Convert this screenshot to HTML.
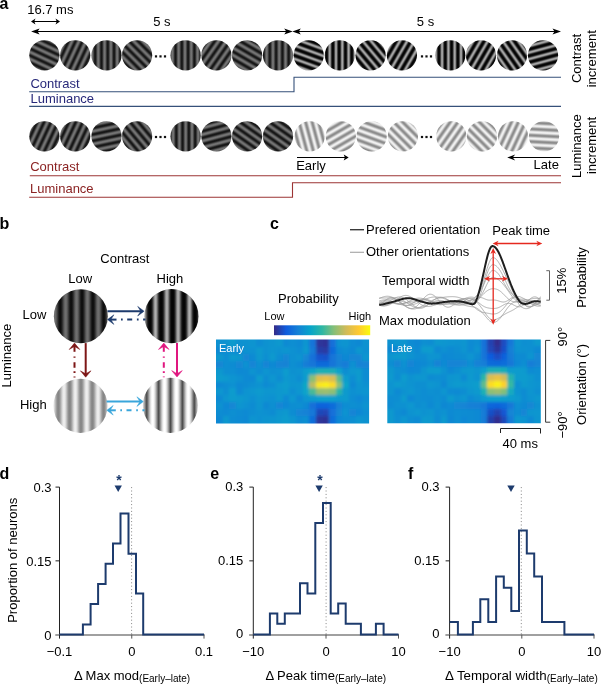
<!DOCTYPE html>
<html><head><meta charset="utf-8"><style>
html,body{margin:0;padding:0;background:#fff;}
svg{display:block;will-change:transform;}
text{font-family:"Liberation Sans", sans-serif;}
</style></head><body>
<svg width="601" height="685" viewBox="0 0 601 685">
<defs>
<linearGradient id="g1" gradientUnits="userSpaceOnUse" spreadMethod="repeat" x1="44.40" y1="55.30" x2="41.74" y2="61.01"><stop offset="0.0" stop-color="#151515"/><stop offset="0.08333333333333333" stop-color="#1b1b1b"/><stop offset="0.16666666666666666" stop-color="#2d2d2d"/><stop offset="0.25" stop-color="#454545"/><stop offset="0.3333333333333333" stop-color="#5d5d5d"/><stop offset="0.4166666666666667" stop-color="#6f6f6f"/><stop offset="0.5" stop-color="#757575"/><stop offset="0.5833333333333334" stop-color="#6f6f6f"/><stop offset="0.6666666666666666" stop-color="#5d5d5d"/><stop offset="0.75" stop-color="#454545"/><stop offset="0.8333333333333334" stop-color="#2d2d2d"/><stop offset="0.9166666666666666" stop-color="#1b1b1b"/><stop offset="1.0" stop-color="#151515"/></linearGradient>
<linearGradient id="g2" gradientUnits="userSpaceOnUse" spreadMethod="repeat" x1="75.77" y1="55.57" x2="81.48" y2="58.23"><stop offset="0.0" stop-color="#151515"/><stop offset="0.08333333333333333" stop-color="#1b1b1b"/><stop offset="0.16666666666666666" stop-color="#2d2d2d"/><stop offset="0.25" stop-color="#454545"/><stop offset="0.3333333333333333" stop-color="#5d5d5d"/><stop offset="0.4166666666666667" stop-color="#6f6f6f"/><stop offset="0.5" stop-color="#757575"/><stop offset="0.5833333333333334" stop-color="#6f6f6f"/><stop offset="0.6666666666666666" stop-color="#5d5d5d"/><stop offset="0.75" stop-color="#454545"/><stop offset="0.8333333333333334" stop-color="#2d2d2d"/><stop offset="0.9166666666666666" stop-color="#1b1b1b"/><stop offset="1.0" stop-color="#151515"/></linearGradient>
<linearGradient id="g3" gradientUnits="userSpaceOnUse" spreadMethod="repeat" x1="107.76" y1="55.30" x2="114.06" y2="55.30"><stop offset="0.0" stop-color="#151515"/><stop offset="0.08333333333333333" stop-color="#1b1b1b"/><stop offset="0.16666666666666666" stop-color="#2d2d2d"/><stop offset="0.25" stop-color="#454545"/><stop offset="0.3333333333333333" stop-color="#5d5d5d"/><stop offset="0.4166666666666667" stop-color="#6f6f6f"/><stop offset="0.5" stop-color="#757575"/><stop offset="0.5833333333333334" stop-color="#6f6f6f"/><stop offset="0.6666666666666666" stop-color="#5d5d5d"/><stop offset="0.75" stop-color="#454545"/><stop offset="0.8333333333333334" stop-color="#2d2d2d"/><stop offset="0.9166666666666666" stop-color="#1b1b1b"/><stop offset="1.0" stop-color="#151515"/></linearGradient>
<linearGradient id="g4" gradientUnits="userSpaceOnUse" spreadMethod="repeat" x1="135.76" y1="56.64" x2="131.31" y2="61.09"><stop offset="0.0" stop-color="#151515"/><stop offset="0.08333333333333333" stop-color="#1b1b1b"/><stop offset="0.16666666666666666" stop-color="#2d2d2d"/><stop offset="0.25" stop-color="#454545"/><stop offset="0.3333333333333333" stop-color="#5d5d5d"/><stop offset="0.4166666666666667" stop-color="#6f6f6f"/><stop offset="0.5" stop-color="#757575"/><stop offset="0.5833333333333334" stop-color="#6f6f6f"/><stop offset="0.6666666666666666" stop-color="#5d5d5d"/><stop offset="0.75" stop-color="#454545"/><stop offset="0.8333333333333334" stop-color="#2d2d2d"/><stop offset="0.9166666666666666" stop-color="#1b1b1b"/><stop offset="1.0" stop-color="#151515"/></linearGradient>
<linearGradient id="g5" gradientUnits="userSpaceOnUse" spreadMethod="repeat" x1="188.12" y1="55.30" x2="194.42" y2="55.30"><stop offset="0.0" stop-color="#151515"/><stop offset="0.08333333333333333" stop-color="#1b1b1b"/><stop offset="0.16666666666666666" stop-color="#2d2d2d"/><stop offset="0.25" stop-color="#454545"/><stop offset="0.3333333333333333" stop-color="#5d5d5d"/><stop offset="0.4166666666666667" stop-color="#6f6f6f"/><stop offset="0.5" stop-color="#757575"/><stop offset="0.5833333333333334" stop-color="#6f6f6f"/><stop offset="0.6666666666666666" stop-color="#5d5d5d"/><stop offset="0.75" stop-color="#454545"/><stop offset="0.8333333333333334" stop-color="#2d2d2d"/><stop offset="0.9166666666666666" stop-color="#1b1b1b"/><stop offset="1.0" stop-color="#151515"/></linearGradient>
<linearGradient id="g6" gradientUnits="userSpaceOnUse" spreadMethod="repeat" x1="218.98" y1="57.11" x2="224.14" y2="60.72"><stop offset="0.0" stop-color="#151515"/><stop offset="0.08333333333333333" stop-color="#1b1b1b"/><stop offset="0.16666666666666666" stop-color="#2d2d2d"/><stop offset="0.25" stop-color="#454545"/><stop offset="0.3333333333333333" stop-color="#5d5d5d"/><stop offset="0.4166666666666667" stop-color="#6f6f6f"/><stop offset="0.5" stop-color="#757575"/><stop offset="0.5833333333333334" stop-color="#6f6f6f"/><stop offset="0.6666666666666666" stop-color="#5d5d5d"/><stop offset="0.75" stop-color="#454545"/><stop offset="0.8333333333333334" stop-color="#2d2d2d"/><stop offset="0.9166666666666666" stop-color="#1b1b1b"/><stop offset="1.0" stop-color="#151515"/></linearGradient>
<linearGradient id="g7" gradientUnits="userSpaceOnUse" spreadMethod="repeat" x1="245.21" y1="58.57" x2="242.06" y2="64.03"><stop offset="0.0" stop-color="#151515"/><stop offset="0.08333333333333333" stop-color="#1b1b1b"/><stop offset="0.16666666666666666" stop-color="#2d2d2d"/><stop offset="0.25" stop-color="#454545"/><stop offset="0.3333333333333333" stop-color="#5d5d5d"/><stop offset="0.4166666666666667" stop-color="#6f6f6f"/><stop offset="0.5" stop-color="#757575"/><stop offset="0.5833333333333334" stop-color="#6f6f6f"/><stop offset="0.6666666666666666" stop-color="#5d5d5d"/><stop offset="0.75" stop-color="#454545"/><stop offset="0.8333333333333334" stop-color="#2d2d2d"/><stop offset="0.9166666666666666" stop-color="#1b1b1b"/><stop offset="1.0" stop-color="#151515"/></linearGradient>
<linearGradient id="g8" gradientUnits="userSpaceOnUse" spreadMethod="repeat" x1="282.41" y1="55.30" x2="288.71" y2="55.30"><stop offset="0.0" stop-color="#151515"/><stop offset="0.08333333333333333" stop-color="#1b1b1b"/><stop offset="0.16666666666666666" stop-color="#2d2d2d"/><stop offset="0.25" stop-color="#454545"/><stop offset="0.3333333333333333" stop-color="#5d5d5d"/><stop offset="0.4166666666666667" stop-color="#6f6f6f"/><stop offset="0.5" stop-color="#757575"/><stop offset="0.5833333333333334" stop-color="#6f6f6f"/><stop offset="0.6666666666666666" stop-color="#5d5d5d"/><stop offset="0.75" stop-color="#454545"/><stop offset="0.8333333333333334" stop-color="#2d2d2d"/><stop offset="0.9166666666666666" stop-color="#1b1b1b"/><stop offset="1.0" stop-color="#151515"/></linearGradient>
<linearGradient id="g9" gradientUnits="userSpaceOnUse" spreadMethod="repeat" x1="306.98" y1="60.04" x2="304.82" y2="65.96"><stop offset="0.0" stop-color="#040404"/><stop offset="0.041666666666666664" stop-color="#050505"/><stop offset="0.08333333333333333" stop-color="#080808"/><stop offset="0.125" stop-color="#0f0f0f"/><stop offset="0.16666666666666666" stop-color="#1c1c1c"/><stop offset="0.20833333333333334" stop-color="#2d2d2d"/><stop offset="0.25" stop-color="#424242"/><stop offset="0.2916666666666667" stop-color="#5a5a5a"/><stop offset="0.3333333333333333" stop-color="#727272"/><stop offset="0.375" stop-color="#878787"/><stop offset="0.4166666666666667" stop-color="#999999"/><stop offset="0.4583333333333333" stop-color="#a4a4a4"/><stop offset="0.5" stop-color="#a8a8a8"/><stop offset="0.5416666666666666" stop-color="#a4a4a4"/><stop offset="0.5833333333333334" stop-color="#999999"/><stop offset="0.625" stop-color="#878787"/><stop offset="0.6666666666666666" stop-color="#727272"/><stop offset="0.7083333333333334" stop-color="#5a5a5a"/><stop offset="0.75" stop-color="#424242"/><stop offset="0.7916666666666666" stop-color="#2d2d2d"/><stop offset="0.8333333333333334" stop-color="#1c1c1c"/><stop offset="0.875" stop-color="#0f0f0f"/><stop offset="0.9166666666666666" stop-color="#080808"/><stop offset="0.9583333333333334" stop-color="#050505"/><stop offset="1.0" stop-color="#040404"/></linearGradient>
<linearGradient id="g10" gradientUnits="userSpaceOnUse" spreadMethod="repeat" x1="345.47" y1="55.30" x2="351.77" y2="55.30"><stop offset="0.0" stop-color="#040404"/><stop offset="0.041666666666666664" stop-color="#050505"/><stop offset="0.08333333333333333" stop-color="#080808"/><stop offset="0.125" stop-color="#0f0f0f"/><stop offset="0.16666666666666666" stop-color="#1c1c1c"/><stop offset="0.20833333333333334" stop-color="#2d2d2d"/><stop offset="0.25" stop-color="#424242"/><stop offset="0.2916666666666667" stop-color="#5a5a5a"/><stop offset="0.3333333333333333" stop-color="#727272"/><stop offset="0.375" stop-color="#878787"/><stop offset="0.4166666666666667" stop-color="#999999"/><stop offset="0.4583333333333333" stop-color="#a4a4a4"/><stop offset="0.5" stop-color="#a8a8a8"/><stop offset="0.5416666666666666" stop-color="#a4a4a4"/><stop offset="0.5833333333333334" stop-color="#999999"/><stop offset="0.625" stop-color="#878787"/><stop offset="0.6666666666666666" stop-color="#727272"/><stop offset="0.7083333333333334" stop-color="#5a5a5a"/><stop offset="0.75" stop-color="#424242"/><stop offset="0.7916666666666666" stop-color="#2d2d2d"/><stop offset="0.8333333333333334" stop-color="#1c1c1c"/><stop offset="0.875" stop-color="#0f0f0f"/><stop offset="0.9166666666666666" stop-color="#080808"/><stop offset="0.9583333333333334" stop-color="#050505"/><stop offset="1.0" stop-color="#040404"/></linearGradient>
<linearGradient id="g11" gradientUnits="userSpaceOnUse" spreadMethod="repeat" x1="365.77" y1="59.35" x2="360.95" y2="63.40"><stop offset="0.0" stop-color="#040404"/><stop offset="0.041666666666666664" stop-color="#050505"/><stop offset="0.08333333333333333" stop-color="#080808"/><stop offset="0.125" stop-color="#0f0f0f"/><stop offset="0.16666666666666666" stop-color="#1c1c1c"/><stop offset="0.20833333333333334" stop-color="#2d2d2d"/><stop offset="0.25" stop-color="#424242"/><stop offset="0.2916666666666667" stop-color="#5a5a5a"/><stop offset="0.3333333333333333" stop-color="#727272"/><stop offset="0.375" stop-color="#878787"/><stop offset="0.4166666666666667" stop-color="#999999"/><stop offset="0.4583333333333333" stop-color="#a4a4a4"/><stop offset="0.5" stop-color="#a8a8a8"/><stop offset="0.5416666666666666" stop-color="#a4a4a4"/><stop offset="0.5833333333333334" stop-color="#999999"/><stop offset="0.625" stop-color="#878787"/><stop offset="0.6666666666666666" stop-color="#727272"/><stop offset="0.7083333333333334" stop-color="#5a5a5a"/><stop offset="0.75" stop-color="#424242"/><stop offset="0.7916666666666666" stop-color="#2d2d2d"/><stop offset="0.8333333333333334" stop-color="#1c1c1c"/><stop offset="0.875" stop-color="#0f0f0f"/><stop offset="0.9166666666666666" stop-color="#080808"/><stop offset="0.9583333333333334" stop-color="#050505"/><stop offset="1.0" stop-color="#040404"/></linearGradient>
<linearGradient id="g12" gradientUnits="userSpaceOnUse" spreadMethod="repeat" x1="407.90" y1="58.77" x2="413.36" y2="61.91"><stop offset="0.0" stop-color="#040404"/><stop offset="0.041666666666666664" stop-color="#050505"/><stop offset="0.08333333333333333" stop-color="#080808"/><stop offset="0.125" stop-color="#0f0f0f"/><stop offset="0.16666666666666666" stop-color="#1c1c1c"/><stop offset="0.20833333333333334" stop-color="#2d2d2d"/><stop offset="0.25" stop-color="#424242"/><stop offset="0.2916666666666667" stop-color="#5a5a5a"/><stop offset="0.3333333333333333" stop-color="#727272"/><stop offset="0.375" stop-color="#878787"/><stop offset="0.4166666666666667" stop-color="#999999"/><stop offset="0.4583333333333333" stop-color="#a4a4a4"/><stop offset="0.5" stop-color="#a8a8a8"/><stop offset="0.5416666666666666" stop-color="#a4a4a4"/><stop offset="0.5833333333333334" stop-color="#999999"/><stop offset="0.625" stop-color="#878787"/><stop offset="0.6666666666666666" stop-color="#727272"/><stop offset="0.7083333333333334" stop-color="#5a5a5a"/><stop offset="0.75" stop-color="#424242"/><stop offset="0.7916666666666666" stop-color="#2d2d2d"/><stop offset="0.8333333333333334" stop-color="#1c1c1c"/><stop offset="0.875" stop-color="#0f0f0f"/><stop offset="0.9166666666666666" stop-color="#080808"/><stop offset="0.9583333333333334" stop-color="#050505"/><stop offset="1.0" stop-color="#040404"/></linearGradient>
<linearGradient id="g13" gradientUnits="userSpaceOnUse" spreadMethod="repeat" x1="457.86" y1="55.30" x2="464.16" y2="55.30"><stop offset="0.0" stop-color="#040404"/><stop offset="0.041666666666666664" stop-color="#050505"/><stop offset="0.08333333333333333" stop-color="#080808"/><stop offset="0.125" stop-color="#0f0f0f"/><stop offset="0.16666666666666666" stop-color="#1c1c1c"/><stop offset="0.20833333333333334" stop-color="#2d2d2d"/><stop offset="0.25" stop-color="#424242"/><stop offset="0.2916666666666667" stop-color="#5a5a5a"/><stop offset="0.3333333333333333" stop-color="#727272"/><stop offset="0.375" stop-color="#878787"/><stop offset="0.4166666666666667" stop-color="#999999"/><stop offset="0.4583333333333333" stop-color="#a4a4a4"/><stop offset="0.5" stop-color="#a8a8a8"/><stop offset="0.5416666666666666" stop-color="#a4a4a4"/><stop offset="0.5833333333333334" stop-color="#999999"/><stop offset="0.625" stop-color="#878787"/><stop offset="0.6666666666666666" stop-color="#727272"/><stop offset="0.7083333333333334" stop-color="#5a5a5a"/><stop offset="0.75" stop-color="#424242"/><stop offset="0.7916666666666666" stop-color="#2d2d2d"/><stop offset="0.8333333333333334" stop-color="#1c1c1c"/><stop offset="0.875" stop-color="#0f0f0f"/><stop offset="0.9166666666666666" stop-color="#080808"/><stop offset="0.9583333333333334" stop-color="#050505"/><stop offset="1.0" stop-color="#040404"/></linearGradient>
<linearGradient id="g14" gradientUnits="userSpaceOnUse" spreadMethod="repeat" x1="488.09" y1="59.39" x2="493.55" y2="62.54"><stop offset="0.0" stop-color="#040404"/><stop offset="0.041666666666666664" stop-color="#050505"/><stop offset="0.08333333333333333" stop-color="#080808"/><stop offset="0.125" stop-color="#0f0f0f"/><stop offset="0.16666666666666666" stop-color="#1c1c1c"/><stop offset="0.20833333333333334" stop-color="#2d2d2d"/><stop offset="0.25" stop-color="#424242"/><stop offset="0.2916666666666667" stop-color="#5a5a5a"/><stop offset="0.3333333333333333" stop-color="#727272"/><stop offset="0.375" stop-color="#878787"/><stop offset="0.4166666666666667" stop-color="#999999"/><stop offset="0.4583333333333333" stop-color="#a4a4a4"/><stop offset="0.5" stop-color="#a8a8a8"/><stop offset="0.5416666666666666" stop-color="#a4a4a4"/><stop offset="0.5833333333333334" stop-color="#999999"/><stop offset="0.625" stop-color="#878787"/><stop offset="0.6666666666666666" stop-color="#727272"/><stop offset="0.7083333333333334" stop-color="#5a5a5a"/><stop offset="0.75" stop-color="#424242"/><stop offset="0.7916666666666666" stop-color="#2d2d2d"/><stop offset="0.8333333333333334" stop-color="#1c1c1c"/><stop offset="0.875" stop-color="#0f0f0f"/><stop offset="0.9166666666666666" stop-color="#080808"/><stop offset="0.9583333333333334" stop-color="#050505"/><stop offset="1.0" stop-color="#040404"/></linearGradient>
<linearGradient id="g15" gradientUnits="userSpaceOnUse" spreadMethod="repeat" x1="504.78" y1="60.36" x2="499.61" y2="63.97"><stop offset="0.0" stop-color="#040404"/><stop offset="0.041666666666666664" stop-color="#050505"/><stop offset="0.08333333333333333" stop-color="#080808"/><stop offset="0.125" stop-color="#0f0f0f"/><stop offset="0.16666666666666666" stop-color="#1c1c1c"/><stop offset="0.20833333333333334" stop-color="#2d2d2d"/><stop offset="0.25" stop-color="#424242"/><stop offset="0.2916666666666667" stop-color="#5a5a5a"/><stop offset="0.3333333333333333" stop-color="#727272"/><stop offset="0.375" stop-color="#878787"/><stop offset="0.4166666666666667" stop-color="#999999"/><stop offset="0.4583333333333333" stop-color="#a4a4a4"/><stop offset="0.5" stop-color="#a8a8a8"/><stop offset="0.5416666666666666" stop-color="#a4a4a4"/><stop offset="0.5833333333333334" stop-color="#999999"/><stop offset="0.625" stop-color="#878787"/><stop offset="0.6666666666666666" stop-color="#727272"/><stop offset="0.7083333333333334" stop-color="#5a5a5a"/><stop offset="0.75" stop-color="#424242"/><stop offset="0.7916666666666666" stop-color="#2d2d2d"/><stop offset="0.8333333333333334" stop-color="#1c1c1c"/><stop offset="0.875" stop-color="#0f0f0f"/><stop offset="0.9166666666666666" stop-color="#080808"/><stop offset="0.9583333333333334" stop-color="#050505"/><stop offset="1.0" stop-color="#040404"/></linearGradient>
<linearGradient id="g16" gradientUnits="userSpaceOnUse" spreadMethod="repeat" x1="545.45" y1="64.43" x2="547.08" y2="70.51"><stop offset="0.0" stop-color="#040404"/><stop offset="0.041666666666666664" stop-color="#050505"/><stop offset="0.08333333333333333" stop-color="#080808"/><stop offset="0.125" stop-color="#0f0f0f"/><stop offset="0.16666666666666666" stop-color="#1c1c1c"/><stop offset="0.20833333333333334" stop-color="#2d2d2d"/><stop offset="0.25" stop-color="#424242"/><stop offset="0.2916666666666667" stop-color="#5a5a5a"/><stop offset="0.3333333333333333" stop-color="#727272"/><stop offset="0.375" stop-color="#878787"/><stop offset="0.4166666666666667" stop-color="#999999"/><stop offset="0.4583333333333333" stop-color="#a4a4a4"/><stop offset="0.5" stop-color="#a8a8a8"/><stop offset="0.5416666666666666" stop-color="#a4a4a4"/><stop offset="0.5833333333333334" stop-color="#999999"/><stop offset="0.625" stop-color="#878787"/><stop offset="0.6666666666666666" stop-color="#727272"/><stop offset="0.7083333333333334" stop-color="#5a5a5a"/><stop offset="0.75" stop-color="#424242"/><stop offset="0.7916666666666666" stop-color="#2d2d2d"/><stop offset="0.8333333333333334" stop-color="#1c1c1c"/><stop offset="0.875" stop-color="#0f0f0f"/><stop offset="0.9166666666666666" stop-color="#080808"/><stop offset="0.9583333333333334" stop-color="#050505"/><stop offset="1.0" stop-color="#040404"/></linearGradient>
<linearGradient id="g17" gradientUnits="userSpaceOnUse" spreadMethod="repeat" x1="44.40" y1="136.30" x2="50.11" y2="138.96"><stop offset="0.0" stop-color="#151515"/><stop offset="0.08333333333333333" stop-color="#1b1b1b"/><stop offset="0.16666666666666666" stop-color="#2d2d2d"/><stop offset="0.25" stop-color="#454545"/><stop offset="0.3333333333333333" stop-color="#5d5d5d"/><stop offset="0.4166666666666667" stop-color="#6f6f6f"/><stop offset="0.5" stop-color="#757575"/><stop offset="0.5833333333333334" stop-color="#6f6f6f"/><stop offset="0.6666666666666666" stop-color="#5d5d5d"/><stop offset="0.75" stop-color="#454545"/><stop offset="0.8333333333333334" stop-color="#2d2d2d"/><stop offset="0.9166666666666666" stop-color="#1b1b1b"/><stop offset="1.0" stop-color="#151515"/></linearGradient>
<linearGradient id="g18" gradientUnits="userSpaceOnUse" spreadMethod="repeat" x1="75.94" y1="136.65" x2="81.65" y2="139.31"><stop offset="0.0" stop-color="#151515"/><stop offset="0.08333333333333333" stop-color="#1b1b1b"/><stop offset="0.16666666666666666" stop-color="#2d2d2d"/><stop offset="0.25" stop-color="#454545"/><stop offset="0.3333333333333333" stop-color="#5d5d5d"/><stop offset="0.4166666666666667" stop-color="#6f6f6f"/><stop offset="0.5" stop-color="#757575"/><stop offset="0.5833333333333334" stop-color="#6f6f6f"/><stop offset="0.6666666666666666" stop-color="#5d5d5d"/><stop offset="0.75" stop-color="#454545"/><stop offset="0.8333333333333334" stop-color="#2d2d2d"/><stop offset="0.9166666666666666" stop-color="#1b1b1b"/><stop offset="1.0" stop-color="#151515"/></linearGradient>
<linearGradient id="g19" gradientUnits="userSpaceOnUse" spreadMethod="repeat" x1="106.84" y1="137.90" x2="108.15" y2="144.06"><stop offset="0.0" stop-color="#151515"/><stop offset="0.08333333333333333" stop-color="#1b1b1b"/><stop offset="0.16666666666666666" stop-color="#2d2d2d"/><stop offset="0.25" stop-color="#454545"/><stop offset="0.3333333333333333" stop-color="#5d5d5d"/><stop offset="0.4166666666666667" stop-color="#6f6f6f"/><stop offset="0.5" stop-color="#757575"/><stop offset="0.5833333333333334" stop-color="#6f6f6f"/><stop offset="0.6666666666666666" stop-color="#5d5d5d"/><stop offset="0.75" stop-color="#454545"/><stop offset="0.8333333333333334" stop-color="#2d2d2d"/><stop offset="0.9166666666666666" stop-color="#1b1b1b"/><stop offset="1.0" stop-color="#151515"/></linearGradient>
<linearGradient id="g20" gradientUnits="userSpaceOnUse" spreadMethod="repeat" x1="135.22" y1="137.88" x2="130.39" y2="141.93"><stop offset="0.0" stop-color="#151515"/><stop offset="0.08333333333333333" stop-color="#1b1b1b"/><stop offset="0.16666666666666666" stop-color="#2d2d2d"/><stop offset="0.25" stop-color="#454545"/><stop offset="0.3333333333333333" stop-color="#5d5d5d"/><stop offset="0.4166666666666667" stop-color="#6f6f6f"/><stop offset="0.5" stop-color="#757575"/><stop offset="0.5833333333333334" stop-color="#6f6f6f"/><stop offset="0.6666666666666666" stop-color="#5d5d5d"/><stop offset="0.75" stop-color="#454545"/><stop offset="0.8333333333333334" stop-color="#2d2d2d"/><stop offset="0.9166666666666666" stop-color="#1b1b1b"/><stop offset="1.0" stop-color="#151515"/></linearGradient>
<linearGradient id="g21" gradientUnits="userSpaceOnUse" spreadMethod="repeat" x1="188.88" y1="136.30" x2="195.18" y2="136.30"><stop offset="0.0" stop-color="#151515"/><stop offset="0.08333333333333333" stop-color="#1b1b1b"/><stop offset="0.16666666666666666" stop-color="#2d2d2d"/><stop offset="0.25" stop-color="#454545"/><stop offset="0.3333333333333333" stop-color="#5d5d5d"/><stop offset="0.4166666666666667" stop-color="#6f6f6f"/><stop offset="0.5" stop-color="#757575"/><stop offset="0.5833333333333334" stop-color="#6f6f6f"/><stop offset="0.6666666666666666" stop-color="#5d5d5d"/><stop offset="0.75" stop-color="#454545"/><stop offset="0.8333333333333334" stop-color="#2d2d2d"/><stop offset="0.9166666666666666" stop-color="#1b1b1b"/><stop offset="1.0" stop-color="#151515"/></linearGradient>
<linearGradient id="g22" gradientUnits="userSpaceOnUse" spreadMethod="repeat" x1="217.46" y1="140.26" x2="219.09" y2="146.34"><stop offset="0.0" stop-color="#151515"/><stop offset="0.08333333333333333" stop-color="#1b1b1b"/><stop offset="0.16666666666666666" stop-color="#2d2d2d"/><stop offset="0.25" stop-color="#454545"/><stop offset="0.3333333333333333" stop-color="#5d5d5d"/><stop offset="0.4166666666666667" stop-color="#6f6f6f"/><stop offset="0.5" stop-color="#757575"/><stop offset="0.5833333333333334" stop-color="#6f6f6f"/><stop offset="0.6666666666666666" stop-color="#5d5d5d"/><stop offset="0.75" stop-color="#454545"/><stop offset="0.8333333333333334" stop-color="#2d2d2d"/><stop offset="0.9166666666666666" stop-color="#1b1b1b"/><stop offset="1.0" stop-color="#151515"/></linearGradient>
<linearGradient id="g23" gradientUnits="userSpaceOnUse" spreadMethod="repeat" x1="244.28" y1="140.33" x2="240.67" y2="145.49"><stop offset="0.0" stop-color="#151515"/><stop offset="0.08333333333333333" stop-color="#1b1b1b"/><stop offset="0.16666666666666666" stop-color="#2d2d2d"/><stop offset="0.25" stop-color="#454545"/><stop offset="0.3333333333333333" stop-color="#5d5d5d"/><stop offset="0.4166666666666667" stop-color="#6f6f6f"/><stop offset="0.5" stop-color="#757575"/><stop offset="0.5833333333333334" stop-color="#6f6f6f"/><stop offset="0.6666666666666666" stop-color="#5d5d5d"/><stop offset="0.75" stop-color="#454545"/><stop offset="0.8333333333333334" stop-color="#2d2d2d"/><stop offset="0.9166666666666666" stop-color="#1b1b1b"/><stop offset="1.0" stop-color="#151515"/></linearGradient>
<linearGradient id="g24" gradientUnits="userSpaceOnUse" spreadMethod="repeat" x1="274.71" y1="141.00" x2="271.10" y2="146.16"><stop offset="0.0" stop-color="#151515"/><stop offset="0.08333333333333333" stop-color="#1b1b1b"/><stop offset="0.16666666666666666" stop-color="#2d2d2d"/><stop offset="0.25" stop-color="#454545"/><stop offset="0.3333333333333333" stop-color="#5d5d5d"/><stop offset="0.4166666666666667" stop-color="#6f6f6f"/><stop offset="0.5" stop-color="#757575"/><stop offset="0.5833333333333334" stop-color="#6f6f6f"/><stop offset="0.6666666666666666" stop-color="#5d5d5d"/><stop offset="0.75" stop-color="#454545"/><stop offset="0.8333333333333334" stop-color="#2d2d2d"/><stop offset="0.9166666666666666" stop-color="#1b1b1b"/><stop offset="1.0" stop-color="#151515"/></linearGradient>
<linearGradient id="g25" gradientUnits="userSpaceOnUse" spreadMethod="repeat" x1="303.37" y1="138.00" x2="297.29" y2="139.63"><stop offset="0.0" stop-color="#8a8a8a"/><stop offset="0.08333333333333333" stop-color="#919191"/><stop offset="0.16666666666666666" stop-color="#a4a4a4"/><stop offset="0.25" stop-color="#bebebe"/><stop offset="0.3333333333333333" stop-color="#d8d8d8"/><stop offset="0.4166666666666667" stop-color="#ebebeb"/><stop offset="0.5" stop-color="#f2f2f2"/><stop offset="0.5833333333333334" stop-color="#ebebeb"/><stop offset="0.6666666666666666" stop-color="#d8d8d8"/><stop offset="0.75" stop-color="#bebebe"/><stop offset="0.8333333333333334" stop-color="#a4a4a4"/><stop offset="0.9166666666666666" stop-color="#919191"/><stop offset="1.0" stop-color="#8a8a8a"/></linearGradient>
<linearGradient id="g26" gradientUnits="userSpaceOnUse" spreadMethod="repeat" x1="344.49" y1="142.68" x2="347.64" y2="148.14"><stop offset="0.0" stop-color="#8a8a8a"/><stop offset="0.08333333333333333" stop-color="#919191"/><stop offset="0.16666666666666666" stop-color="#a4a4a4"/><stop offset="0.25" stop-color="#bebebe"/><stop offset="0.3333333333333333" stop-color="#d8d8d8"/><stop offset="0.4166666666666667" stop-color="#ebebeb"/><stop offset="0.5" stop-color="#f2f2f2"/><stop offset="0.5833333333333334" stop-color="#ebebeb"/><stop offset="0.6666666666666666" stop-color="#d8d8d8"/><stop offset="0.75" stop-color="#bebebe"/><stop offset="0.8333333333333334" stop-color="#a4a4a4"/><stop offset="0.9166666666666666" stop-color="#919191"/><stop offset="1.0" stop-color="#8a8a8a"/></linearGradient>
<linearGradient id="g27" gradientUnits="userSpaceOnUse" spreadMethod="repeat" x1="368.80" y1="144.00" x2="366.64" y2="149.92"><stop offset="0.0" stop-color="#8a8a8a"/><stop offset="0.08333333333333333" stop-color="#919191"/><stop offset="0.16666666666666666" stop-color="#a4a4a4"/><stop offset="0.25" stop-color="#bebebe"/><stop offset="0.3333333333333333" stop-color="#d8d8d8"/><stop offset="0.4166666666666667" stop-color="#ebebeb"/><stop offset="0.5" stop-color="#f2f2f2"/><stop offset="0.5833333333333334" stop-color="#ebebeb"/><stop offset="0.6666666666666666" stop-color="#d8d8d8"/><stop offset="0.75" stop-color="#bebebe"/><stop offset="0.8333333333333334" stop-color="#a4a4a4"/><stop offset="0.9166666666666666" stop-color="#919191"/><stop offset="1.0" stop-color="#8a8a8a"/></linearGradient>
<linearGradient id="g28" gradientUnits="userSpaceOnUse" spreadMethod="repeat" x1="396.53" y1="142.67" x2="392.07" y2="147.13"><stop offset="0.0" stop-color="#8a8a8a"/><stop offset="0.08333333333333333" stop-color="#919191"/><stop offset="0.16666666666666666" stop-color="#a4a4a4"/><stop offset="0.25" stop-color="#bebebe"/><stop offset="0.3333333333333333" stop-color="#d8d8d8"/><stop offset="0.4166666666666667" stop-color="#ebebeb"/><stop offset="0.5" stop-color="#f2f2f2"/><stop offset="0.5833333333333334" stop-color="#ebebeb"/><stop offset="0.6666666666666666" stop-color="#d8d8d8"/><stop offset="0.75" stop-color="#bebebe"/><stop offset="0.8333333333333334" stop-color="#a4a4a4"/><stop offset="0.9166666666666666" stop-color="#919191"/><stop offset="1.0" stop-color="#8a8a8a"/></linearGradient>
<linearGradient id="g29" gradientUnits="userSpaceOnUse" spreadMethod="repeat" x1="459.35" y1="141.94" x2="464.51" y2="145.55"><stop offset="0.0" stop-color="#8a8a8a"/><stop offset="0.08333333333333333" stop-color="#919191"/><stop offset="0.16666666666666666" stop-color="#a4a4a4"/><stop offset="0.25" stop-color="#bebebe"/><stop offset="0.3333333333333333" stop-color="#d8d8d8"/><stop offset="0.4166666666666667" stop-color="#ebebeb"/><stop offset="0.5" stop-color="#f2f2f2"/><stop offset="0.5833333333333334" stop-color="#ebebeb"/><stop offset="0.6666666666666666" stop-color="#d8d8d8"/><stop offset="0.75" stop-color="#bebebe"/><stop offset="0.8333333333333334" stop-color="#a4a4a4"/><stop offset="0.9166666666666666" stop-color="#919191"/><stop offset="1.0" stop-color="#8a8a8a"/></linearGradient>
<linearGradient id="g30" gradientUnits="userSpaceOnUse" spreadMethod="repeat" x1="474.47" y1="143.83" x2="470.02" y2="148.28"><stop offset="0.0" stop-color="#8a8a8a"/><stop offset="0.08333333333333333" stop-color="#919191"/><stop offset="0.16666666666666666" stop-color="#a4a4a4"/><stop offset="0.25" stop-color="#bebebe"/><stop offset="0.3333333333333333" stop-color="#d8d8d8"/><stop offset="0.4166666666666667" stop-color="#ebebeb"/><stop offset="0.5" stop-color="#f2f2f2"/><stop offset="0.5833333333333334" stop-color="#ebebeb"/><stop offset="0.6666666666666666" stop-color="#d8d8d8"/><stop offset="0.75" stop-color="#bebebe"/><stop offset="0.8333333333333334" stop-color="#a4a4a4"/><stop offset="0.9166666666666666" stop-color="#919191"/><stop offset="1.0" stop-color="#8a8a8a"/></linearGradient>
<linearGradient id="g31" gradientUnits="userSpaceOnUse" spreadMethod="repeat" x1="523.39" y1="141.15" x2="529.10" y2="143.81"><stop offset="0.0" stop-color="#8a8a8a"/><stop offset="0.08333333333333333" stop-color="#919191"/><stop offset="0.16666666666666666" stop-color="#a4a4a4"/><stop offset="0.25" stop-color="#bebebe"/><stop offset="0.3333333333333333" stop-color="#d8d8d8"/><stop offset="0.4166666666666667" stop-color="#ebebeb"/><stop offset="0.5" stop-color="#f2f2f2"/><stop offset="0.5833333333333334" stop-color="#ebebeb"/><stop offset="0.6666666666666666" stop-color="#d8d8d8"/><stop offset="0.75" stop-color="#bebebe"/><stop offset="0.8333333333333334" stop-color="#a4a4a4"/><stop offset="0.9166666666666666" stop-color="#919191"/><stop offset="1.0" stop-color="#8a8a8a"/></linearGradient>
<linearGradient id="g32" gradientUnits="userSpaceOnUse" spreadMethod="repeat" x1="543.36" y1="148.57" x2="543.03" y2="154.86"><stop offset="0.0" stop-color="#8a8a8a"/><stop offset="0.08333333333333333" stop-color="#919191"/><stop offset="0.16666666666666666" stop-color="#a4a4a4"/><stop offset="0.25" stop-color="#bebebe"/><stop offset="0.3333333333333333" stop-color="#d8d8d8"/><stop offset="0.4166666666666667" stop-color="#ebebeb"/><stop offset="0.5" stop-color="#f2f2f2"/><stop offset="0.5833333333333334" stop-color="#ebebeb"/><stop offset="0.6666666666666666" stop-color="#d8d8d8"/><stop offset="0.75" stop-color="#bebebe"/><stop offset="0.8333333333333334" stop-color="#a4a4a4"/><stop offset="0.9166666666666666" stop-color="#919191"/><stop offset="1.0" stop-color="#8a8a8a"/></linearGradient>
<linearGradient id="g33" gradientUnits="userSpaceOnUse" spreadMethod="repeat" x1="82.00" y1="316.20" x2="92.90" y2="316.20"><stop offset="0.0" stop-color="#0c0c0c"/><stop offset="0.08333333333333333" stop-color="#131313"/><stop offset="0.16666666666666666" stop-color="#252525"/><stop offset="0.25" stop-color="#3d3d3d"/><stop offset="0.3333333333333333" stop-color="#565656"/><stop offset="0.4166666666666667" stop-color="#686868"/><stop offset="0.5" stop-color="#6f6f6f"/><stop offset="0.5833333333333334" stop-color="#686868"/><stop offset="0.6666666666666666" stop-color="#565656"/><stop offset="0.75" stop-color="#3e3e3e"/><stop offset="0.8333333333333334" stop-color="#252525"/><stop offset="0.9166666666666666" stop-color="#131313"/><stop offset="1.0" stop-color="#0c0c0c"/></linearGradient>
<linearGradient id="g34" gradientUnits="userSpaceOnUse" spreadMethod="repeat" x1="172.50" y1="316.20" x2="183.83" y2="316.20"><stop offset="0.0" stop-color="#050505"/><stop offset="0.08333333333333333" stop-color="#070707"/><stop offset="0.16666666666666666" stop-color="#181818"/><stop offset="0.25" stop-color="#3d3d3d"/><stop offset="0.3333333333333333" stop-color="#717171"/><stop offset="0.4166666666666667" stop-color="#9e9e9e"/><stop offset="0.5" stop-color="#b0b0b0"/><stop offset="0.5833333333333334" stop-color="#9e9e9e"/><stop offset="0.6666666666666666" stop-color="#717171"/><stop offset="0.75" stop-color="#3d3d3d"/><stop offset="0.8333333333333334" stop-color="#181818"/><stop offset="0.9166666666666666" stop-color="#070707"/><stop offset="1.0" stop-color="#050505"/></linearGradient>
<linearGradient id="g35" gradientUnits="userSpaceOnUse" spreadMethod="repeat" x1="81.00" y1="405.80" x2="92.35" y2="405.80"><stop offset="0.0" stop-color="#858585"/><stop offset="0.08333333333333333" stop-color="#8c8c8c"/><stop offset="0.16666666666666666" stop-color="#a0a0a0"/><stop offset="0.25" stop-color="#bababa"/><stop offset="0.3333333333333333" stop-color="#d4d4d4"/><stop offset="0.4166666666666667" stop-color="#e8e8e8"/><stop offset="0.5" stop-color="#efefef"/><stop offset="0.5833333333333334" stop-color="#e8e8e8"/><stop offset="0.6666666666666666" stop-color="#d5d5d5"/><stop offset="0.75" stop-color="#bababa"/><stop offset="0.8333333333333334" stop-color="#a0a0a0"/><stop offset="0.9166666666666666" stop-color="#8c8c8c"/><stop offset="1.0" stop-color="#858585"/></linearGradient>
<linearGradient id="g36" gradientUnits="userSpaceOnUse" spreadMethod="repeat" x1="170.50" y1="405.30" x2="182.40" y2="405.30"><stop offset="0.0" stop-color="#4c4c4c"/><stop offset="0.041666666666666664" stop-color="#5c5c5c"/><stop offset="0.08333333333333333" stop-color="#6f6f6f"/><stop offset="0.125" stop-color="#858585"/><stop offset="0.16666666666666666" stop-color="#9a9a9a"/><stop offset="0.20833333333333334" stop-color="#afafaf"/><stop offset="0.25" stop-color="#c2c2c2"/><stop offset="0.2916666666666667" stop-color="#d4d4d4"/><stop offset="0.3333333333333333" stop-color="#e3e3e3"/><stop offset="0.375" stop-color="#efefef"/><stop offset="0.4166666666666667" stop-color="#f8f8f8"/><stop offset="0.4583333333333333" stop-color="#fdfdfd"/><stop offset="0.5" stop-color="#ffffff"/><stop offset="0.5416666666666666" stop-color="#fdfdfd"/><stop offset="0.5833333333333334" stop-color="#f8f8f8"/><stop offset="0.625" stop-color="#efefef"/><stop offset="0.6666666666666666" stop-color="#e3e3e3"/><stop offset="0.7083333333333334" stop-color="#d4d4d4"/><stop offset="0.75" stop-color="#c2c2c2"/><stop offset="0.7916666666666666" stop-color="#afafaf"/><stop offset="0.8333333333333334" stop-color="#9a9a9a"/><stop offset="0.875" stop-color="#858585"/><stop offset="0.9166666666666666" stop-color="#6f6f6f"/><stop offset="0.9583333333333334" stop-color="#5c5c5c"/><stop offset="1.0" stop-color="#4c4c4c"/></linearGradient>
<linearGradient id="cbar" x1="0" y1="0" x2="1" y2="0"><stop offset="0.000" stop-color="#352A87"/><stop offset="0.125" stop-color="#0F5CDD"/><stop offset="0.250" stop-color="#1481D6"/><stop offset="0.375" stop-color="#06A4CA"/><stop offset="0.500" stop-color="#2EB7A4"/><stop offset="0.625" stop-color="#87BF77"/><stop offset="0.750" stop-color="#D1BB59"/><stop offset="0.875" stop-color="#FEC832"/><stop offset="1.000" stop-color="#F9FB0E"/></linearGradient>
<filter id="hblur" x="-5%" y="-5%" width="110%" height="110%"><feGaussianBlur stdDeviation="1.5"/></filter>
<clipPath id="clip11"><rect x="216.0" y="339.6" width="153.1" height="83.8"/></clipPath>
<clipPath id="clip12"><rect x="387.3" y="339.4" width="153.5" height="83.8"/></clipPath>
</defs>
<rect width="601" height="685" fill="#fff"/>
<text x="-0.60" y="9.20" font-size="16" text-anchor="start" font-weight="bold" fill="#000" >a</text>
<text x="27.20" y="13.80" font-size="13" text-anchor="start" font-weight="normal" fill="#000" >16.7 ms</text>
<line x1="32.00" y1="21.50" x2="59.00" y2="21.50" stroke="#000" stroke-width="1.0" />
<polygon points="31.00,21.50 35.50,18.50 34.30,21.50 35.50,24.50" fill="#000"/>
<polygon points="60.00,21.50 55.50,18.50 56.70,21.50 55.50,24.50" fill="#000"/>
<line x1="33.00" y1="31.50" x2="290.00" y2="31.50" stroke="#000" stroke-width="1.0" />
<polygon points="31.10,31.50 39.60,28.50 37.60,31.50 39.60,34.50" fill="#000"/>
<polygon points="292.70,31.50 284.20,28.50 286.20,31.50 284.20,34.50" fill="#000"/>
<line x1="295.00" y1="31.50" x2="558.00" y2="31.50" stroke="#000" stroke-width="1.0" />
<polygon points="292.30,31.50 300.80,28.50 298.80,31.50 300.80,34.50" fill="#000"/>
<polygon points="561.00,31.50 552.50,28.50 554.50,31.50 552.50,34.50" fill="#000"/>
<text x="153.20" y="25.80" font-size="13" text-anchor="start" font-weight="normal" fill="#000" >5 s</text>
<text x="416.80" y="26.00" font-size="13" text-anchor="start" font-weight="normal" fill="#000" >5 s</text>
<circle cx="44.40" cy="55.30" r="15.10" fill="url(#g1)"/>
<circle cx="75.20" cy="55.30" r="15.10" fill="url(#g2)"/>
<circle cx="106.50" cy="55.30" r="15.10" fill="url(#g3)"/>
<circle cx="137.10" cy="55.30" r="15.10" fill="url(#g4)"/>
<circle cx="185.60" cy="55.30" r="15.10" fill="url(#g5)"/>
<circle cx="216.40" cy="55.30" r="15.10" fill="url(#g6)"/>
<circle cx="247.10" cy="55.30" r="15.10" fill="url(#g7)"/>
<circle cx="278.00" cy="55.30" r="15.10" fill="url(#g8)"/>
<circle cx="308.70" cy="55.30" r="15.10" fill="url(#g9)"/>
<circle cx="339.80" cy="55.30" r="15.10" fill="url(#g10)"/>
<circle cx="370.60" cy="55.30" r="15.10" fill="url(#g11)"/>
<circle cx="401.90" cy="55.30" r="15.10" fill="url(#g12)"/>
<circle cx="450.30" cy="55.30" r="15.10" fill="url(#g13)"/>
<circle cx="481.00" cy="55.30" r="15.10" fill="url(#g14)"/>
<circle cx="512.00" cy="55.30" r="15.10" fill="url(#g15)"/>
<circle cx="543.00" cy="55.30" r="15.10" fill="url(#g16)"/>
<circle cx="44.40" cy="136.30" r="15.10" fill="url(#g17)"/>
<circle cx="75.20" cy="136.30" r="15.10" fill="url(#g18)"/>
<circle cx="106.50" cy="136.30" r="15.10" fill="url(#g19)"/>
<circle cx="137.10" cy="136.30" r="15.10" fill="url(#g20)"/>
<circle cx="185.60" cy="136.30" r="15.10" fill="url(#g21)"/>
<circle cx="216.40" cy="136.30" r="15.10" fill="url(#g22)"/>
<circle cx="247.10" cy="136.30" r="15.10" fill="url(#g23)"/>
<circle cx="278.00" cy="136.30" r="15.10" fill="url(#g24)"/>
<circle cx="309.70" cy="136.30" r="15.10" fill="url(#g25)"/>
<circle cx="340.80" cy="136.30" r="15.10" fill="url(#g26)"/>
<circle cx="371.60" cy="136.30" r="15.10" fill="url(#g27)"/>
<circle cx="402.90" cy="136.30" r="15.10" fill="url(#g28)"/>
<circle cx="451.30" cy="136.30" r="15.10" fill="url(#g29)"/>
<circle cx="482.00" cy="136.30" r="15.10" fill="url(#g30)"/>
<circle cx="513.00" cy="136.30" r="15.10" fill="url(#g31)"/>
<circle cx="544.00" cy="136.30" r="15.10" fill="url(#g32)"/>
<rect x="154.90" y="55.30" width="2.2" height="2.2" fill="#111"/>
<rect x="159.40" y="55.30" width="2.2" height="2.2" fill="#111"/>
<rect x="163.90" y="55.30" width="2.2" height="2.2" fill="#111"/>
<rect x="420.90" y="55.30" width="2.2" height="2.2" fill="#111"/>
<rect x="425.40" y="55.30" width="2.2" height="2.2" fill="#111"/>
<rect x="429.90" y="55.30" width="2.2" height="2.2" fill="#111"/>
<rect x="154.90" y="135.90" width="2.2" height="2.2" fill="#111"/>
<rect x="159.40" y="135.90" width="2.2" height="2.2" fill="#111"/>
<rect x="163.90" y="135.90" width="2.2" height="2.2" fill="#111"/>
<rect x="420.90" y="135.90" width="2.2" height="2.2" fill="#111"/>
<rect x="425.40" y="135.90" width="2.2" height="2.2" fill="#111"/>
<rect x="429.90" y="135.90" width="2.2" height="2.2" fill="#111"/>
<text x="30.40" y="88.00" font-size="13" text-anchor="start" font-weight="normal" fill="#28297a" >Contrast</text>
<polyline points="29.2,91.8 294,91.8 294,77.2 561,77.2" fill="none" stroke="#36507a" stroke-width="1.1"/>
<text x="30.50" y="102.50" font-size="13" text-anchor="start" font-weight="normal" fill="#28297a" >Luminance</text>
<line x1="29.20" y1="106.40" x2="561.00" y2="106.40" stroke="#36507a" stroke-width="1.1" />
<text transform="translate(580.70,58.50) rotate(-90)" x="0" y="0" font-size="13" text-anchor="middle" fill="#000">Contrast</text>
<text transform="translate(596.00,58.80) rotate(-90)" x="0" y="0" font-size="13" text-anchor="middle" fill="#000">increment</text>
<text x="30.20" y="171.20" font-size="13" text-anchor="start" font-weight="normal" fill="#8b2323" >Contrast</text>
<line x1="29.80" y1="175.80" x2="561.00" y2="175.80" stroke="#9c3434" stroke-width="1.1" />
<text x="30.00" y="193.00" font-size="13" text-anchor="start" font-weight="normal" fill="#8b2323" >Luminance</text>
<polyline points="29.2,197.3 292.5,197.3 292.5,182.8 561,182.8" fill="none" stroke="#9c3434" stroke-width="1.1"/>
<text transform="translate(580.70,146.10) rotate(-90)" x="0" y="0" font-size="13" text-anchor="middle" fill="#000">Luminance</text>
<text transform="translate(596.00,145.50) rotate(-90)" x="0" y="0" font-size="13" text-anchor="middle" fill="#000">increment</text>
<line x1="297.00" y1="157.50" x2="346.00" y2="157.50" stroke="#000" stroke-width="1.0" />
<polygon points="348.70,157.50 343.70,154.60 344.90,157.50 343.70,160.40" fill="#000"/>
<text x="296.20" y="169.60" font-size="13" text-anchor="start" font-weight="normal" fill="#000" >Early</text>
<line x1="510.00" y1="157.50" x2="560.80" y2="157.50" stroke="#000" stroke-width="1.0" />
<polygon points="507.20,157.50 515.20,154.50 512.70,157.50 515.20,160.50" fill="#000"/>
<text x="533.60" y="169.40" font-size="13" text-anchor="start" font-weight="normal" fill="#000" >Late</text>
<text x="-0.60" y="228.90" font-size="16" text-anchor="start" font-weight="bold" fill="#000" >b</text>
<text x="100.30" y="263.00" font-size="13" text-anchor="start" font-weight="normal" fill="#000" >Contrast</text>
<text x="68.30" y="283.00" font-size="13" text-anchor="start" font-weight="normal" fill="#000" >Low</text>
<text x="156.60" y="283.00" font-size="13" text-anchor="start" font-weight="normal" fill="#000" >High</text>
<text x="22.60" y="319.00" font-size="13" text-anchor="start" font-weight="normal" fill="#000" >Low</text>
<text x="19.90" y="409.30" font-size="13" text-anchor="start" font-weight="normal" fill="#000" >High</text>
<text transform="translate(10.90,355.60) rotate(-90)" x="0" y="0" font-size="13" text-anchor="middle" fill="#000">Luminance</text>
<circle cx="80.85" cy="316.20" r="27.00" fill="url(#g33)"/>
<circle cx="171.45" cy="316.20" r="27.10" fill="url(#g34)"/>
<circle cx="80.50" cy="405.80" r="27.10" fill="url(#g35)"/>
<circle cx="170.40" cy="405.30" r="27.60" fill="url(#g36)"/>
<line x1="142.60" y1="311.20" x2="107.50" y2="311.20" stroke="#1d3b6d" stroke-width="2.0"/>
<polygon points="144.10,311.20 137.70,316.00 140.77,311.20 137.70,306.40" fill="#1d3b6d" stroke="#1d3b6d" stroke-width="0.5" stroke-linejoin="round"/>
<line x1="109.00" y1="319.60" x2="116.50" y2="319.60" stroke="#1d3b6d" stroke-width="2.0"/>
<line x1="121.00" y1="319.60" x2="145.50" y2="319.60" stroke="#1d3b6d" stroke-width="2.0" stroke-dasharray="1.7,4.5,5,4.7"/>
<polygon points="107.50,319.60 113.90,314.80 110.83,319.60 113.90,324.40" fill="#1d3b6d" stroke="#1d3b6d" stroke-width="0.5" stroke-linejoin="round"/>
<line x1="141.80" y1="401.60" x2="106.60" y2="401.60" stroke="#3aa6db" stroke-width="2.0"/>
<polygon points="143.30,401.60 136.90,406.40 139.97,401.60 136.90,396.80" fill="#3aa6db" stroke="#3aa6db" stroke-width="0.5" stroke-linejoin="round"/>
<line x1="108.30" y1="410.30" x2="115.80" y2="410.30" stroke="#3aa6db" stroke-width="2.0"/>
<line x1="120.30" y1="410.30" x2="144.50" y2="410.30" stroke="#3aa6db" stroke-width="2.0" stroke-dasharray="1.7,4.5,5,4.7"/>
<polygon points="106.80,410.30 113.20,405.50 110.13,410.30 113.20,415.10" fill="#3aa6db" stroke="#3aa6db" stroke-width="0.5" stroke-linejoin="round"/>
<line x1="85.70" y1="375.70" x2="85.70" y2="343.10" stroke="#7d1616" stroke-width="2.0"/>
<polygon points="85.70,377.20 80.40,370.80 85.70,373.87 91.00,370.80" fill="#7d1616" stroke="#7d1616" stroke-width="0.5" stroke-linejoin="round"/>
<line x1="74.50" y1="344.60" x2="74.50" y2="351.80" stroke="#7d1616" stroke-width="2.0"/>
<line x1="74.50" y1="356.60" x2="74.50" y2="377.60" stroke="#7d1616" stroke-width="2.0" stroke-dasharray="1.2,4.4,5.5,3.6,1.7,3.5,1.2,9"/>
<polygon points="74.50,343.10 79.80,349.50 74.50,346.43 69.20,349.50" fill="#7d1616" stroke="#7d1616" stroke-width="0.5" stroke-linejoin="round"/>
<line x1="177.00" y1="375.50" x2="177.00" y2="343.10" stroke="#e0177f" stroke-width="2.0"/>
<polygon points="177.00,377.00 171.70,370.60 177.00,373.67 182.30,370.60" fill="#e0177f" stroke="#e0177f" stroke-width="0.5" stroke-linejoin="round"/>
<line x1="163.80" y1="344.60" x2="163.80" y2="351.80" stroke="#e0177f" stroke-width="2.0"/>
<line x1="163.80" y1="356.60" x2="163.80" y2="377.20" stroke="#e0177f" stroke-width="2.0" stroke-dasharray="1.2,4.4,5.5,3.6,1.7,3.5,1.2,9"/>
<polygon points="163.80,343.10 169.10,349.50 163.80,346.43 158.50,349.50" fill="#e0177f" stroke="#e0177f" stroke-width="0.5" stroke-linejoin="round"/>
<text x="270.00" y="229.20" font-size="16" text-anchor="start" font-weight="bold" fill="#000" >c</text>
<line x1="350.00" y1="229.70" x2="364.00" y2="229.70" stroke="#3a3a3a" stroke-width="1.4" />
<text x="366.00" y="234.00" font-size="13" text-anchor="start" font-weight="normal" fill="#000" >Prefered orientation</text>
<line x1="350.00" y1="252.30" x2="364.00" y2="252.30" stroke="#aaa" stroke-width="1.2" />
<text x="366.00" y="256.00" font-size="13" text-anchor="start" font-weight="normal" fill="#000" >Other orientations</text>
<text x="382.00" y="284.50" font-size="13" text-anchor="start" font-weight="normal" fill="#000" >Temporal width</text>
<text x="379.00" y="325.30" font-size="13" text-anchor="start" font-weight="normal" fill="#000" >Max modulation</text>
<text x="492.30" y="235.00" font-size="13" text-anchor="start" font-weight="normal" fill="#000" >Peak time</text>
<text x="278.00" y="302.60" font-size="13" text-anchor="start" font-weight="normal" fill="#000" >Probability</text>
<text x="264.30" y="319.60" font-size="11" text-anchor="start" font-weight="normal" fill="#000" >Low</text>
<text x="348.60" y="319.60" font-size="11" text-anchor="start" font-weight="normal" fill="#000" >High</text>
<rect x="274" y="325.3" width="96.2" height="9.9" fill="url(#cbar)"/>
<polyline points="379.2,304.20 379.7,304.43 380.2,304.65 380.7,304.85 381.2,305.04 381.7,305.21 382.2,305.36 382.7,305.49 383.2,305.60 383.7,305.68 384.2,305.74 384.7,305.78 385.2,305.79 385.7,305.77 386.2,305.73 386.7,305.66 387.2,305.56 387.7,305.43 388.2,305.28 388.7,305.10 389.2,304.90 389.7,304.67 390.2,304.41 390.7,304.14 391.2,303.84 391.7,303.53 392.2,303.19 392.7,302.84 393.2,302.48 393.7,302.11 394.2,301.72 394.7,301.33 395.2,300.93 395.7,300.53 396.2,300.13 396.7,299.74 397.2,299.34 397.7,298.96 398.2,298.58 398.7,298.22 399.2,297.87 399.7,297.53 400.2,297.22 400.7,296.92 401.2,296.65 401.7,296.40 402.2,296.18 402.7,295.98 403.2,295.81 403.7,295.67 404.2,295.56 404.7,295.48 405.2,295.44 405.7,295.42 406.2,295.44 406.7,295.49 407.2,295.57 407.7,295.68 408.2,295.82 408.7,295.99 409.2,296.18 409.7,296.41 410.2,296.66 410.7,296.93 411.2,297.23 411.7,297.54 412.2,297.88 412.7,298.23 413.2,298.60 413.7,298.98 414.2,299.36 414.7,299.76 415.2,300.16 415.7,300.57 416.2,300.97 416.7,301.37 417.2,301.77 417.7,302.17 418.2,302.55 418.7,302.93 419.2,303.29 419.7,303.64 420.2,303.97 420.7,304.29 421.2,304.59 421.7,304.87 422.2,305.13 422.7,305.36 423.2,305.58 423.7,305.77 424.2,305.94 424.7,306.09 425.2,306.21 425.7,306.31 426.2,306.38 426.7,306.44 427.2,306.47 427.7,306.48 428.2,306.47 428.7,306.44 429.2,306.39 429.7,306.33 430.2,306.25 430.7,306.15 431.2,306.05 431.7,305.93 432.2,305.80 432.7,305.67 433.2,305.53 433.7,305.38 434.2,305.23 434.7,305.08 435.2,304.93 435.7,304.78 436.2,304.63 436.7,304.49 437.2,304.35 437.7,304.21 438.2,304.09 438.7,303.97 439.2,303.85 439.7,303.75 440.2,303.66 440.7,303.57 441.2,303.50 441.7,303.43 442.2,303.37 442.7,303.33 443.2,303.29 443.7,303.26 444.2,303.23 444.7,303.22 445.2,303.21 445.7,303.20 446.2,303.20 446.7,303.20 447.2,303.20 447.7,303.21 448.2,303.21 448.7,303.21 449.2,303.21 449.7,303.20 450.2,303.19 450.7,303.17 451.2,303.15 451.7,303.11 452.2,303.07 452.7,303.02 453.2,302.95 453.7,302.88 454.2,302.79 454.7,302.69 455.2,302.58 455.7,302.45 456.2,302.31 456.7,302.16 457.2,302.00 457.7,301.82 458.2,301.63 458.7,301.44 459.2,301.23 459.7,301.01 460.2,300.79 460.7,300.56 461.2,300.33 461.7,300.09 462.2,299.85 462.7,299.61 463.2,299.37 463.7,299.14 464.2,298.91 464.7,298.69 465.2,298.47 465.7,298.27 466.2,298.07 466.7,297.89 467.2,297.73 467.7,297.58 468.2,297.45 468.7,297.34 469.2,297.25 469.7,297.18 470.2,297.13 470.7,297.11 471.2,297.11 471.7,297.13 472.2,297.17 472.7,297.24 473.2,297.32 473.7,297.40 474.2,297.45 474.7,297.39 475.2,297.13 475.7,296.74 476.2,296.27 476.7,295.73 477.2,295.13 477.7,294.45 478.2,293.70 478.7,292.87 479.2,291.96 479.7,290.97 480.2,289.89 480.7,288.73 481.2,287.49 481.7,286.16 482.2,284.75 482.7,283.27 483.2,281.73 483.7,280.13 484.2,278.48 484.7,276.79 485.2,275.08 485.7,273.37 486.2,271.67 486.7,269.99 487.2,268.35 487.7,266.77 488.2,265.27 488.7,263.86 489.2,262.56 489.7,261.39 490.2,260.36 490.7,259.47 491.2,258.75 491.7,258.20 492.2,257.83 492.7,257.63 493.2,257.60 493.7,257.68 494.2,257.84 494.7,258.08 495.2,258.39 495.7,258.79 496.2,259.25 496.7,259.78 497.2,260.38 497.7,261.03 498.2,261.74 498.7,262.50 499.2,263.30 499.7,264.14 500.2,265.02 500.7,265.93 501.2,266.86 501.7,267.82 502.2,268.80 502.7,269.79 503.2,270.80 503.7,271.82 504.2,272.86 504.7,273.90 505.2,274.95 505.7,276.00 506.2,277.06 506.7,278.13 507.2,279.20 507.7,280.28 508.2,281.36 508.7,282.45 509.2,283.54 509.7,284.64 510.2,285.74 510.7,286.84 511.2,287.95 511.7,289.06 512.2,290.18 512.7,291.29 513.2,292.40 513.7,293.51 514.2,294.61 514.7,295.71 515.2,296.79 515.7,297.87 516.2,298.92 516.7,299.96 517.2,300.97 517.7,301.95 518.2,302.89 518.7,303.78 519.2,304.60 519.7,305.31 520.2,305.89 520.7,306.36 521.2,306.76 521.7,307.11 522.2,307.42 522.7,307.70 523.2,307.94 523.7,308.15 524.2,308.33 524.7,308.46 525.2,308.56 525.7,308.63 526.2,308.65 526.7,308.63 527.2,308.58 527.7,308.49 528.2,308.36 528.7,308.19 529.2,307.99 529.7,307.75 530.2,307.48 530.7,307.17 531.2,306.83 531.7,306.47 532.2,306.07 532.7,305.66 533.2,305.22 533.7,304.76 534.2,304.29 534.7,303.80 535.2,303.30 535.7,302.79 536.2,302.28 536.7,301.76 537.2,301.25 537.7,300.74 538.2,300.24 538.7,299.75 539.2,299.27 539.7,298.80 540.2,298.36 540.7,297.93" fill="none" stroke="#999" stroke-width="0.8"/>
<polyline points="379.2,302.16 379.7,302.03 380.2,301.89 380.7,301.75 381.2,301.61 381.7,301.46 382.2,301.31 382.7,301.16 383.2,301.01 383.7,300.85 384.2,300.69 384.7,300.54 385.2,300.38 385.7,300.23 386.2,300.08 386.7,299.94 387.2,299.80 387.7,299.66 388.2,299.54 388.7,299.42 389.2,299.32 389.7,299.23 390.2,299.15 390.7,299.08 391.2,299.04 391.7,299.01 392.2,298.99 392.7,299.00 393.2,299.03 393.7,299.08 394.2,299.16 394.7,299.26 395.2,299.38 395.7,299.52 396.2,299.69 396.7,299.89 397.2,300.10 397.7,300.34 398.2,300.61 398.7,300.89 399.2,301.20 399.7,301.52 400.2,301.86 400.7,302.22 401.2,302.59 401.7,302.97 402.2,303.36 402.7,303.75 403.2,304.15 403.7,304.55 404.2,304.94 404.7,305.33 405.2,305.72 405.7,306.09 406.2,306.44 406.7,306.78 407.2,307.09 407.7,307.38 408.2,307.64 408.7,307.88 409.2,308.08 409.7,308.24 410.2,308.37 410.7,308.46 411.2,308.51 411.7,308.52 412.2,308.48 412.7,308.40 413.2,308.28 413.7,308.11 414.2,307.90 414.7,307.64 415.2,307.35 415.7,307.01 416.2,306.63 416.7,306.22 417.2,305.77 417.7,305.29 418.2,304.78 418.7,304.25 419.2,303.69 419.7,303.12 420.2,302.53 420.7,301.93 421.2,301.33 421.7,300.73 422.2,300.13 422.7,299.53 423.2,298.95 423.7,298.39 424.2,297.84 424.7,297.32 425.2,296.83 425.7,296.38 426.2,295.95 426.7,295.57 427.2,295.23 427.7,294.94 428.2,294.69 428.7,294.49 429.2,294.35 429.7,294.25 430.2,294.21 430.7,294.22 431.2,294.29 431.7,294.40 432.2,294.57 432.7,294.79 433.2,295.05 433.7,295.36 434.2,295.72 434.7,296.11 435.2,296.54 435.7,297.01 436.2,297.50 436.7,298.02 437.2,298.56 437.7,299.12 438.2,299.69 438.7,300.27 439.2,300.85 439.7,301.42 440.2,301.99 440.7,302.55 441.2,303.10 441.7,303.62 442.2,304.12 442.7,304.60 443.2,305.04 443.7,305.45 444.2,305.82 444.7,306.15 445.2,306.43 445.7,306.68 446.2,306.88 446.7,307.03 447.2,307.13 447.7,307.19 448.2,307.20 448.7,307.17 449.2,307.09 449.7,306.96 450.2,306.80 450.7,306.60 451.2,306.36 451.7,306.08 452.2,305.78 452.7,305.45 453.2,305.09 453.7,304.72 454.2,304.33 454.7,303.93 455.2,303.52 455.7,303.11 456.2,302.70 456.7,302.29 457.2,301.89 457.7,301.51 458.2,301.14 458.7,300.79 459.2,300.47 459.7,300.17 460.2,299.90 460.7,299.66 461.2,299.46 461.7,299.29 462.2,299.15 462.7,299.05 463.2,298.99 463.7,298.97 464.2,298.99 464.7,299.04 465.2,299.13 465.7,299.25 466.2,299.40 466.7,299.59 467.2,299.80 467.7,300.04 468.2,300.31 468.7,300.59 469.2,300.89 469.7,301.21 470.2,301.53 470.7,301.86 471.2,302.20 471.7,302.53 472.2,302.85 472.7,303.17 473.2,303.46 473.7,303.72 474.2,303.91 474.7,303.94 475.2,303.73 475.7,303.36 476.2,302.85 476.7,302.24 477.2,301.51 477.7,300.69 478.2,299.76 478.7,298.73 479.2,297.61 479.7,296.39 480.2,295.08 480.7,293.69 481.2,292.23 481.7,290.71 482.2,289.13 482.7,287.51 483.2,285.86 483.7,284.20 484.2,282.53 484.7,280.87 485.2,279.24 485.7,277.64 486.2,276.09 486.7,274.60 487.2,273.19 487.7,271.86 488.2,270.62 488.7,269.48 489.2,268.45 489.7,267.54 490.2,266.75 490.7,266.08 491.2,265.55 491.7,265.14 492.2,264.86 492.7,264.72 493.2,264.70 493.7,264.76 494.2,264.87 494.7,265.05 495.2,265.28 495.7,265.58 496.2,265.93 496.7,266.33 497.2,266.80 497.7,267.31 498.2,267.89 498.7,268.51 499.2,269.18 499.7,269.91 500.2,270.67 500.7,271.49 501.2,272.34 501.7,273.23 502.2,274.16 502.7,275.12 503.2,276.11 503.7,277.12 504.2,278.15 504.7,279.19 505.2,280.24 505.7,281.30 506.2,282.35 506.7,283.40 507.2,284.44 507.7,285.47 508.2,286.48 508.7,287.46 509.2,288.42 509.7,289.34 510.2,290.23 510.7,291.09 511.2,291.91 511.7,292.69 512.2,293.42 512.7,294.12 513.2,294.77 513.7,295.39 514.2,295.96 514.7,296.50 515.2,297.00 515.7,297.46 516.2,297.89 516.7,298.29 517.2,298.66 517.7,299.00 518.2,299.31 518.7,299.60 519.2,299.83 519.7,300.01 520.2,300.11 520.7,300.16 521.2,300.19 521.7,300.23 522.2,300.27 522.7,300.33 523.2,300.41 523.7,300.51 524.2,300.62 524.7,300.76 525.2,300.92 525.7,301.09 526.2,301.28 526.7,301.49 527.2,301.72 527.7,301.95 528.2,302.20 528.7,302.46 529.2,302.72 529.7,302.99 530.2,303.27 530.7,303.54 531.2,303.81 531.7,304.08 532.2,304.33 532.7,304.58 533.2,304.82 533.7,305.05 534.2,305.25 534.7,305.45 535.2,305.62 535.7,305.77 536.2,305.89 536.7,306.00 537.2,306.07 537.7,306.13 538.2,306.15 538.7,306.15 539.2,306.12 539.7,306.07 540.2,305.99 540.7,305.88" fill="none" stroke="#999" stroke-width="0.8"/>
<polyline points="379.2,304.45 379.7,304.50 380.2,304.52 380.7,304.52 381.2,304.50 381.7,304.46 382.2,304.39 382.7,304.30 383.2,304.19 383.7,304.05 384.2,303.90 384.7,303.72 385.2,303.52 385.7,303.31 386.2,303.08 386.7,302.83 387.2,302.56 387.7,302.29 388.2,302.00 388.7,301.70 389.2,301.40 389.7,301.09 390.2,300.78 390.7,300.46 391.2,300.15 391.7,299.84 392.2,299.54 392.7,299.24 393.2,298.95 393.7,298.68 394.2,298.42 394.7,298.17 395.2,297.94 395.7,297.73 396.2,297.55 396.7,297.38 397.2,297.24 397.7,297.12 398.2,297.04 398.7,296.97 399.2,296.94 399.7,296.94 400.2,296.96 400.7,297.02 401.2,297.10 401.7,297.22 402.2,297.36 402.7,297.54 403.2,297.74 403.7,297.97 404.2,298.22 404.7,298.50 405.2,298.81 405.7,299.13 406.2,299.48 406.7,299.84 407.2,300.22 407.7,300.62 408.2,301.02 408.7,301.44 409.2,301.86 409.7,302.29 410.2,302.72 410.7,303.16 411.2,303.58 411.7,304.01 412.2,304.42 412.7,304.83 413.2,305.22 413.7,305.60 414.2,305.96 414.7,306.30 415.2,306.62 415.7,306.92 416.2,307.19 416.7,307.44 417.2,307.65 417.7,307.84 418.2,307.99 418.7,308.12 419.2,308.21 419.7,308.27 420.2,308.29 420.7,308.28 421.2,308.24 421.7,308.17 422.2,308.06 422.7,307.92 423.2,307.74 423.7,307.54 424.2,307.31 424.7,307.05 425.2,306.77 425.7,306.46 426.2,306.13 426.7,305.77 427.2,305.40 427.7,305.02 428.2,304.62 428.7,304.21 429.2,303.79 429.7,303.37 430.2,302.94 430.7,302.51 431.2,302.08 431.7,301.66 432.2,301.24 432.7,300.84 433.2,300.44 433.7,300.06 434.2,299.70 434.7,299.35 435.2,299.02 435.7,298.72 436.2,298.44 436.7,298.18 437.2,297.96 437.7,297.76 438.2,297.59 438.7,297.44 439.2,297.33 439.7,297.25 440.2,297.20 440.7,297.18 441.2,297.20 441.7,297.24 442.2,297.31 442.7,297.41 443.2,297.54 443.7,297.70 444.2,297.88 444.7,298.08 445.2,298.31 445.7,298.56 446.2,298.83 446.7,299.11 447.2,299.41 447.7,299.72 448.2,300.04 448.7,300.37 449.2,300.70 449.7,301.04 450.2,301.37 450.7,301.71 451.2,302.04 451.7,302.37 452.2,302.68 452.7,302.99 453.2,303.28 453.7,303.56 454.2,303.82 454.7,304.07 455.2,304.29 455.7,304.49 456.2,304.67 456.7,304.83 457.2,304.96 457.7,305.06 458.2,305.14 458.7,305.19 459.2,305.22 459.7,305.22 460.2,305.19 460.7,305.13 461.2,305.05 461.7,304.95 462.2,304.81 462.7,304.66 463.2,304.48 463.7,304.28 464.2,304.06 464.7,303.83 465.2,303.58 465.7,303.31 466.2,303.03 466.7,302.74 467.2,302.44 467.7,302.13 468.2,301.82 468.7,301.51 469.2,301.20 469.7,300.89 470.2,300.58 470.7,300.28 471.2,299.98 471.7,299.70 472.2,299.42 472.7,299.16 473.2,298.91 473.7,298.66 474.2,298.39 474.7,298.04 475.2,297.57 475.7,297.03 476.2,296.45 476.7,295.85 477.2,295.22 477.7,294.57 478.2,293.89 478.7,293.19 479.2,292.47 479.7,291.72 480.2,290.93 480.7,290.12 481.2,289.28 481.7,288.41 482.2,287.50 482.7,286.57 483.2,285.61 483.7,284.62 484.2,283.61 484.7,282.58 485.2,281.55 485.7,280.50 486.2,279.46 486.7,278.43 487.2,277.41 487.7,276.43 488.2,275.48 488.7,274.58 489.2,273.74 489.7,272.98 490.2,272.29 490.7,271.70 491.2,271.21 491.7,270.83 492.2,270.56 492.7,270.42 493.2,270.40 493.7,270.46 494.2,270.58 494.7,270.76 495.2,271.01 495.7,271.32 496.2,271.69 496.7,272.12 497.2,272.61 497.7,273.15 498.2,273.74 498.7,274.39 499.2,275.08 499.7,275.80 500.2,276.57 500.7,277.36 501.2,278.18 501.7,279.02 502.2,279.88 502.7,280.74 503.2,281.62 503.7,282.49 504.2,283.36 504.7,284.22 505.2,285.07 505.7,285.91 506.2,286.72 506.7,287.52 507.2,288.29 507.7,289.04 508.2,289.75 508.7,290.44 509.2,291.10 509.7,291.73 510.2,292.33 510.7,292.90 511.2,293.43 511.7,293.94 512.2,294.42 512.7,294.87 513.2,295.29 513.7,295.69 514.2,296.07 514.7,296.43 515.2,296.76 515.7,297.08 516.2,297.38 516.7,297.66 517.2,297.93 517.7,298.18 518.2,298.41 518.7,298.63 519.2,298.81 519.7,298.95 520.2,299.02 520.7,299.06 521.2,299.08 521.7,299.09 522.2,299.12 522.7,299.14 523.2,299.18 523.7,299.23 524.2,299.29 524.7,299.35 525.2,299.42 525.7,299.50 526.2,299.59 526.7,299.68 527.2,299.78 527.7,299.88 528.2,299.99 528.7,300.09 529.2,300.20 529.7,300.31 530.2,300.42 530.7,300.53 531.2,300.64 531.7,300.75 532.2,300.85 532.7,300.95 533.2,301.05 533.7,301.15 534.2,301.24 534.7,301.33 535.2,301.41 535.7,301.49 536.2,301.56 536.7,301.63 537.2,301.69 537.7,301.75 538.2,301.80 538.7,301.85 539.2,301.90 539.7,301.93 540.2,301.97 540.7,302.00" fill="none" stroke="#999" stroke-width="0.8"/>
<polyline points="379.2,300.96 379.7,300.80 380.2,300.65 380.7,300.51 381.2,300.38 381.7,300.26 382.2,300.16 382.7,300.08 383.2,300.01 383.7,299.96 384.2,299.93 384.7,299.91 385.2,299.92 385.7,299.95 386.2,299.99 386.7,300.05 387.2,300.13 387.7,300.23 388.2,300.35 388.7,300.48 389.2,300.62 389.7,300.78 390.2,300.95 390.7,301.12 391.2,301.30 391.7,301.49 392.2,301.69 392.7,301.88 393.2,302.07 393.7,302.26 394.2,302.45 394.7,302.63 395.2,302.80 395.7,302.96 396.2,303.11 396.7,303.25 397.2,303.37 397.7,303.48 398.2,303.57 398.7,303.64 399.2,303.70 399.7,303.74 400.2,303.75 400.7,303.75 401.2,303.74 401.7,303.70 402.2,303.65 402.7,303.58 403.2,303.49 403.7,303.40 404.2,303.29 404.7,303.16 405.2,303.03 405.7,302.90 406.2,302.75 406.7,302.60 407.2,302.45 407.7,302.30 408.2,302.15 408.7,302.00 409.2,301.86 409.7,301.73 410.2,301.60 410.7,301.48 411.2,301.37 411.7,301.28 412.2,301.20 412.7,301.13 413.2,301.08 413.7,301.04 414.2,301.02 414.7,301.01 415.2,301.01 415.7,301.03 416.2,301.07 416.7,301.12 417.2,301.17 417.7,301.25 418.2,301.33 418.7,301.41 419.2,301.51 419.7,301.61 420.2,301.71 420.7,301.82 421.2,301.92 421.7,302.03 422.2,302.13 422.7,302.22 423.2,302.31 423.7,302.39 424.2,302.47 424.7,302.53 425.2,302.58 425.7,302.61 426.2,302.63 426.7,302.64 427.2,302.64 427.7,302.62 428.2,302.58 428.7,302.53 429.2,302.47 429.7,302.39 430.2,302.30 430.7,302.21 431.2,302.10 431.7,301.98 432.2,301.85 432.7,301.72 433.2,301.59 433.7,301.45 434.2,301.32 434.7,301.19 435.2,301.06 435.7,300.94 436.2,300.82 436.7,300.72 437.2,300.63 437.7,300.55 438.2,300.49 438.7,300.44 439.2,300.41 439.7,300.40 440.2,300.41 440.7,300.44 441.2,300.49 441.7,300.56 442.2,300.65 442.7,300.75 443.2,300.88 443.7,301.03 444.2,301.19 444.7,301.37 445.2,301.56 445.7,301.76 446.2,301.98 446.7,302.20 447.2,302.43 447.7,302.66 448.2,302.89 448.7,303.12 449.2,303.34 449.7,303.56 450.2,303.76 450.7,303.96 451.2,304.14 451.7,304.30 452.2,304.44 452.7,304.56 453.2,304.66 453.7,304.74 454.2,304.79 454.7,304.81 455.2,304.80 455.7,304.77 456.2,304.70 456.7,304.61 457.2,304.49 457.7,304.34 458.2,304.17 458.7,303.97 459.2,303.75 459.7,303.51 460.2,303.25 460.7,302.97 461.2,302.68 461.7,302.37 462.2,302.06 462.7,301.74 463.2,301.42 463.7,301.10 464.2,300.79 464.7,300.48 465.2,300.18 465.7,299.89 466.2,299.62 466.7,299.38 467.2,299.15 467.7,298.94 468.2,298.77 468.7,298.62 469.2,298.50 469.7,298.41 470.2,298.36 470.7,298.33 471.2,298.35 471.7,298.39 472.2,298.47 472.7,298.57 473.2,298.71 473.7,298.86 474.2,299.01 474.7,299.11 475.2,299.12 475.7,299.06 476.2,298.96 476.7,298.82 477.2,298.63 477.7,298.41 478.2,298.13 478.7,297.79 479.2,297.40 479.7,296.94 480.2,296.42 480.7,295.83 481.2,295.17 481.7,294.44 482.2,293.65 482.7,292.80 483.2,291.90 483.7,290.95 484.2,289.95 484.7,288.93 485.2,287.89 485.7,286.84 486.2,285.80 486.7,284.77 487.2,283.77 487.7,282.81 488.2,281.90 488.7,281.05 489.2,280.27 489.7,279.58 490.2,278.97 490.7,278.46 491.2,278.05 491.7,277.74 492.2,277.52 492.7,277.42 493.2,277.40 493.7,277.44 494.2,277.53 494.7,277.65 495.2,277.82 495.7,278.02 496.2,278.26 496.7,278.53 497.2,278.83 497.7,279.16 498.2,279.52 498.7,279.90 499.2,280.31 499.7,280.74 500.2,281.19 500.7,281.66 501.2,282.15 501.7,282.67 502.2,283.20 502.7,283.75 503.2,284.32 503.7,284.91 504.2,285.51 504.7,286.14 505.2,286.78 505.7,287.43 506.2,288.10 506.7,288.78 507.2,289.48 507.7,290.18 508.2,290.89 508.7,291.60 509.2,292.31 509.7,293.02 510.2,293.72 510.7,294.42 511.2,295.10 511.7,295.77 512.2,296.42 512.7,297.05 513.2,297.65 513.7,298.23 514.2,298.79 514.7,299.31 515.2,299.79 515.7,300.25 516.2,300.67 516.7,301.05 517.2,301.40 517.7,301.71 518.2,301.98 518.7,302.21 519.2,302.38 519.7,302.49 520.2,302.53 520.7,302.51 521.2,302.46 521.7,302.39 522.2,302.31 522.7,302.23 523.2,302.15 523.7,302.07 524.2,301.99 524.7,301.93 525.2,301.87 525.7,301.82 526.2,301.78 526.7,301.76 527.2,301.75 527.7,301.75 528.2,301.77 528.7,301.81 529.2,301.85 529.7,301.92 530.2,301.99 530.7,302.08 531.2,302.19 531.7,302.30 532.2,302.42 532.7,302.55 533.2,302.68 533.7,302.82 534.2,302.96 534.7,303.09 535.2,303.23 535.7,303.35 536.2,303.47 536.7,303.58 537.2,303.68 537.7,303.76 538.2,303.82 538.7,303.87 539.2,303.89 539.7,303.89 540.2,303.87 540.7,303.83" fill="none" stroke="#999" stroke-width="0.8"/>
<polyline points="379.2,303.65 379.7,303.44 380.2,303.24 380.7,303.04 381.2,302.85 381.7,302.67 382.2,302.51 382.7,302.36 383.2,302.22 383.7,302.10 384.2,302.00 384.7,301.92 385.2,301.86 385.7,301.82 386.2,301.80 386.7,301.79 387.2,301.81 387.7,301.85 388.2,301.90 388.7,301.97 389.2,302.05 389.7,302.15 390.2,302.26 390.7,302.39 391.2,302.52 391.7,302.65 392.2,302.80 392.7,302.94 393.2,303.09 393.7,303.23 394.2,303.37 394.7,303.51 395.2,303.64 395.7,303.76 396.2,303.87 396.7,303.97 397.2,304.06 397.7,304.13 398.2,304.18 398.7,304.22 399.2,304.23 399.7,304.23 400.2,304.21 400.7,304.18 401.2,304.12 401.7,304.04 402.2,303.95 402.7,303.83 403.2,303.70 403.7,303.55 404.2,303.39 404.7,303.21 405.2,303.01 405.7,302.81 406.2,302.59 406.7,302.37 407.2,302.13 407.7,301.89 408.2,301.65 408.7,301.40 409.2,301.15 409.7,300.91 410.2,300.66 410.7,300.42 411.2,300.18 411.7,299.96 412.2,299.74 412.7,299.53 413.2,299.33 413.7,299.14 414.2,298.97 414.7,298.81 415.2,298.67 415.7,298.55 416.2,298.44 416.7,298.34 417.2,298.27 417.7,298.21 418.2,298.17 418.7,298.15 419.2,298.14 419.7,298.15 420.2,298.18 420.7,298.23 421.2,298.29 421.7,298.37 422.2,298.46 422.7,298.57 423.2,298.68 423.7,298.82 424.2,298.96 424.7,299.11 425.2,299.28 425.7,299.45 426.2,299.63 426.7,299.81 427.2,300.00 427.7,300.20 428.2,300.40 428.7,300.61 429.2,300.81 429.7,301.02 430.2,301.22 430.7,301.43 431.2,301.64 431.7,301.84 432.2,302.04 432.7,302.23 433.2,302.43 433.7,302.61 434.2,302.79 434.7,302.97 435.2,303.14 435.7,303.30 436.2,303.45 436.7,303.60 437.2,303.73 437.7,303.86 438.2,303.98 438.7,304.09 439.2,304.19 439.7,304.28 440.2,304.36 440.7,304.43 441.2,304.48 441.7,304.53 442.2,304.57 442.7,304.59 443.2,304.61 443.7,304.62 444.2,304.61 444.7,304.60 445.2,304.57 445.7,304.54 446.2,304.50 446.7,304.45 447.2,304.39 447.7,304.32 448.2,304.25 448.7,304.17 449.2,304.08 449.7,303.99 450.2,303.89 450.7,303.79 451.2,303.69 451.7,303.59 452.2,303.48 452.7,303.38 453.2,303.27 453.7,303.17 454.2,303.06 454.7,302.96 455.2,302.87 455.7,302.78 456.2,302.69 456.7,302.61 457.2,302.54 457.7,302.47 458.2,302.41 458.7,302.36 459.2,302.31 459.7,302.27 460.2,302.25 460.7,302.23 461.2,302.21 461.7,302.21 462.2,302.21 462.7,302.22 463.2,302.24 463.7,302.26 464.2,302.28 464.7,302.32 465.2,302.35 465.7,302.39 466.2,302.43 466.7,302.47 467.2,302.50 467.7,302.54 468.2,302.57 468.7,302.60 469.2,302.63 469.7,302.64 470.2,302.65 470.7,302.65 471.2,302.65 471.7,302.62 472.2,302.59 472.7,302.55 473.2,302.48 473.7,302.40 474.2,302.29 474.7,302.11 475.2,301.85 475.7,301.54 476.2,301.18 476.7,300.79 477.2,300.37 477.7,299.93 478.2,299.46 478.7,298.97 479.2,298.47 479.7,297.95 480.2,297.42 480.7,296.88 481.2,296.34 481.7,295.80 482.2,295.27 482.7,294.74 483.2,294.22 483.7,293.72 484.2,293.23 484.7,292.77 485.2,292.32 485.7,291.89 486.2,291.49 486.7,291.12 487.2,290.77 487.7,290.44 488.2,290.14 488.7,289.87 489.2,289.63 489.7,289.41 490.2,289.22 490.7,289.06 491.2,288.92 491.7,288.82 492.2,288.74 492.7,288.71 493.2,288.70 493.7,288.72 494.2,288.75 494.7,288.81 495.2,288.89 495.7,288.99 496.2,289.11 496.7,289.27 497.2,289.45 497.7,289.66 498.2,289.90 498.7,290.17 499.2,290.47 499.7,290.80 500.2,291.16 500.7,291.54 501.2,291.96 501.7,292.40 502.2,292.86 502.7,293.34 503.2,293.84 503.7,294.35 504.2,294.87 504.7,295.39 505.2,295.92 505.7,296.44 506.2,296.96 506.7,297.46 507.2,297.95 507.7,298.42 508.2,298.86 508.7,299.28 509.2,299.67 509.7,300.03 510.2,300.36 510.7,300.65 511.2,300.91 511.7,301.13 512.2,301.32 512.7,301.47 513.2,301.60 513.7,301.69 514.2,301.75 514.7,301.78 515.2,301.80 515.7,301.79 516.2,301.77 516.7,301.73 517.2,301.68 517.7,301.63 518.2,301.57 518.7,301.51 519.2,301.44 519.7,301.36 520.2,301.27 520.7,301.17 521.2,301.09 521.7,301.03 522.2,300.99 522.7,300.97 523.2,300.98 523.7,301.01 524.2,301.07 524.7,301.15 525.2,301.25 525.7,301.37 526.2,301.51 526.7,301.67 527.2,301.84 527.7,302.03 528.2,302.22 528.7,302.42 529.2,302.62 529.7,302.82 530.2,303.02 530.7,303.21 531.2,303.40 531.7,303.57 532.2,303.73 532.7,303.88 533.2,304.00 533.7,304.11 534.2,304.18 534.7,304.24 535.2,304.27 535.7,304.26 536.2,304.23 536.7,304.17 537.2,304.08 537.7,303.96 538.2,303.81 538.7,303.63 539.2,303.42 539.7,303.18 540.2,302.92 540.7,302.64" fill="none" stroke="#999" stroke-width="0.8"/>
<polyline points="379.2,305.03 379.7,305.27 380.2,305.48 380.7,305.65 381.2,305.79 381.7,305.90 382.2,305.97 382.7,306.00 383.2,306.00 383.7,305.97 384.2,305.90 384.7,305.81 385.2,305.68 385.7,305.53 386.2,305.35 386.7,305.15 387.2,304.93 387.7,304.70 388.2,304.45 388.7,304.19 389.2,303.92 389.7,303.65 390.2,303.38 390.7,303.10 391.2,302.84 391.7,302.58 392.2,302.33 392.7,302.09 393.2,301.87 393.7,301.66 394.2,301.47 394.7,301.31 395.2,301.16 395.7,301.04 396.2,300.94 396.7,300.87 397.2,300.82 397.7,300.79 398.2,300.79 398.7,300.81 399.2,300.85 399.7,300.91 400.2,300.99 400.7,301.09 401.2,301.20 401.7,301.32 402.2,301.46 402.7,301.60 403.2,301.75 403.7,301.90 404.2,302.06 404.7,302.21 405.2,302.35 405.7,302.49 406.2,302.62 406.7,302.74 407.2,302.84 407.7,302.93 408.2,303.01 408.7,303.06 409.2,303.09 409.7,303.11 410.2,303.10 410.7,303.07 411.2,303.02 411.7,302.95 412.2,302.85 412.7,302.74 413.2,302.61 413.7,302.45 414.2,302.29 414.7,302.10 415.2,301.91 415.7,301.70 416.2,301.49 416.7,301.27 417.2,301.05 417.7,300.82 418.2,300.60 418.7,300.38 419.2,300.17 419.7,299.97 420.2,299.78 420.7,299.61 421.2,299.45 421.7,299.31 422.2,299.19 422.7,299.10 423.2,299.03 423.7,298.98 424.2,298.96 424.7,298.97 425.2,299.00 425.7,299.06 426.2,299.14 426.7,299.26 427.2,299.39 427.7,299.55 428.2,299.74 428.7,299.94 429.2,300.16 429.7,300.40 430.2,300.65 430.7,300.92 431.2,301.19 431.7,301.47 432.2,301.76 432.7,302.04 433.2,302.33 433.7,302.61 434.2,302.88 434.7,303.14 435.2,303.39 435.7,303.62 436.2,303.84 436.7,304.03 437.2,304.21 437.7,304.36 438.2,304.48 438.7,304.59 439.2,304.66 439.7,304.71 440.2,304.73 440.7,304.73 441.2,304.70 441.7,304.65 442.2,304.57 442.7,304.47 443.2,304.34 443.7,304.20 444.2,304.04 444.7,303.87 445.2,303.68 445.7,303.48 446.2,303.28 446.7,303.07 447.2,302.86 447.7,302.65 448.2,302.45 448.7,302.25 449.2,302.06 449.7,301.88 450.2,301.72 450.7,301.57 451.2,301.44 451.7,301.33 452.2,301.25 452.7,301.18 453.2,301.14 453.7,301.12 454.2,301.13 454.7,301.16 455.2,301.21 455.7,301.28 456.2,301.38 456.7,301.50 457.2,301.63 457.7,301.79 458.2,301.95 458.7,302.13 459.2,302.32 459.7,302.51 460.2,302.71 460.7,302.91 461.2,303.10 461.7,303.29 462.2,303.47 462.7,303.64 463.2,303.79 463.7,303.92 464.2,304.04 464.7,304.13 465.2,304.19 465.7,304.23 466.2,304.24 466.7,304.22 467.2,304.16 467.7,304.08 468.2,303.96 468.7,303.81 469.2,303.63 469.7,303.41 470.2,303.17 470.7,302.90 471.2,302.60 471.7,302.28 472.2,301.94 472.7,301.58 473.2,301.20 473.7,300.81 474.2,300.42 474.7,300.03 475.2,299.64 475.7,299.27 476.2,298.92 476.7,298.60 477.2,298.32 477.7,298.07 478.2,297.87 478.7,297.70 479.2,297.59 479.7,297.52 480.2,297.50 480.7,297.52 481.2,297.59 481.7,297.69 482.2,297.84 482.7,298.01 483.2,298.20 483.7,298.41 484.2,298.64 484.7,298.86 485.2,299.09 485.7,299.30 486.2,299.49 486.7,299.67 487.2,299.82 487.7,299.94 488.2,300.04 488.7,300.10 489.2,300.14 489.7,300.15 490.2,300.14 490.7,300.12 491.2,300.09 491.7,300.05 492.2,300.02 492.7,300.00 493.2,300.00 493.7,300.01 494.2,300.03 494.7,300.07 495.2,300.13 495.7,300.21 496.2,300.30 496.7,300.41 497.2,300.53 497.7,300.67 498.2,300.82 498.7,300.98 499.2,301.14 499.7,301.30 500.2,301.45 500.7,301.60 501.2,301.73 501.7,301.84 502.2,301.93 502.7,301.98 503.2,302.01 503.7,302.00 504.2,301.96 504.7,301.87 505.2,301.75 505.7,301.59 506.2,301.39 506.7,301.16 507.2,300.89 507.7,300.59 508.2,300.27 508.7,299.94 509.2,299.58 509.7,299.23 510.2,298.87 510.7,298.52 511.2,298.18 511.7,297.87 512.2,297.58 512.7,297.32 513.2,297.11 513.7,296.94 514.2,296.82 514.7,296.76 515.2,296.75 515.7,296.80 516.2,296.91 516.7,297.08 517.2,297.31 517.7,297.59 518.2,297.94 518.7,298.33 519.2,298.77 519.7,299.26 520.2,299.78 520.7,300.32 521.2,300.88 521.7,301.46 522.2,302.03 522.7,302.60 523.2,303.16 523.7,303.71 524.2,304.23 524.7,304.73 525.2,305.19 525.7,305.61 526.2,305.99 526.7,306.32 527.2,306.60 527.7,306.83 528.2,306.99 528.7,307.10 529.2,307.14 529.7,307.13 530.2,307.05 530.7,306.91 531.2,306.70 531.7,306.44 532.2,306.12 532.7,305.75 533.2,305.32 533.7,304.86 534.2,304.35 534.7,303.80 535.2,303.22 535.7,302.62 536.2,302.00 536.7,301.37 537.2,300.74 537.7,300.10 538.2,299.48 538.7,298.87 539.2,298.28 539.7,297.72 540.2,297.19 540.7,296.71" fill="none" stroke="#999" stroke-width="0.8"/>
<polyline points="379.2,305.40 379.7,305.07 380.2,304.72 380.7,304.34 381.2,303.94 381.7,303.52 382.2,303.09 382.7,302.65 383.2,302.21 383.7,301.77 384.2,301.33 384.7,300.90 385.2,300.49 385.7,300.09 386.2,299.72 386.7,299.37 387.2,299.05 387.7,298.77 388.2,298.51 388.7,298.30 389.2,298.12 389.7,297.98 390.2,297.89 390.7,297.83 391.2,297.82 391.7,297.85 392.2,297.92 392.7,298.03 393.2,298.18 393.7,298.37 394.2,298.59 394.7,298.84 395.2,299.12 395.7,299.43 396.2,299.76 396.7,300.11 397.2,300.47 397.7,300.85 398.2,301.23 398.7,301.61 399.2,301.99 399.7,302.37 400.2,302.74 400.7,303.10 401.2,303.44 401.7,303.77 402.2,304.07 402.7,304.34 403.2,304.59 403.7,304.81 404.2,305.00 404.7,305.15 405.2,305.27 405.7,305.36 406.2,305.41 406.7,305.42 407.2,305.41 407.7,305.35 408.2,305.27 408.7,305.15 409.2,305.00 409.7,304.83 410.2,304.63 410.7,304.40 411.2,304.16 411.7,303.90 412.2,303.63 412.7,303.34 413.2,303.05 413.7,302.75 414.2,302.45 414.7,302.16 415.2,301.87 415.7,301.58 416.2,301.31 416.7,301.05 417.2,300.81 417.7,300.59 418.2,300.38 418.7,300.20 419.2,300.04 419.7,299.91 420.2,299.80 420.7,299.72 421.2,299.66 421.7,299.63 422.2,299.63 422.7,299.65 423.2,299.70 423.7,299.77 424.2,299.86 424.7,299.97 425.2,300.10 425.7,300.24 426.2,300.40 426.7,300.57 427.2,300.75 427.7,300.94 428.2,301.13 428.7,301.33 429.2,301.52 429.7,301.71 430.2,301.90 430.7,302.08 431.2,302.25 431.7,302.41 432.2,302.56 432.7,302.70 433.2,302.82 433.7,302.92 434.2,303.01 434.7,303.09 435.2,303.14 435.7,303.18 436.2,303.20 436.7,303.20 437.2,303.19 437.7,303.16 438.2,303.12 438.7,303.07 439.2,303.00 439.7,302.93 440.2,302.84 440.7,302.75 441.2,302.66 441.7,302.56 442.2,302.45 442.7,302.35 443.2,302.26 443.7,302.16 444.2,302.07 444.7,301.99 445.2,301.91 445.7,301.84 446.2,301.78 446.7,301.74 447.2,301.70 447.7,301.68 448.2,301.67 448.7,301.67 449.2,301.68 449.7,301.70 450.2,301.74 450.7,301.78 451.2,301.83 451.7,301.89 452.2,301.96 452.7,302.03 453.2,302.11 453.7,302.19 454.2,302.27 454.7,302.35 455.2,302.43 455.7,302.50 456.2,302.57 456.7,302.63 457.2,302.68 457.7,302.72 458.2,302.75 458.7,302.77 459.2,302.78 459.7,302.77 460.2,302.75 460.7,302.71 461.2,302.66 461.7,302.59 462.2,302.51 462.7,302.42 463.2,302.31 463.7,302.19 464.2,302.07 464.7,301.93 465.2,301.78 465.7,301.63 466.2,301.48 466.7,301.32 467.2,301.17 467.7,301.01 468.2,300.87 468.7,300.72 469.2,300.59 469.7,300.47 470.2,300.36 470.7,300.26 471.2,300.19 471.7,300.13 472.2,300.09 472.7,300.07 473.2,300.07 473.7,300.11 474.2,300.17 474.7,300.29 475.2,300.48 475.7,300.71 476.2,300.98 476.7,301.28 477.2,301.60 477.7,301.95 478.2,302.31 478.7,302.69 479.2,303.08 479.7,303.47 480.2,303.86 480.7,304.25 481.2,304.64 481.7,305.01 482.2,305.36 482.7,305.70 483.2,306.02 483.7,306.31 484.2,306.59 484.7,306.83 485.2,307.06 485.7,307.26 486.2,307.43 486.7,307.59 487.2,307.73 487.7,307.85 488.2,307.96 488.7,308.06 489.2,308.14 489.7,308.22 490.2,308.29 490.7,308.35 491.2,308.40 491.7,308.45 492.2,308.48 492.7,308.50 493.2,308.50 493.7,308.49 494.2,308.47 494.7,308.44 495.2,308.39 495.7,308.33 496.2,308.25 496.7,308.14 497.2,308.02 497.7,307.88 498.2,307.71 498.7,307.53 499.2,307.32 499.7,307.09 500.2,306.85 500.7,306.58 501.2,306.31 501.7,306.03 502.2,305.74 502.7,305.45 503.2,305.16 503.7,304.88 504.2,304.61 504.7,304.36 505.2,304.12 505.7,303.92 506.2,303.73 506.7,303.58 507.2,303.47 507.7,303.39 508.2,303.34 508.7,303.34 509.2,303.37 509.7,303.44 510.2,303.54 510.7,303.68 511.2,303.85 511.7,304.04 512.2,304.26 512.7,304.50 513.2,304.75 513.7,305.01 514.2,305.27 514.7,305.53 515.2,305.78 515.7,306.01 516.2,306.23 516.7,306.41 517.2,306.57 517.7,306.70 518.2,306.78 518.7,306.83 519.2,306.83 519.7,306.79 520.2,306.71 520.7,306.57 521.2,306.40 521.7,306.18 522.2,305.92 522.7,305.61 523.2,305.27 523.7,304.89 524.2,304.49 524.7,304.05 525.2,303.60 525.7,303.12 526.2,302.63 526.7,302.13 527.2,301.63 527.7,301.13 528.2,300.64 528.7,300.16 529.2,299.70 529.7,299.25 530.2,298.84 530.7,298.45 531.2,298.10 531.7,297.79 532.2,297.52 532.7,297.29 533.2,297.12 533.7,296.99 534.2,296.91 534.7,296.88 535.2,296.90 535.7,296.98 536.2,297.11 536.7,297.28 537.2,297.51 537.7,297.78 538.2,298.09 538.7,298.45 539.2,298.84 539.7,299.26 540.2,299.71 540.7,300.19" fill="none" stroke="#999" stroke-width="0.8"/>
<polyline points="379.2,298.57 379.7,298.33 380.2,298.09 380.7,297.87 381.2,297.66 381.7,297.45 382.2,297.26 382.7,297.08 383.2,296.92 383.7,296.77 384.2,296.64 384.7,296.52 385.2,296.43 385.7,296.35 386.2,296.29 386.7,296.25 387.2,296.24 387.7,296.24 388.2,296.27 388.7,296.32 389.2,296.39 389.7,296.48 390.2,296.59 390.7,296.73 391.2,296.89 391.7,297.07 392.2,297.27 392.7,297.49 393.2,297.73 393.7,297.99 394.2,298.26 394.7,298.56 395.2,298.87 395.7,299.19 396.2,299.53 396.7,299.88 397.2,300.24 397.7,300.61 398.2,300.98 398.7,301.37 399.2,301.76 399.7,302.15 400.2,302.54 400.7,302.94 401.2,303.33 401.7,303.72 402.2,304.11 402.7,304.49 403.2,304.86 403.7,305.22 404.2,305.58 404.7,305.92 405.2,306.25 405.7,306.56 406.2,306.86 406.7,307.14 407.2,307.41 407.7,307.65 408.2,307.88 408.7,308.09 409.2,308.27 409.7,308.44 410.2,308.58 410.7,308.70 411.2,308.80 411.7,308.88 412.2,308.93 412.7,308.96 413.2,308.97 413.7,308.96 414.2,308.92 414.7,308.87 415.2,308.79 415.7,308.70 416.2,308.58 416.7,308.44 417.2,308.29 417.7,308.12 418.2,307.93 418.7,307.73 419.2,307.52 419.7,307.29 420.2,307.05 420.7,306.80 421.2,306.54 421.7,306.27 422.2,305.99 422.7,305.71 423.2,305.42 423.7,305.13 424.2,304.83 424.7,304.54 425.2,304.24 425.7,303.94 426.2,303.65 426.7,303.35 427.2,303.06 427.7,302.77 428.2,302.49 428.7,302.21 429.2,301.94 429.7,301.67 430.2,301.41 430.7,301.16 431.2,300.92 431.7,300.68 432.2,300.45 432.7,300.23 433.2,300.02 433.7,299.82 434.2,299.62 434.7,299.44 435.2,299.26 435.7,299.09 436.2,298.93 436.7,298.78 437.2,298.63 437.7,298.49 438.2,298.36 438.7,298.23 439.2,298.12 439.7,298.00 440.2,297.90 440.7,297.80 441.2,297.70 441.7,297.61 442.2,297.53 442.7,297.45 443.2,297.37 443.7,297.30 444.2,297.23 444.7,297.16 445.2,297.10 445.7,297.04 446.2,296.99 446.7,296.94 447.2,296.89 447.7,296.84 448.2,296.80 448.7,296.77 449.2,296.74 449.7,296.71 450.2,296.69 450.7,296.67 451.2,296.66 451.7,296.65 452.2,296.65 452.7,296.66 453.2,296.68 453.7,296.70 454.2,296.73 454.7,296.77 455.2,296.82 455.7,296.88 456.2,296.96 456.7,297.04 457.2,297.13 457.7,297.24 458.2,297.36 458.7,297.49 459.2,297.63 459.7,297.79 460.2,297.96 460.7,298.15 461.2,298.35 461.7,298.56 462.2,298.79 462.7,299.03 463.2,299.29 463.7,299.56 464.2,299.84 464.7,300.13 465.2,300.44 465.7,300.76 466.2,301.09 466.7,301.44 467.2,301.79 467.7,302.15 468.2,302.52 468.7,302.90 469.2,303.28 469.7,303.67 470.2,304.06 470.7,304.45 471.2,304.85 471.7,305.24 472.2,305.64 472.7,306.03 473.2,306.42 473.7,306.80 474.2,307.19 474.7,307.59 475.2,308.01 475.7,308.43 476.2,308.83 476.7,309.23 477.2,309.61 477.7,309.96 478.2,310.30 478.7,310.61 479.2,310.90 479.7,311.17 480.2,311.41 480.7,311.63 481.2,311.83 481.7,312.01 482.2,312.17 482.7,312.31 483.2,312.43 483.7,312.54 484.2,312.64 484.7,312.74 485.2,312.82 485.7,312.90 486.2,312.98 486.7,313.07 487.2,313.15 487.7,313.23 488.2,313.32 488.7,313.41 489.2,313.50 489.7,313.60 490.2,313.69 490.7,313.77 491.2,313.85 491.7,313.92 492.2,313.97 492.7,314.00 493.2,314.00 493.7,313.99 494.2,313.96 494.7,313.91 495.2,313.83 495.7,313.74 496.2,313.62 496.7,313.47 497.2,313.29 497.7,313.08 498.2,312.83 498.7,312.56 499.2,312.25 499.7,311.91 500.2,311.53 500.7,311.13 501.2,310.69 501.7,310.22 502.2,309.73 502.7,309.21 503.2,308.67 503.7,308.11 504.2,307.53 504.7,306.94 505.2,306.34 505.7,305.73 506.2,305.12 506.7,304.51 507.2,303.91 507.7,303.31 508.2,302.72 508.7,302.15 509.2,301.60 509.7,301.06 510.2,300.55 510.7,300.06 511.2,299.60 511.7,299.17 512.2,298.77 512.7,298.40 513.2,298.07 513.7,297.76 514.2,297.49 514.7,297.26 515.2,297.05 515.7,296.88 516.2,296.75 516.7,296.64 517.2,296.57 517.7,296.52 518.2,296.51 518.7,296.54 519.2,296.60 519.7,296.70 520.2,296.87 520.7,297.07 521.2,297.29 521.7,297.52 522.2,297.77 522.7,298.01 523.2,298.26 523.7,298.51 524.2,298.76 524.7,299.01 525.2,299.26 525.7,299.51 526.2,299.75 526.7,299.99 527.2,300.23 527.7,300.47 528.2,300.71 528.7,300.94 529.2,301.17 529.7,301.39 530.2,301.61 530.7,301.83 531.2,302.05 531.7,302.26 532.2,302.47 532.7,302.67 533.2,302.88 533.7,303.08 534.2,303.28 534.7,303.48 535.2,303.67 535.7,303.87 536.2,304.06 536.7,304.25 537.2,304.44 537.7,304.63 538.2,304.82 538.7,305.00 539.2,305.19 539.7,305.37 540.2,305.56 540.7,305.74" fill="none" stroke="#999" stroke-width="0.8"/>
<polyline points="379.2,297.98 379.7,297.98 380.2,297.97 380.7,297.97 381.2,297.98 381.7,297.98 382.2,297.98 382.7,297.98 383.2,297.98 383.7,297.98 384.2,297.98 384.7,297.97 385.2,297.96 385.7,297.95 386.2,297.94 386.7,297.92 387.2,297.90 387.7,297.88 388.2,297.86 388.7,297.84 389.2,297.81 389.7,297.79 390.2,297.77 390.7,297.75 391.2,297.74 391.7,297.73 392.2,297.72 392.7,297.72 393.2,297.73 393.7,297.74 394.2,297.77 394.7,297.80 395.2,297.85 395.7,297.90 396.2,297.97 396.7,298.06 397.2,298.15 397.7,298.27 398.2,298.40 398.7,298.54 399.2,298.70 399.7,298.87 400.2,299.06 400.7,299.27 401.2,299.49 401.7,299.73 402.2,299.98 402.7,300.25 403.2,300.53 403.7,300.81 404.2,301.12 404.7,301.43 405.2,301.74 405.7,302.07 406.2,302.40 406.7,302.73 407.2,303.07 407.7,303.41 408.2,303.74 408.7,304.07 409.2,304.40 409.7,304.72 410.2,305.03 410.7,305.34 411.2,305.63 411.7,305.91 412.2,306.17 412.7,306.41 413.2,306.64 413.7,306.85 414.2,307.04 414.7,307.21 415.2,307.36 415.7,307.49 416.2,307.59 416.7,307.67 417.2,307.72 417.7,307.76 418.2,307.76 418.7,307.75 419.2,307.71 419.7,307.65 420.2,307.57 420.7,307.47 421.2,307.35 421.7,307.21 422.2,307.05 422.7,306.88 423.2,306.69 423.7,306.49 424.2,306.28 424.7,306.06 425.2,305.83 425.7,305.60 426.2,305.36 426.7,305.12 427.2,304.87 427.7,304.63 428.2,304.40 428.7,304.16 429.2,303.93 429.7,303.71 430.2,303.50 430.7,303.29 431.2,303.10 431.7,302.92 432.2,302.75 432.7,302.60 433.2,302.45 433.7,302.33 434.2,302.22 434.7,302.12 435.2,302.03 435.7,301.97 436.2,301.91 436.7,301.87 437.2,301.84 437.7,301.83 438.2,301.83 438.7,301.83 439.2,301.85 439.7,301.88 440.2,301.91 440.7,301.95 441.2,301.99 441.7,302.04 442.2,302.09 442.7,302.14 443.2,302.19 443.7,302.24 444.2,302.28 444.7,302.32 445.2,302.36 445.7,302.39 446.2,302.41 446.7,302.42 447.2,302.42 447.7,302.41 448.2,302.40 448.7,302.37 449.2,302.33 449.7,302.28 450.2,302.21 450.7,302.14 451.2,302.05 451.7,301.95 452.2,301.84 452.7,301.72 453.2,301.59 453.7,301.46 454.2,301.31 454.7,301.16 455.2,301.00 455.7,300.84 456.2,300.67 456.7,300.50 457.2,300.33 457.7,300.16 458.2,299.99 458.7,299.83 459.2,299.67 459.7,299.51 460.2,299.36 460.7,299.22 461.2,299.09 461.7,298.97 462.2,298.86 462.7,298.76 463.2,298.67 463.7,298.60 464.2,298.54 464.7,298.49 465.2,298.46 465.7,298.44 466.2,298.44 466.7,298.45 467.2,298.48 467.7,298.52 468.2,298.57 468.7,298.63 469.2,298.71 469.7,298.80 470.2,298.90 470.7,299.01 471.2,299.13 471.7,299.26 472.2,299.39 472.7,299.53 473.2,299.68 473.7,299.84 474.2,300.03 474.7,300.29 475.2,300.65 475.7,301.08 476.2,301.54 476.7,302.04 477.2,302.55 477.7,303.09 478.2,303.65 478.7,304.23 479.2,304.83 479.7,305.45 480.2,306.09 480.7,306.74 481.2,307.41 481.7,308.09 482.2,308.79 482.7,309.50 483.2,310.21 483.7,310.93 484.2,311.65 484.7,312.37 485.2,313.08 485.7,313.79 486.2,314.48 486.7,315.16 487.2,315.81 487.7,316.43 488.2,317.02 488.7,317.57 489.2,318.07 489.7,318.53 490.2,318.93 490.7,319.27 491.2,319.55 491.7,319.77 492.2,319.91 492.7,319.99 493.2,320.00 493.7,319.97 494.2,319.91 494.7,319.81 495.2,319.69 495.7,319.53 496.2,319.35 496.7,319.14 497.2,318.91 497.7,318.66 498.2,318.39 498.7,318.10 499.2,317.80 499.7,317.48 500.2,317.16 500.7,316.83 501.2,316.50 501.7,316.17 502.2,315.84 502.7,315.51 503.2,315.19 503.7,314.87 504.2,314.56 504.7,314.26 505.2,313.97 505.7,313.69 506.2,313.42 506.7,313.15 507.2,312.89 507.7,312.64 508.2,312.40 508.7,312.16 509.2,311.92 509.7,311.69 510.2,311.45 510.7,311.21 511.2,310.97 511.7,310.72 512.2,310.46 512.7,310.20 513.2,309.92 513.7,309.64 514.2,309.34 514.7,309.03 515.2,308.71 515.7,308.37 516.2,308.02 516.7,307.66 517.2,307.28 517.7,306.89 518.2,306.50 518.7,306.09 519.2,305.70 519.7,305.31 520.2,304.95 520.7,304.61 521.2,304.28 521.7,303.94 522.2,303.61 522.7,303.28 523.2,302.95 523.7,302.62 524.2,302.29 524.7,301.98 525.2,301.66 525.7,301.36 526.2,301.07 526.7,300.79 527.2,300.52 527.7,300.26 528.2,300.02 528.7,299.80 529.2,299.59 529.7,299.39 530.2,299.22 530.7,299.06 531.2,298.92 531.7,298.80 532.2,298.69 532.7,298.60 533.2,298.53 533.7,298.48 534.2,298.44 534.7,298.41 535.2,298.40 535.7,298.40 536.2,298.42 536.7,298.44 537.2,298.47 537.7,298.52 538.2,298.57 538.7,298.62 539.2,298.69 539.7,298.75 540.2,298.82 540.7,298.89" fill="none" stroke="#999" stroke-width="0.8"/>
<polyline points="379.2,303.14 379.7,303.08 380.2,303.01 380.7,302.94 381.2,302.88 381.7,302.81 382.2,302.75 382.7,302.69 383.2,302.63 383.7,302.58 384.2,302.53 384.7,302.48 385.2,302.44 385.7,302.41 386.2,302.39 386.7,302.37 387.2,302.36 387.7,302.36 388.2,302.36 388.7,302.37 389.2,302.40 389.7,302.43 390.2,302.46 390.7,302.51 391.2,302.56 391.7,302.63 392.2,302.70 392.7,302.77 393.2,302.86 393.7,302.95 394.2,303.04 394.7,303.15 395.2,303.25 395.7,303.36 396.2,303.48 396.7,303.60 397.2,303.72 397.7,303.84 398.2,303.96 398.7,304.09 399.2,304.21 399.7,304.33 400.2,304.45 400.7,304.56 401.2,304.67 401.7,304.78 402.2,304.88 402.7,304.97 403.2,305.06 403.7,305.14 404.2,305.21 404.7,305.28 405.2,305.33 405.7,305.37 406.2,305.40 406.7,305.43 407.2,305.44 407.7,305.43 408.2,305.42 408.7,305.39 409.2,305.36 409.7,305.30 410.2,305.24 410.7,305.16 411.2,305.07 411.7,304.97 412.2,304.86 412.7,304.73 413.2,304.59 413.7,304.45 414.2,304.29 414.7,304.12 415.2,303.93 415.7,303.75 416.2,303.55 416.7,303.34 417.2,303.13 417.7,302.91 418.2,302.68 418.7,302.45 419.2,302.21 419.7,301.97 420.2,301.73 420.7,301.48 421.2,301.24 421.7,300.99 422.2,300.75 422.7,300.51 423.2,300.27 423.7,300.03 424.2,299.80 424.7,299.57 425.2,299.35 425.7,299.13 426.2,298.93 426.7,298.73 427.2,298.54 427.7,298.35 428.2,298.18 428.7,298.02 429.2,297.87 429.7,297.72 430.2,297.60 430.7,297.48 431.2,297.37 431.7,297.28 432.2,297.20 432.7,297.13 433.2,297.08 433.7,297.03 434.2,297.00 434.7,296.99 435.2,296.98 435.7,296.99 436.2,297.01 436.7,297.04 437.2,297.08 437.7,297.14 438.2,297.20 438.7,297.28 439.2,297.36 439.7,297.46 440.2,297.56 440.7,297.68 441.2,297.80 441.7,297.93 442.2,298.06 442.7,298.21 443.2,298.36 443.7,298.51 444.2,298.67 444.7,298.84 445.2,299.01 445.7,299.18 446.2,299.35 446.7,299.53 447.2,299.71 447.7,299.89 448.2,300.08 448.7,300.26 449.2,300.45 449.7,300.63 450.2,300.82 450.7,301.00 451.2,301.18 451.7,301.36 452.2,301.55 452.7,301.73 453.2,301.90 453.7,302.08 454.2,302.25 454.7,302.42 455.2,302.59 455.7,302.76 456.2,302.93 456.7,303.09 457.2,303.25 457.7,303.41 458.2,303.56 458.7,303.72 459.2,303.87 459.7,304.01 460.2,304.16 460.7,304.30 461.2,304.44 461.7,304.58 462.2,304.72 462.7,304.85 463.2,304.98 463.7,305.11 464.2,305.23 464.7,305.35 465.2,305.47 465.7,305.59 466.2,305.70 466.7,305.82 467.2,305.92 467.7,306.03 468.2,306.13 468.7,306.22 469.2,306.32 469.7,306.40 470.2,306.49 470.7,306.57 471.2,306.64 471.7,306.71 472.2,306.77 472.7,306.83 473.2,306.89 473.7,306.94 474.2,307.01 474.7,307.13 475.2,307.32 475.7,307.56 476.2,307.82 476.7,308.11 477.2,308.41 477.7,308.74 478.2,309.08 478.7,309.44 479.2,309.83 479.7,310.23 480.2,310.66 480.7,311.10 481.2,311.57 481.7,312.06 482.2,312.57 482.7,313.10 483.2,313.65 483.7,314.21 484.2,314.78 484.7,315.37 485.2,315.97 485.7,316.57 486.2,317.17 486.7,317.77 487.2,318.35 487.7,318.92 488.2,319.48 488.7,320.00 489.2,320.49 489.7,320.95 490.2,321.35 490.7,321.71 491.2,322.01 491.7,322.24 492.2,322.40 492.7,322.49 493.2,322.50 493.7,322.46 494.2,322.39 494.7,322.27 495.2,322.11 495.7,321.90 496.2,321.65 496.7,321.36 497.2,321.03 497.7,320.65 498.2,320.22 498.7,319.76 499.2,319.26 499.7,318.72 500.2,318.14 500.7,317.54 501.2,316.90 501.7,316.24 502.2,315.56 502.7,314.86 503.2,314.14 503.7,313.42 504.2,312.69 504.7,311.95 505.2,311.22 505.7,310.50 506.2,309.78 506.7,309.08 507.2,308.40 507.7,307.74 508.2,307.11 508.7,306.50 509.2,305.92 509.7,305.38 510.2,304.87 510.7,304.40 511.2,303.97 511.7,303.58 512.2,303.23 512.7,302.92 513.2,302.65 513.7,302.42 514.2,302.23 514.7,302.08 515.2,301.97 515.7,301.89 516.2,301.85 516.7,301.84 517.2,301.87 517.7,301.92 518.2,302.00 518.7,302.12 519.2,302.27 519.7,302.47 520.2,302.71 520.7,302.99 521.2,303.29 521.7,303.58 522.2,303.87 522.7,304.15 523.2,304.42 523.7,304.68 524.2,304.92 524.7,305.15 525.2,305.36 525.7,305.55 526.2,305.73 526.7,305.88 527.2,306.01 527.7,306.13 528.2,306.22 528.7,306.29 529.2,306.34 529.7,306.36 530.2,306.37 530.7,306.35 531.2,306.31 531.7,306.25 532.2,306.17 532.7,306.07 533.2,305.95 533.7,305.81 534.2,305.65 534.7,305.48 535.2,305.28 535.7,305.08 536.2,304.86 536.7,304.62 537.2,304.38 537.7,304.12 538.2,303.86 538.7,303.59 539.2,303.31 539.7,303.03 540.2,302.75 540.7,302.47" fill="none" stroke="#999" stroke-width="0.8"/>
<polyline points="379.2,304.84 379.7,304.80 380.2,304.75 380.7,304.69 381.2,304.62 381.7,304.55 382.2,304.46 382.7,304.38 383.2,304.28 383.7,304.18 384.2,304.07 384.7,303.95 385.2,303.84 385.7,303.71 386.2,303.59 386.7,303.46 387.2,303.33 387.7,303.20 388.2,303.07 388.7,302.94 389.2,302.81 389.7,302.67 390.2,302.54 390.7,302.42 391.2,302.29 391.7,302.16 392.2,302.03 392.7,301.90 393.2,301.76 393.7,301.63 394.2,301.49 394.7,301.34 395.2,301.19 395.7,301.04 396.2,300.89 396.7,300.73 397.2,300.58 397.7,300.42 398.2,300.26 398.7,300.11 399.2,299.95 399.7,299.80 400.2,299.65 400.7,299.50 401.2,299.36 401.7,299.22 402.2,299.08 402.7,298.96 403.2,298.84 403.7,298.72 404.2,298.62 404.7,298.52 405.2,298.44 405.7,298.36 406.2,298.30 406.7,298.25 407.2,298.21 407.7,298.18 408.2,298.17 408.7,298.18 409.2,298.21 409.7,298.25 410.2,298.31 410.7,298.38 411.2,298.47 411.7,298.58 412.2,298.70 412.7,298.82 413.2,298.96 413.7,299.11 414.2,299.26 414.7,299.42 415.2,299.58 415.7,299.75 416.2,299.91 416.7,300.07 417.2,300.24 417.7,300.40 418.2,300.55 418.7,300.70 419.2,300.85 419.7,300.99 420.2,301.14 420.7,301.28 421.2,301.42 421.7,301.56 422.2,301.70 422.7,301.85 423.2,301.99 423.7,302.14 424.2,302.29 424.7,302.43 425.2,302.57 425.7,302.71 426.2,302.84 426.7,302.96 427.2,303.08 427.7,303.19 428.2,303.29 428.7,303.38 429.2,303.45 429.7,303.52 430.2,303.57 430.7,303.60 431.2,303.63 431.7,303.64 432.2,303.64 432.7,303.62 433.2,303.60 433.7,303.57 434.2,303.53 434.7,303.48 435.2,303.43 435.7,303.37 436.2,303.30 436.7,303.23 437.2,303.15 437.7,303.07 438.2,302.99 438.7,302.90 439.2,302.81 439.7,302.73 440.2,302.64 440.7,302.55 441.2,302.47 441.7,302.38 442.2,302.30 442.7,302.22 443.2,302.15 443.7,302.07 444.2,302.01 444.7,301.94 445.2,301.88 445.7,301.82 446.2,301.76 446.7,301.71 447.2,301.65 447.7,301.60 448.2,301.55 448.7,301.50 449.2,301.45 449.7,301.41 450.2,301.36 450.7,301.32 451.2,301.28 451.7,301.25 452.2,301.22 452.7,301.19 453.2,301.16 453.7,301.15 454.2,301.13 454.7,301.12 455.2,301.12 455.7,301.13 456.2,301.14 456.7,301.16 457.2,301.18 457.7,301.21 458.2,301.25 458.7,301.29 459.2,301.34 459.7,301.40 460.2,301.46 460.7,301.53 461.2,301.60 461.7,301.68 462.2,301.76 462.7,301.85 463.2,301.95 463.7,302.06 464.2,302.17 464.7,302.29 465.2,302.42 465.7,302.55 466.2,302.68 466.7,302.82 467.2,302.96 467.7,303.11 468.2,303.25 468.7,303.40 469.2,303.55 469.7,303.69 470.2,303.82 470.7,303.94 471.2,304.04 471.7,304.11 472.2,304.15 472.7,304.14 473.2,304.09 473.7,303.95 474.2,303.67 474.7,303.18 475.2,302.43 475.7,301.47 476.2,300.37 476.7,299.13 477.2,297.78 477.7,296.32 478.2,294.76 478.7,293.11 479.2,291.37 479.7,289.54 480.2,287.62 480.7,285.63 481.2,283.57 481.7,281.44 482.2,279.26 482.7,277.03 483.2,274.76 483.7,272.47 484.2,270.18 484.7,267.89 485.2,265.63 485.7,263.41 486.2,261.25 486.7,259.17 487.2,257.19 487.7,255.32 488.2,253.58 488.7,251.99 489.2,250.56 489.7,249.32 490.2,248.26 490.7,247.40 491.2,246.75 491.7,246.32 492.2,246.11 492.7,246.10 493.2,246.18 493.7,246.35 494.2,246.61 494.7,246.95 495.2,247.38 495.7,247.89 496.2,248.48 496.7,249.15 497.2,249.89 497.7,250.70 498.2,251.58 498.7,252.53 499.2,253.53 499.7,254.60 500.2,255.71 500.7,256.88 501.2,258.09 501.7,259.34 502.2,260.63 502.7,261.95 503.2,263.30 503.7,264.67 504.2,266.05 504.7,267.46 505.2,268.87 505.7,270.28 506.2,271.70 506.7,273.12 507.2,274.53 507.7,275.93 508.2,277.32 508.7,278.70 509.2,280.05 509.7,281.39 510.2,282.70 510.7,283.99 511.2,285.25 511.7,286.48 512.2,287.68 512.7,288.85 513.2,289.98 513.7,291.08 514.2,292.15 514.7,293.18 515.2,294.18 515.7,295.14 516.2,296.07 516.7,296.97 517.2,297.82 517.7,298.64 518.2,299.42 518.7,300.15 519.2,300.83 519.7,301.45 520.2,302.01 520.7,302.49 521.2,302.88 521.7,303.18 522.2,303.40 522.7,303.56 523.2,303.68 523.7,303.77 524.2,303.84 524.7,303.88 525.2,303.90 525.7,303.90 526.2,303.86 526.7,303.79 527.2,303.69 527.7,303.56 528.2,303.40 528.7,303.22 529.2,303.01 529.7,302.79 530.2,302.56 530.7,302.34 531.2,302.13 531.7,301.94 532.2,301.76 532.7,301.62 533.2,301.50 533.7,301.41 534.2,301.34 534.7,301.30 535.2,301.27 535.7,301.26 536.2,301.26 536.7,301.28 537.2,301.30 537.7,301.32 538.2,301.35 538.7,301.38 539.2,301.40 539.7,301.42 540.2,301.44 540.7,301.46" fill="none" stroke="#1e1e1e" stroke-width="2.0" stroke-linejoin="round"/>
<line x1="495.60" y1="243.5" x2="539.30" y2="243.5" stroke="#e5291f" stroke-width="1.3"/>
<polygon points="542.30,243.50 536.30,240.70 538.10,243.50 536.30,246.30" fill="#e5291f"/>
<polygon points="492.60,243.50 498.60,240.70 496.80,243.50 498.60,246.30" fill="#e5291f"/>
<line x1="493.2" y1="251.00" x2="493.2" y2="321.80" stroke="#e5291f" stroke-width="1.3"/>
<polygon points="493.20,324.80 490.40,318.80 493.20,320.60 496.00,318.80" fill="#e5291f"/>
<polygon points="493.20,248.00 490.40,254.00 493.20,252.20 496.00,254.00" fill="#e5291f"/>
<line x1="487.00" y1="278.8" x2="505.00" y2="278.8" stroke="#e5291f" stroke-width="1.3"/>
<polygon points="508.00,278.80 502.00,276.00 503.80,278.80 502.00,281.60" fill="#e5291f"/>
<polygon points="484.00,278.80 490.00,276.00 488.20,278.80 490.00,281.60" fill="#e5291f"/>
<polyline points="546.3,270.7 549.5,270.7 549.5,300.2 546.3,300.2" fill="none" stroke="#666" stroke-width="1"/>
<text transform="translate(565.70,280.80) rotate(-90)" x="0" y="0" font-size="13" text-anchor="middle" fill="#000">15%</text>
<text transform="translate(586.00,277.50) rotate(-90)" x="0" y="0" font-size="13" text-anchor="middle" fill="#000">Probability</text>
<g clip-path="url(#clip11)"><g filter="url(#hblur)"><rect x="209.34" y="332.62" width="7.66" height="7.98" fill="#0e91d1" shape-rendering="crispEdges"/><rect x="216.00" y="332.62" width="7.66" height="7.98" fill="#0e91d1" shape-rendering="crispEdges"/><rect x="222.66" y="332.62" width="7.66" height="7.98" fill="#0d93d0" shape-rendering="crispEdges"/><rect x="229.31" y="332.62" width="7.66" height="7.98" fill="#0a9acd" shape-rendering="crispEdges"/><rect x="235.97" y="332.62" width="7.66" height="7.98" fill="#0e91d0" shape-rendering="crispEdges"/><rect x="242.63" y="332.62" width="7.66" height="7.98" fill="#0d92d0" shape-rendering="crispEdges"/><rect x="249.28" y="332.62" width="7.66" height="7.98" fill="#0d94d0" shape-rendering="crispEdges"/><rect x="255.94" y="332.62" width="7.66" height="7.98" fill="#108cd2" shape-rendering="crispEdges"/><rect x="262.60" y="332.62" width="7.66" height="7.98" fill="#0d92d0" shape-rendering="crispEdges"/><rect x="269.25" y="332.62" width="7.66" height="7.98" fill="#0c94cf" shape-rendering="crispEdges"/><rect x="275.91" y="332.62" width="7.66" height="7.98" fill="#0b98ce" shape-rendering="crispEdges"/><rect x="282.57" y="332.62" width="7.66" height="7.98" fill="#108ad3" shape-rendering="crispEdges"/><rect x="289.22" y="332.62" width="7.66" height="7.98" fill="#0f8ed2" shape-rendering="crispEdges"/><rect x="295.88" y="332.62" width="7.66" height="7.98" fill="#108ad3" shape-rendering="crispEdges"/><rect x="302.53" y="332.62" width="7.66" height="7.98" fill="#0c95cf" shape-rendering="crispEdges"/><rect x="309.19" y="332.62" width="7.66" height="7.98" fill="#1274d9" shape-rendering="crispEdges"/><rect x="315.85" y="332.62" width="7.66" height="7.98" fill="#2d359a" shape-rendering="crispEdges"/><rect x="322.50" y="332.62" width="7.66" height="7.98" fill="#2e3396" shape-rendering="crispEdges"/><rect x="329.16" y="332.62" width="7.66" height="7.98" fill="#1270d9" shape-rendering="crispEdges"/><rect x="335.82" y="332.62" width="7.66" height="7.98" fill="#0e91d1" shape-rendering="crispEdges"/><rect x="342.47" y="332.62" width="7.66" height="7.98" fill="#0c94cf" shape-rendering="crispEdges"/><rect x="349.13" y="332.62" width="7.66" height="7.98" fill="#108bd3" shape-rendering="crispEdges"/><rect x="355.79" y="332.62" width="7.66" height="7.98" fill="#1188d3" shape-rendering="crispEdges"/><rect x="362.44" y="332.62" width="7.66" height="7.98" fill="#0d92d0" shape-rendering="crispEdges"/><rect x="369.10" y="332.62" width="7.66" height="7.98" fill="#0d92d0" shape-rendering="crispEdges"/><rect x="209.34" y="339.60" width="7.66" height="7.98" fill="#0e91d1" shape-rendering="crispEdges"/><rect x="216.00" y="339.60" width="7.66" height="7.98" fill="#0e91d1" shape-rendering="crispEdges"/><rect x="222.66" y="339.60" width="7.66" height="7.98" fill="#0d93d0" shape-rendering="crispEdges"/><rect x="229.31" y="339.60" width="7.66" height="7.98" fill="#0a9acd" shape-rendering="crispEdges"/><rect x="235.97" y="339.60" width="7.66" height="7.98" fill="#0e91d0" shape-rendering="crispEdges"/><rect x="242.63" y="339.60" width="7.66" height="7.98" fill="#0d92d0" shape-rendering="crispEdges"/><rect x="249.28" y="339.60" width="7.66" height="7.98" fill="#0d94d0" shape-rendering="crispEdges"/><rect x="255.94" y="339.60" width="7.66" height="7.98" fill="#108cd2" shape-rendering="crispEdges"/><rect x="262.60" y="339.60" width="7.66" height="7.98" fill="#0d92d0" shape-rendering="crispEdges"/><rect x="269.25" y="339.60" width="7.66" height="7.98" fill="#0c94cf" shape-rendering="crispEdges"/><rect x="275.91" y="339.60" width="7.66" height="7.98" fill="#0b98ce" shape-rendering="crispEdges"/><rect x="282.57" y="339.60" width="7.66" height="7.98" fill="#108ad3" shape-rendering="crispEdges"/><rect x="289.22" y="339.60" width="7.66" height="7.98" fill="#0f8ed2" shape-rendering="crispEdges"/><rect x="295.88" y="339.60" width="7.66" height="7.98" fill="#108ad3" shape-rendering="crispEdges"/><rect x="302.53" y="339.60" width="7.66" height="7.98" fill="#0c95cf" shape-rendering="crispEdges"/><rect x="309.19" y="339.60" width="7.66" height="7.98" fill="#1274d9" shape-rendering="crispEdges"/><rect x="315.85" y="339.60" width="7.66" height="7.98" fill="#2d359a" shape-rendering="crispEdges"/><rect x="322.50" y="339.60" width="7.66" height="7.98" fill="#2e3396" shape-rendering="crispEdges"/><rect x="329.16" y="339.60" width="7.66" height="7.98" fill="#1270d9" shape-rendering="crispEdges"/><rect x="335.82" y="339.60" width="7.66" height="7.98" fill="#0e91d1" shape-rendering="crispEdges"/><rect x="342.47" y="339.60" width="7.66" height="7.98" fill="#0c94cf" shape-rendering="crispEdges"/><rect x="349.13" y="339.60" width="7.66" height="7.98" fill="#108bd3" shape-rendering="crispEdges"/><rect x="355.79" y="339.60" width="7.66" height="7.98" fill="#1188d3" shape-rendering="crispEdges"/><rect x="362.44" y="339.60" width="7.66" height="7.98" fill="#0d92d0" shape-rendering="crispEdges"/><rect x="369.10" y="339.60" width="7.66" height="7.98" fill="#0d92d0" shape-rendering="crispEdges"/><rect x="209.34" y="346.58" width="7.66" height="7.98" fill="#1189d3" shape-rendering="crispEdges"/><rect x="216.00" y="346.58" width="7.66" height="7.98" fill="#1189d3" shape-rendering="crispEdges"/><rect x="222.66" y="346.58" width="7.66" height="7.98" fill="#108cd2" shape-rendering="crispEdges"/><rect x="229.31" y="346.58" width="7.66" height="7.98" fill="#0f8dd2" shape-rendering="crispEdges"/><rect x="235.97" y="346.58" width="7.66" height="7.98" fill="#1189d3" shape-rendering="crispEdges"/><rect x="242.63" y="346.58" width="7.66" height="7.98" fill="#0e91d0" shape-rendering="crispEdges"/><rect x="249.28" y="346.58" width="7.66" height="7.98" fill="#0e91d1" shape-rendering="crispEdges"/><rect x="255.94" y="346.58" width="7.66" height="7.98" fill="#0b99ce" shape-rendering="crispEdges"/><rect x="262.60" y="346.58" width="7.66" height="7.98" fill="#0d92d0" shape-rendering="crispEdges"/><rect x="269.25" y="346.58" width="7.66" height="7.98" fill="#0c95cf" shape-rendering="crispEdges"/><rect x="275.91" y="346.58" width="7.66" height="7.98" fill="#0d92d0" shape-rendering="crispEdges"/><rect x="282.57" y="346.58" width="7.66" height="7.98" fill="#0c95cf" shape-rendering="crispEdges"/><rect x="289.22" y="346.58" width="7.66" height="7.98" fill="#0e91d1" shape-rendering="crispEdges"/><rect x="295.88" y="346.58" width="7.66" height="7.98" fill="#0f8dd2" shape-rendering="crispEdges"/><rect x="302.53" y="346.58" width="7.66" height="7.98" fill="#0a99ce" shape-rendering="crispEdges"/><rect x="309.19" y="346.58" width="7.66" height="7.98" fill="#137ad7" shape-rendering="crispEdges"/><rect x="315.85" y="346.58" width="7.66" height="7.98" fill="#263ea9" shape-rendering="crispEdges"/><rect x="322.50" y="346.58" width="7.66" height="7.98" fill="#293aa3" shape-rendering="crispEdges"/><rect x="329.16" y="346.58" width="7.66" height="7.98" fill="#116bda" shape-rendering="crispEdges"/><rect x="335.82" y="346.58" width="7.66" height="7.98" fill="#1189d3" shape-rendering="crispEdges"/><rect x="342.47" y="346.58" width="7.66" height="7.98" fill="#0f8ed2" shape-rendering="crispEdges"/><rect x="349.13" y="346.58" width="7.66" height="7.98" fill="#1189d3" shape-rendering="crispEdges"/><rect x="355.79" y="346.58" width="7.66" height="7.98" fill="#0b97ce" shape-rendering="crispEdges"/><rect x="362.44" y="346.58" width="7.66" height="7.98" fill="#0e90d1" shape-rendering="crispEdges"/><rect x="369.10" y="346.58" width="7.66" height="7.98" fill="#0e90d1" shape-rendering="crispEdges"/><rect x="209.34" y="353.57" width="7.66" height="7.98" fill="#0b97ce" shape-rendering="crispEdges"/><rect x="216.00" y="353.57" width="7.66" height="7.98" fill="#0b97ce" shape-rendering="crispEdges"/><rect x="222.66" y="353.57" width="7.66" height="7.98" fill="#0f8ed2" shape-rendering="crispEdges"/><rect x="229.31" y="353.57" width="7.66" height="7.98" fill="#0a99ce" shape-rendering="crispEdges"/><rect x="235.97" y="353.57" width="7.66" height="7.98" fill="#0b97ce" shape-rendering="crispEdges"/><rect x="242.63" y="353.57" width="7.66" height="7.98" fill="#1286d4" shape-rendering="crispEdges"/><rect x="249.28" y="353.57" width="7.66" height="7.98" fill="#108ad3" shape-rendering="crispEdges"/><rect x="255.94" y="353.57" width="7.66" height="7.98" fill="#0b98ce" shape-rendering="crispEdges"/><rect x="262.60" y="353.57" width="7.66" height="7.98" fill="#0e8fd1" shape-rendering="crispEdges"/><rect x="269.25" y="353.57" width="7.66" height="7.98" fill="#0a99ce" shape-rendering="crispEdges"/><rect x="275.91" y="353.57" width="7.66" height="7.98" fill="#0f8dd2" shape-rendering="crispEdges"/><rect x="282.57" y="353.57" width="7.66" height="7.98" fill="#1286d4" shape-rendering="crispEdges"/><rect x="289.22" y="353.57" width="7.66" height="7.98" fill="#0e90d1" shape-rendering="crispEdges"/><rect x="295.88" y="353.57" width="7.66" height="7.98" fill="#0d93d0" shape-rendering="crispEdges"/><rect x="302.53" y="353.57" width="7.66" height="7.98" fill="#1287d4" shape-rendering="crispEdges"/><rect x="309.19" y="353.57" width="7.66" height="7.98" fill="#1271d9" shape-rendering="crispEdges"/><rect x="315.85" y="353.57" width="7.66" height="7.98" fill="#1653cd" shape-rendering="crispEdges"/><rect x="322.50" y="353.57" width="7.66" height="7.98" fill="#1751cb" shape-rendering="crispEdges"/><rect x="329.16" y="353.57" width="7.66" height="7.98" fill="#1275d8" shape-rendering="crispEdges"/><rect x="335.82" y="353.57" width="7.66" height="7.98" fill="#1383d5" shape-rendering="crispEdges"/><rect x="342.47" y="353.57" width="7.66" height="7.98" fill="#1188d3" shape-rendering="crispEdges"/><rect x="349.13" y="353.57" width="7.66" height="7.98" fill="#1286d4" shape-rendering="crispEdges"/><rect x="355.79" y="353.57" width="7.66" height="7.98" fill="#1286d4" shape-rendering="crispEdges"/><rect x="362.44" y="353.57" width="7.66" height="7.98" fill="#0c95cf" shape-rendering="crispEdges"/><rect x="369.10" y="353.57" width="7.66" height="7.98" fill="#0c95cf" shape-rendering="crispEdges"/><rect x="209.34" y="360.55" width="7.66" height="7.98" fill="#1286d4" shape-rendering="crispEdges"/><rect x="216.00" y="360.55" width="7.66" height="7.98" fill="#1286d4" shape-rendering="crispEdges"/><rect x="222.66" y="360.55" width="7.66" height="7.98" fill="#0f8ed2" shape-rendering="crispEdges"/><rect x="229.31" y="360.55" width="7.66" height="7.98" fill="#108cd2" shape-rendering="crispEdges"/><rect x="235.97" y="360.55" width="7.66" height="7.98" fill="#1287d4" shape-rendering="crispEdges"/><rect x="242.63" y="360.55" width="7.66" height="7.98" fill="#0e91d1" shape-rendering="crispEdges"/><rect x="249.28" y="360.55" width="7.66" height="7.98" fill="#1285d5" shape-rendering="crispEdges"/><rect x="255.94" y="360.55" width="7.66" height="7.98" fill="#0f8fd1" shape-rendering="crispEdges"/><rect x="262.60" y="360.55" width="7.66" height="7.98" fill="#1384d5" shape-rendering="crispEdges"/><rect x="269.25" y="360.55" width="7.66" height="7.98" fill="#1189d3" shape-rendering="crispEdges"/><rect x="275.91" y="360.55" width="7.66" height="7.98" fill="#1384d5" shape-rendering="crispEdges"/><rect x="282.57" y="360.55" width="7.66" height="7.98" fill="#1383d5" shape-rendering="crispEdges"/><rect x="289.22" y="360.55" width="7.66" height="7.98" fill="#0e8fd1" shape-rendering="crispEdges"/><rect x="295.88" y="360.55" width="7.66" height="7.98" fill="#108ad3" shape-rendering="crispEdges"/><rect x="302.53" y="360.55" width="7.66" height="7.98" fill="#137dd7" shape-rendering="crispEdges"/><rect x="309.19" y="360.55" width="7.66" height="7.98" fill="#1376d8" shape-rendering="crispEdges"/><rect x="315.85" y="360.55" width="7.66" height="7.98" fill="#116ada" shape-rendering="crispEdges"/><rect x="322.50" y="360.55" width="7.66" height="7.98" fill="#116ada" shape-rendering="crispEdges"/><rect x="329.16" y="360.55" width="7.66" height="7.98" fill="#1274d8" shape-rendering="crispEdges"/><rect x="335.82" y="360.55" width="7.66" height="7.98" fill="#1482d6" shape-rendering="crispEdges"/><rect x="342.47" y="360.55" width="7.66" height="7.98" fill="#137cd7" shape-rendering="crispEdges"/><rect x="349.13" y="360.55" width="7.66" height="7.98" fill="#0e90d1" shape-rendering="crispEdges"/><rect x="355.79" y="360.55" width="7.66" height="7.98" fill="#1482d6" shape-rendering="crispEdges"/><rect x="362.44" y="360.55" width="7.66" height="7.98" fill="#1384d5" shape-rendering="crispEdges"/><rect x="369.10" y="360.55" width="7.66" height="7.98" fill="#1384d5" shape-rendering="crispEdges"/><rect x="209.34" y="367.53" width="7.66" height="7.98" fill="#0b97ce" shape-rendering="crispEdges"/><rect x="216.00" y="367.53" width="7.66" height="7.98" fill="#0b97ce" shape-rendering="crispEdges"/><rect x="222.66" y="367.53" width="7.66" height="7.98" fill="#0f8ed1" shape-rendering="crispEdges"/><rect x="229.31" y="367.53" width="7.66" height="7.98" fill="#0f8ed2" shape-rendering="crispEdges"/><rect x="235.97" y="367.53" width="7.66" height="7.98" fill="#1189d3" shape-rendering="crispEdges"/><rect x="242.63" y="367.53" width="7.66" height="7.98" fill="#108ad3" shape-rendering="crispEdges"/><rect x="249.28" y="367.53" width="7.66" height="7.98" fill="#0d93d0" shape-rendering="crispEdges"/><rect x="255.94" y="367.53" width="7.66" height="7.98" fill="#0f8dd2" shape-rendering="crispEdges"/><rect x="262.60" y="367.53" width="7.66" height="7.98" fill="#0c94d0" shape-rendering="crispEdges"/><rect x="269.25" y="367.53" width="7.66" height="7.98" fill="#0e8fd1" shape-rendering="crispEdges"/><rect x="275.91" y="367.53" width="7.66" height="7.98" fill="#0e91d1" shape-rendering="crispEdges"/><rect x="282.57" y="367.53" width="7.66" height="7.98" fill="#0a9bcd" shape-rendering="crispEdges"/><rect x="289.22" y="367.53" width="7.66" height="7.98" fill="#0d91d0" shape-rendering="crispEdges"/><rect x="295.88" y="367.53" width="7.66" height="7.98" fill="#0d93d0" shape-rendering="crispEdges"/><rect x="302.53" y="367.53" width="7.66" height="7.98" fill="#099dcc" shape-rendering="crispEdges"/><rect x="309.19" y="367.53" width="7.66" height="7.98" fill="#0ba6c6" shape-rendering="crispEdges"/><rect x="315.85" y="367.53" width="7.66" height="7.98" fill="#1cafb5" shape-rendering="crispEdges"/><rect x="322.50" y="367.53" width="7.66" height="7.98" fill="#1eafb3" shape-rendering="crispEdges"/><rect x="329.16" y="367.53" width="7.66" height="7.98" fill="#1baeb6" shape-rendering="crispEdges"/><rect x="335.82" y="367.53" width="7.66" height="7.98" fill="#07a2cb" shape-rendering="crispEdges"/><rect x="342.47" y="367.53" width="7.66" height="7.98" fill="#0f8ed1" shape-rendering="crispEdges"/><rect x="349.13" y="367.53" width="7.66" height="7.98" fill="#0b97cf" shape-rendering="crispEdges"/><rect x="355.79" y="367.53" width="7.66" height="7.98" fill="#0a9acd" shape-rendering="crispEdges"/><rect x="362.44" y="367.53" width="7.66" height="7.98" fill="#108cd2" shape-rendering="crispEdges"/><rect x="369.10" y="367.53" width="7.66" height="7.98" fill="#108cd2" shape-rendering="crispEdges"/><rect x="209.34" y="374.52" width="7.66" height="7.98" fill="#0a9bcd" shape-rendering="crispEdges"/><rect x="216.00" y="374.52" width="7.66" height="7.98" fill="#0a9bcd" shape-rendering="crispEdges"/><rect x="222.66" y="374.52" width="7.66" height="7.98" fill="#0a99ce" shape-rendering="crispEdges"/><rect x="229.31" y="374.52" width="7.66" height="7.98" fill="#0c94d0" shape-rendering="crispEdges"/><rect x="235.97" y="374.52" width="7.66" height="7.98" fill="#0e90d1" shape-rendering="crispEdges"/><rect x="242.63" y="374.52" width="7.66" height="7.98" fill="#108ad3" shape-rendering="crispEdges"/><rect x="249.28" y="374.52" width="7.66" height="7.98" fill="#1189d3" shape-rendering="crispEdges"/><rect x="255.94" y="374.52" width="7.66" height="7.98" fill="#0a9bcd" shape-rendering="crispEdges"/><rect x="262.60" y="374.52" width="7.66" height="7.98" fill="#0f8dd2" shape-rendering="crispEdges"/><rect x="269.25" y="374.52" width="7.66" height="7.98" fill="#0c96cf" shape-rendering="crispEdges"/><rect x="275.91" y="374.52" width="7.66" height="7.98" fill="#0f8dd2" shape-rendering="crispEdges"/><rect x="282.57" y="374.52" width="7.66" height="7.98" fill="#0b98ce" shape-rendering="crispEdges"/><rect x="289.22" y="374.52" width="7.66" height="7.98" fill="#0d94d0" shape-rendering="crispEdges"/><rect x="295.88" y="374.52" width="7.66" height="7.98" fill="#0f8ed1" shape-rendering="crispEdges"/><rect x="302.53" y="374.52" width="7.66" height="7.98" fill="#099ecc" shape-rendering="crispEdges"/><rect x="309.19" y="374.52" width="7.66" height="7.98" fill="#89bf76" shape-rendering="crispEdges"/><rect x="315.85" y="374.52" width="7.66" height="7.98" fill="#e0bf4c" shape-rendering="crispEdges"/><rect x="322.50" y="374.52" width="7.66" height="7.98" fill="#e7c146" shape-rendering="crispEdges"/><rect x="329.16" y="374.52" width="7.66" height="7.98" fill="#d9bd52" shape-rendering="crispEdges"/><rect x="335.82" y="374.52" width="7.66" height="7.98" fill="#5cbb8d" shape-rendering="crispEdges"/><rect x="342.47" y="374.52" width="7.66" height="7.98" fill="#099ccd" shape-rendering="crispEdges"/><rect x="349.13" y="374.52" width="7.66" height="7.98" fill="#0f8ed2" shape-rendering="crispEdges"/><rect x="355.79" y="374.52" width="7.66" height="7.98" fill="#0a9acd" shape-rendering="crispEdges"/><rect x="362.44" y="374.52" width="7.66" height="7.98" fill="#108cd2" shape-rendering="crispEdges"/><rect x="369.10" y="374.52" width="7.66" height="7.98" fill="#108cd2" shape-rendering="crispEdges"/><rect x="209.34" y="381.50" width="7.66" height="7.98" fill="#1188d3" shape-rendering="crispEdges"/><rect x="216.00" y="381.50" width="7.66" height="7.98" fill="#1188d3" shape-rendering="crispEdges"/><rect x="222.66" y="381.50" width="7.66" height="7.98" fill="#0f8dd2" shape-rendering="crispEdges"/><rect x="229.31" y="381.50" width="7.66" height="7.98" fill="#0e91d1" shape-rendering="crispEdges"/><rect x="235.97" y="381.50" width="7.66" height="7.98" fill="#1189d3" shape-rendering="crispEdges"/><rect x="242.63" y="381.50" width="7.66" height="7.98" fill="#108bd2" shape-rendering="crispEdges"/><rect x="249.28" y="381.50" width="7.66" height="7.98" fill="#0e8fd1" shape-rendering="crispEdges"/><rect x="255.94" y="381.50" width="7.66" height="7.98" fill="#0d93d0" shape-rendering="crispEdges"/><rect x="262.60" y="381.50" width="7.66" height="7.98" fill="#108bd3" shape-rendering="crispEdges"/><rect x="269.25" y="381.50" width="7.66" height="7.98" fill="#0e8fd1" shape-rendering="crispEdges"/><rect x="275.91" y="381.50" width="7.66" height="7.98" fill="#0a99ce" shape-rendering="crispEdges"/><rect x="282.57" y="381.50" width="7.66" height="7.98" fill="#0a9bcd" shape-rendering="crispEdges"/><rect x="289.22" y="381.50" width="7.66" height="7.98" fill="#0c95cf" shape-rendering="crispEdges"/><rect x="295.88" y="381.50" width="7.66" height="7.98" fill="#0c96cf" shape-rendering="crispEdges"/><rect x="302.53" y="381.50" width="7.66" height="7.98" fill="#0da7c3" shape-rendering="crispEdges"/><rect x="309.19" y="381.50" width="7.66" height="7.98" fill="#bcbc62" shape-rendering="crispEdges"/><rect x="315.85" y="381.50" width="7.66" height="7.98" fill="#fbe61d" shape-rendering="crispEdges"/><rect x="322.50" y="381.50" width="7.66" height="7.98" fill="#faef17" shape-rendering="crispEdges"/><rect x="329.16" y="381.50" width="7.66" height="7.98" fill="#fcdb24" shape-rendering="crispEdges"/><rect x="335.82" y="381.50" width="7.66" height="7.98" fill="#8ebf74" shape-rendering="crispEdges"/><rect x="342.47" y="381.50" width="7.66" height="7.98" fill="#08a5c8" shape-rendering="crispEdges"/><rect x="349.13" y="381.50" width="7.66" height="7.98" fill="#1189d3" shape-rendering="crispEdges"/><rect x="355.79" y="381.50" width="7.66" height="7.98" fill="#0c94cf" shape-rendering="crispEdges"/><rect x="362.44" y="381.50" width="7.66" height="7.98" fill="#0d91d0" shape-rendering="crispEdges"/><rect x="369.10" y="381.50" width="7.66" height="7.98" fill="#0d91d0" shape-rendering="crispEdges"/><rect x="209.34" y="388.48" width="7.66" height="7.98" fill="#0b96cf" shape-rendering="crispEdges"/><rect x="216.00" y="388.48" width="7.66" height="7.98" fill="#0b96cf" shape-rendering="crispEdges"/><rect x="222.66" y="388.48" width="7.66" height="7.98" fill="#0f8ed1" shape-rendering="crispEdges"/><rect x="229.31" y="388.48" width="7.66" height="7.98" fill="#099ccd" shape-rendering="crispEdges"/><rect x="235.97" y="388.48" width="7.66" height="7.98" fill="#1189d3" shape-rendering="crispEdges"/><rect x="242.63" y="388.48" width="7.66" height="7.98" fill="#0d93d0" shape-rendering="crispEdges"/><rect x="249.28" y="388.48" width="7.66" height="7.98" fill="#0b96cf" shape-rendering="crispEdges"/><rect x="255.94" y="388.48" width="7.66" height="7.98" fill="#0a9ace" shape-rendering="crispEdges"/><rect x="262.60" y="388.48" width="7.66" height="7.98" fill="#0b96cf" shape-rendering="crispEdges"/><rect x="269.25" y="388.48" width="7.66" height="7.98" fill="#0c96cf" shape-rendering="crispEdges"/><rect x="275.91" y="388.48" width="7.66" height="7.98" fill="#0b98ce" shape-rendering="crispEdges"/><rect x="282.57" y="388.48" width="7.66" height="7.98" fill="#0a9acd" shape-rendering="crispEdges"/><rect x="289.22" y="388.48" width="7.66" height="7.98" fill="#0e8fd1" shape-rendering="crispEdges"/><rect x="295.88" y="388.48" width="7.66" height="7.98" fill="#0c96cf" shape-rendering="crispEdges"/><rect x="302.53" y="388.48" width="7.66" height="7.98" fill="#07a4c9" shape-rendering="crispEdges"/><rect x="309.19" y="388.48" width="7.66" height="7.98" fill="#4ab996" shape-rendering="crispEdges"/><rect x="315.85" y="388.48" width="7.66" height="7.98" fill="#95be71" shape-rendering="crispEdges"/><rect x="322.50" y="388.48" width="7.66" height="7.98" fill="#9cbe6f" shape-rendering="crispEdges"/><rect x="329.16" y="388.48" width="7.66" height="7.98" fill="#8dbf74" shape-rendering="crispEdges"/><rect x="335.82" y="388.48" width="7.66" height="7.98" fill="#28b4a9" shape-rendering="crispEdges"/><rect x="342.47" y="388.48" width="7.66" height="7.98" fill="#0a9acd" shape-rendering="crispEdges"/><rect x="349.13" y="388.48" width="7.66" height="7.98" fill="#0e90d1" shape-rendering="crispEdges"/><rect x="355.79" y="388.48" width="7.66" height="7.98" fill="#0d93d0" shape-rendering="crispEdges"/><rect x="362.44" y="388.48" width="7.66" height="7.98" fill="#0c94d0" shape-rendering="crispEdges"/><rect x="369.10" y="388.48" width="7.66" height="7.98" fill="#0c94d0" shape-rendering="crispEdges"/><rect x="209.34" y="395.47" width="7.66" height="7.98" fill="#118ad3" shape-rendering="crispEdges"/><rect x="216.00" y="395.47" width="7.66" height="7.98" fill="#118ad3" shape-rendering="crispEdges"/><rect x="222.66" y="395.47" width="7.66" height="7.98" fill="#0c95cf" shape-rendering="crispEdges"/><rect x="229.31" y="395.47" width="7.66" height="7.98" fill="#099bcd" shape-rendering="crispEdges"/><rect x="235.97" y="395.47" width="7.66" height="7.98" fill="#0a99ce" shape-rendering="crispEdges"/><rect x="242.63" y="395.47" width="7.66" height="7.98" fill="#0b96cf" shape-rendering="crispEdges"/><rect x="249.28" y="395.47" width="7.66" height="7.98" fill="#0e90d1" shape-rendering="crispEdges"/><rect x="255.94" y="395.47" width="7.66" height="7.98" fill="#0b96cf" shape-rendering="crispEdges"/><rect x="262.60" y="395.47" width="7.66" height="7.98" fill="#0d93d0" shape-rendering="crispEdges"/><rect x="269.25" y="395.47" width="7.66" height="7.98" fill="#0e91d1" shape-rendering="crispEdges"/><rect x="275.91" y="395.47" width="7.66" height="7.98" fill="#0b98ce" shape-rendering="crispEdges"/><rect x="282.57" y="395.47" width="7.66" height="7.98" fill="#118ad3" shape-rendering="crispEdges"/><rect x="289.22" y="395.47" width="7.66" height="7.98" fill="#0b97cf" shape-rendering="crispEdges"/><rect x="295.88" y="395.47" width="7.66" height="7.98" fill="#1189d3" shape-rendering="crispEdges"/><rect x="302.53" y="395.47" width="7.66" height="7.98" fill="#0c95cf" shape-rendering="crispEdges"/><rect x="309.19" y="395.47" width="7.66" height="7.98" fill="#0a9acd" shape-rendering="crispEdges"/><rect x="315.85" y="395.47" width="7.66" height="7.98" fill="#089fcc" shape-rendering="crispEdges"/><rect x="322.50" y="395.47" width="7.66" height="7.98" fill="#08a0cb" shape-rendering="crispEdges"/><rect x="329.16" y="395.47" width="7.66" height="7.98" fill="#089fcc" shape-rendering="crispEdges"/><rect x="335.82" y="395.47" width="7.66" height="7.98" fill="#0a9ace" shape-rendering="crispEdges"/><rect x="342.47" y="395.47" width="7.66" height="7.98" fill="#0a9acd" shape-rendering="crispEdges"/><rect x="349.13" y="395.47" width="7.66" height="7.98" fill="#0f8dd2" shape-rendering="crispEdges"/><rect x="355.79" y="395.47" width="7.66" height="7.98" fill="#1188d4" shape-rendering="crispEdges"/><rect x="362.44" y="395.47" width="7.66" height="7.98" fill="#0f8ed2" shape-rendering="crispEdges"/><rect x="369.10" y="395.47" width="7.66" height="7.98" fill="#0f8ed2" shape-rendering="crispEdges"/><rect x="209.34" y="402.45" width="7.66" height="7.98" fill="#0e91d0" shape-rendering="crispEdges"/><rect x="216.00" y="402.45" width="7.66" height="7.98" fill="#0e91d0" shape-rendering="crispEdges"/><rect x="222.66" y="402.45" width="7.66" height="7.98" fill="#1188d4" shape-rendering="crispEdges"/><rect x="229.31" y="402.45" width="7.66" height="7.98" fill="#1287d4" shape-rendering="crispEdges"/><rect x="235.97" y="402.45" width="7.66" height="7.98" fill="#0c95cf" shape-rendering="crispEdges"/><rect x="242.63" y="402.45" width="7.66" height="7.98" fill="#0e91d1" shape-rendering="crispEdges"/><rect x="249.28" y="402.45" width="7.66" height="7.98" fill="#108cd2" shape-rendering="crispEdges"/><rect x="255.94" y="402.45" width="7.66" height="7.98" fill="#0c95cf" shape-rendering="crispEdges"/><rect x="262.60" y="402.45" width="7.66" height="7.98" fill="#1189d3" shape-rendering="crispEdges"/><rect x="269.25" y="402.45" width="7.66" height="7.98" fill="#0e8fd1" shape-rendering="crispEdges"/><rect x="275.91" y="402.45" width="7.66" height="7.98" fill="#1285d5" shape-rendering="crispEdges"/><rect x="282.57" y="402.45" width="7.66" height="7.98" fill="#1188d4" shape-rendering="crispEdges"/><rect x="289.22" y="402.45" width="7.66" height="7.98" fill="#0f8ed1" shape-rendering="crispEdges"/><rect x="295.88" y="402.45" width="7.66" height="7.98" fill="#0e8fd1" shape-rendering="crispEdges"/><rect x="302.53" y="402.45" width="7.66" height="7.98" fill="#1189d3" shape-rendering="crispEdges"/><rect x="309.19" y="402.45" width="7.66" height="7.98" fill="#1270d9" shape-rendering="crispEdges"/><rect x="315.85" y="402.45" width="7.66" height="7.98" fill="#1064db" shape-rendering="crispEdges"/><rect x="322.50" y="402.45" width="7.66" height="7.98" fill="#1064dc" shape-rendering="crispEdges"/><rect x="329.16" y="402.45" width="7.66" height="7.98" fill="#116cda" shape-rendering="crispEdges"/><rect x="335.82" y="402.45" width="7.66" height="7.98" fill="#1481d6" shape-rendering="crispEdges"/><rect x="342.47" y="402.45" width="7.66" height="7.98" fill="#0f8dd2" shape-rendering="crispEdges"/><rect x="349.13" y="402.45" width="7.66" height="7.98" fill="#0e8fd1" shape-rendering="crispEdges"/><rect x="355.79" y="402.45" width="7.66" height="7.98" fill="#0f8dd2" shape-rendering="crispEdges"/><rect x="362.44" y="402.45" width="7.66" height="7.98" fill="#0d93d0" shape-rendering="crispEdges"/><rect x="369.10" y="402.45" width="7.66" height="7.98" fill="#0d93d0" shape-rendering="crispEdges"/><rect x="209.34" y="409.43" width="7.66" height="7.98" fill="#108cd2" shape-rendering="crispEdges"/><rect x="216.00" y="409.43" width="7.66" height="7.98" fill="#108cd2" shape-rendering="crispEdges"/><rect x="222.66" y="409.43" width="7.66" height="7.98" fill="#118ad3" shape-rendering="crispEdges"/><rect x="229.31" y="409.43" width="7.66" height="7.98" fill="#0e8fd1" shape-rendering="crispEdges"/><rect x="235.97" y="409.43" width="7.66" height="7.98" fill="#108cd2" shape-rendering="crispEdges"/><rect x="242.63" y="409.43" width="7.66" height="7.98" fill="#108ad3" shape-rendering="crispEdges"/><rect x="249.28" y="409.43" width="7.66" height="7.98" fill="#0f8ed1" shape-rendering="crispEdges"/><rect x="255.94" y="409.43" width="7.66" height="7.98" fill="#0d92d0" shape-rendering="crispEdges"/><rect x="262.60" y="409.43" width="7.66" height="7.98" fill="#0e90d1" shape-rendering="crispEdges"/><rect x="269.25" y="409.43" width="7.66" height="7.98" fill="#108cd2" shape-rendering="crispEdges"/><rect x="275.91" y="409.43" width="7.66" height="7.98" fill="#0c96cf" shape-rendering="crispEdges"/><rect x="282.57" y="409.43" width="7.66" height="7.98" fill="#0b98ce" shape-rendering="crispEdges"/><rect x="289.22" y="409.43" width="7.66" height="7.98" fill="#0f8dd2" shape-rendering="crispEdges"/><rect x="295.88" y="409.43" width="7.66" height="7.98" fill="#1285d5" shape-rendering="crispEdges"/><rect x="302.53" y="409.43" width="7.66" height="7.98" fill="#1482d6" shape-rendering="crispEdges"/><rect x="309.19" y="409.43" width="7.66" height="7.98" fill="#1378d8" shape-rendering="crispEdges"/><rect x="315.85" y="409.43" width="7.66" height="7.98" fill="#1f47b9" shape-rendering="crispEdges"/><rect x="322.50" y="409.43" width="7.66" height="7.98" fill="#2045b6" shape-rendering="crispEdges"/><rect x="329.16" y="409.43" width="7.66" height="7.98" fill="#126fd9" shape-rendering="crispEdges"/><rect x="335.82" y="409.43" width="7.66" height="7.98" fill="#1286d4" shape-rendering="crispEdges"/><rect x="342.47" y="409.43" width="7.66" height="7.98" fill="#0d93d0" shape-rendering="crispEdges"/><rect x="349.13" y="409.43" width="7.66" height="7.98" fill="#1384d5" shape-rendering="crispEdges"/><rect x="355.79" y="409.43" width="7.66" height="7.98" fill="#1187d4" shape-rendering="crispEdges"/><rect x="362.44" y="409.43" width="7.66" height="7.98" fill="#0f8ed2" shape-rendering="crispEdges"/><rect x="369.10" y="409.43" width="7.66" height="7.98" fill="#0f8ed2" shape-rendering="crispEdges"/><rect x="209.34" y="416.42" width="7.66" height="7.98" fill="#1188d3" shape-rendering="crispEdges"/><rect x="216.00" y="416.42" width="7.66" height="7.98" fill="#1188d3" shape-rendering="crispEdges"/><rect x="222.66" y="416.42" width="7.66" height="7.98" fill="#0b98ce" shape-rendering="crispEdges"/><rect x="229.31" y="416.42" width="7.66" height="7.98" fill="#0f8dd2" shape-rendering="crispEdges"/><rect x="235.97" y="416.42" width="7.66" height="7.98" fill="#108bd3" shape-rendering="crispEdges"/><rect x="242.63" y="416.42" width="7.66" height="7.98" fill="#1189d3" shape-rendering="crispEdges"/><rect x="249.28" y="416.42" width="7.66" height="7.98" fill="#0c94cf" shape-rendering="crispEdges"/><rect x="255.94" y="416.42" width="7.66" height="7.98" fill="#0e91d1" shape-rendering="crispEdges"/><rect x="262.60" y="416.42" width="7.66" height="7.98" fill="#0c94cf" shape-rendering="crispEdges"/><rect x="269.25" y="416.42" width="7.66" height="7.98" fill="#0c95cf" shape-rendering="crispEdges"/><rect x="275.91" y="416.42" width="7.66" height="7.98" fill="#0b98ce" shape-rendering="crispEdges"/><rect x="282.57" y="416.42" width="7.66" height="7.98" fill="#0a9bcd" shape-rendering="crispEdges"/><rect x="289.22" y="416.42" width="7.66" height="7.98" fill="#0c95cf" shape-rendering="crispEdges"/><rect x="295.88" y="416.42" width="7.66" height="7.98" fill="#108cd2" shape-rendering="crispEdges"/><rect x="302.53" y="416.42" width="7.66" height="7.98" fill="#0e8fd1" shape-rendering="crispEdges"/><rect x="309.19" y="416.42" width="7.66" height="7.98" fill="#116dda" shape-rendering="crispEdges"/><rect x="315.85" y="416.42" width="7.66" height="7.98" fill="#2d359a" shape-rendering="crispEdges"/><rect x="322.50" y="416.42" width="7.66" height="7.98" fill="#2f3295" shape-rendering="crispEdges"/><rect x="329.16" y="416.42" width="7.66" height="7.98" fill="#116dda" shape-rendering="crispEdges"/><rect x="335.82" y="416.42" width="7.66" height="7.98" fill="#1188d4" shape-rendering="crispEdges"/><rect x="342.47" y="416.42" width="7.66" height="7.98" fill="#0f8dd2" shape-rendering="crispEdges"/><rect x="349.13" y="416.42" width="7.66" height="7.98" fill="#0e8fd1" shape-rendering="crispEdges"/><rect x="355.79" y="416.42" width="7.66" height="7.98" fill="#0c96cf" shape-rendering="crispEdges"/><rect x="362.44" y="416.42" width="7.66" height="7.98" fill="#0d92d0" shape-rendering="crispEdges"/><rect x="369.10" y="416.42" width="7.66" height="7.98" fill="#0d92d0" shape-rendering="crispEdges"/><rect x="209.34" y="423.40" width="7.66" height="7.98" fill="#1188d3" shape-rendering="crispEdges"/><rect x="216.00" y="423.40" width="7.66" height="7.98" fill="#1188d3" shape-rendering="crispEdges"/><rect x="222.66" y="423.40" width="7.66" height="7.98" fill="#0b98ce" shape-rendering="crispEdges"/><rect x="229.31" y="423.40" width="7.66" height="7.98" fill="#0f8dd2" shape-rendering="crispEdges"/><rect x="235.97" y="423.40" width="7.66" height="7.98" fill="#108bd3" shape-rendering="crispEdges"/><rect x="242.63" y="423.40" width="7.66" height="7.98" fill="#1189d3" shape-rendering="crispEdges"/><rect x="249.28" y="423.40" width="7.66" height="7.98" fill="#0c94cf" shape-rendering="crispEdges"/><rect x="255.94" y="423.40" width="7.66" height="7.98" fill="#0e91d1" shape-rendering="crispEdges"/><rect x="262.60" y="423.40" width="7.66" height="7.98" fill="#0c94cf" shape-rendering="crispEdges"/><rect x="269.25" y="423.40" width="7.66" height="7.98" fill="#0c95cf" shape-rendering="crispEdges"/><rect x="275.91" y="423.40" width="7.66" height="7.98" fill="#0b98ce" shape-rendering="crispEdges"/><rect x="282.57" y="423.40" width="7.66" height="7.98" fill="#0a9bcd" shape-rendering="crispEdges"/><rect x="289.22" y="423.40" width="7.66" height="7.98" fill="#0c95cf" shape-rendering="crispEdges"/><rect x="295.88" y="423.40" width="7.66" height="7.98" fill="#108cd2" shape-rendering="crispEdges"/><rect x="302.53" y="423.40" width="7.66" height="7.98" fill="#0e8fd1" shape-rendering="crispEdges"/><rect x="309.19" y="423.40" width="7.66" height="7.98" fill="#116dda" shape-rendering="crispEdges"/><rect x="315.85" y="423.40" width="7.66" height="7.98" fill="#2d359a" shape-rendering="crispEdges"/><rect x="322.50" y="423.40" width="7.66" height="7.98" fill="#2f3295" shape-rendering="crispEdges"/><rect x="329.16" y="423.40" width="7.66" height="7.98" fill="#116dda" shape-rendering="crispEdges"/><rect x="335.82" y="423.40" width="7.66" height="7.98" fill="#1188d4" shape-rendering="crispEdges"/><rect x="342.47" y="423.40" width="7.66" height="7.98" fill="#0f8dd2" shape-rendering="crispEdges"/><rect x="349.13" y="423.40" width="7.66" height="7.98" fill="#0e8fd1" shape-rendering="crispEdges"/><rect x="355.79" y="423.40" width="7.66" height="7.98" fill="#0c96cf" shape-rendering="crispEdges"/><rect x="362.44" y="423.40" width="7.66" height="7.98" fill="#0d92d0" shape-rendering="crispEdges"/><rect x="369.10" y="423.40" width="7.66" height="7.98" fill="#0d92d0" shape-rendering="crispEdges"/></g></g>
<text x="219.00" y="351.70" font-size="11" text-anchor="start" font-weight="normal" fill="#fff" >Early</text>
<g clip-path="url(#clip12)"><g filter="url(#hblur)"><rect x="380.63" y="332.42" width="7.67" height="7.98" fill="#0d91d0" shape-rendering="crispEdges"/><rect x="387.30" y="332.42" width="7.67" height="7.98" fill="#0d91d0" shape-rendering="crispEdges"/><rect x="393.97" y="332.42" width="7.67" height="7.98" fill="#0c95cf" shape-rendering="crispEdges"/><rect x="400.65" y="332.42" width="7.67" height="7.98" fill="#0c95cf" shape-rendering="crispEdges"/><rect x="407.32" y="332.42" width="7.67" height="7.98" fill="#108bd3" shape-rendering="crispEdges"/><rect x="414.00" y="332.42" width="7.67" height="7.98" fill="#1188d4" shape-rendering="crispEdges"/><rect x="420.67" y="332.42" width="7.67" height="7.98" fill="#0e8fd1" shape-rendering="crispEdges"/><rect x="427.34" y="332.42" width="7.67" height="7.98" fill="#0f8dd2" shape-rendering="crispEdges"/><rect x="434.02" y="332.42" width="7.67" height="7.98" fill="#0b98ce" shape-rendering="crispEdges"/><rect x="440.69" y="332.42" width="7.67" height="7.98" fill="#0c96cf" shape-rendering="crispEdges"/><rect x="447.37" y="332.42" width="7.67" height="7.98" fill="#0c94d0" shape-rendering="crispEdges"/><rect x="454.04" y="332.42" width="7.67" height="7.98" fill="#0d93d0" shape-rendering="crispEdges"/><rect x="460.71" y="332.42" width="7.67" height="7.98" fill="#0c95cf" shape-rendering="crispEdges"/><rect x="467.39" y="332.42" width="7.67" height="7.98" fill="#108bd3" shape-rendering="crispEdges"/><rect x="474.06" y="332.42" width="7.67" height="7.98" fill="#0f8ed2" shape-rendering="crispEdges"/><rect x="480.73" y="332.42" width="7.67" height="7.98" fill="#1272d9" shape-rendering="crispEdges"/><rect x="487.41" y="332.42" width="7.67" height="7.98" fill="#2242b1" shape-rendering="crispEdges"/><rect x="494.08" y="332.42" width="7.67" height="7.98" fill="#322e8e" shape-rendering="crispEdges"/><rect x="500.76" y="332.42" width="7.67" height="7.98" fill="#1a4dc3" shape-rendering="crispEdges"/><rect x="507.43" y="332.42" width="7.67" height="7.98" fill="#1378d8" shape-rendering="crispEdges"/><rect x="514.10" y="332.42" width="7.67" height="7.98" fill="#0c94cf" shape-rendering="crispEdges"/><rect x="520.78" y="332.42" width="7.67" height="7.98" fill="#0f8fd1" shape-rendering="crispEdges"/><rect x="527.45" y="332.42" width="7.67" height="7.98" fill="#0e90d1" shape-rendering="crispEdges"/><rect x="534.13" y="332.42" width="7.67" height="7.98" fill="#0b99ce" shape-rendering="crispEdges"/><rect x="540.80" y="332.42" width="7.67" height="7.98" fill="#0b99ce" shape-rendering="crispEdges"/><rect x="380.63" y="339.40" width="7.67" height="7.98" fill="#0d91d0" shape-rendering="crispEdges"/><rect x="387.30" y="339.40" width="7.67" height="7.98" fill="#0d91d0" shape-rendering="crispEdges"/><rect x="393.97" y="339.40" width="7.67" height="7.98" fill="#0c95cf" shape-rendering="crispEdges"/><rect x="400.65" y="339.40" width="7.67" height="7.98" fill="#0c95cf" shape-rendering="crispEdges"/><rect x="407.32" y="339.40" width="7.67" height="7.98" fill="#108bd3" shape-rendering="crispEdges"/><rect x="414.00" y="339.40" width="7.67" height="7.98" fill="#1188d4" shape-rendering="crispEdges"/><rect x="420.67" y="339.40" width="7.67" height="7.98" fill="#0e8fd1" shape-rendering="crispEdges"/><rect x="427.34" y="339.40" width="7.67" height="7.98" fill="#0f8dd2" shape-rendering="crispEdges"/><rect x="434.02" y="339.40" width="7.67" height="7.98" fill="#0b98ce" shape-rendering="crispEdges"/><rect x="440.69" y="339.40" width="7.67" height="7.98" fill="#0c96cf" shape-rendering="crispEdges"/><rect x="447.37" y="339.40" width="7.67" height="7.98" fill="#0c94d0" shape-rendering="crispEdges"/><rect x="454.04" y="339.40" width="7.67" height="7.98" fill="#0d93d0" shape-rendering="crispEdges"/><rect x="460.71" y="339.40" width="7.67" height="7.98" fill="#0c95cf" shape-rendering="crispEdges"/><rect x="467.39" y="339.40" width="7.67" height="7.98" fill="#108bd3" shape-rendering="crispEdges"/><rect x="474.06" y="339.40" width="7.67" height="7.98" fill="#0f8ed2" shape-rendering="crispEdges"/><rect x="480.73" y="339.40" width="7.67" height="7.98" fill="#1272d9" shape-rendering="crispEdges"/><rect x="487.41" y="339.40" width="7.67" height="7.98" fill="#2242b1" shape-rendering="crispEdges"/><rect x="494.08" y="339.40" width="7.67" height="7.98" fill="#322e8e" shape-rendering="crispEdges"/><rect x="500.76" y="339.40" width="7.67" height="7.98" fill="#1a4dc3" shape-rendering="crispEdges"/><rect x="507.43" y="339.40" width="7.67" height="7.98" fill="#1378d8" shape-rendering="crispEdges"/><rect x="514.10" y="339.40" width="7.67" height="7.98" fill="#0c94cf" shape-rendering="crispEdges"/><rect x="520.78" y="339.40" width="7.67" height="7.98" fill="#0f8fd1" shape-rendering="crispEdges"/><rect x="527.45" y="339.40" width="7.67" height="7.98" fill="#0e90d1" shape-rendering="crispEdges"/><rect x="534.13" y="339.40" width="7.67" height="7.98" fill="#0b99ce" shape-rendering="crispEdges"/><rect x="540.80" y="339.40" width="7.67" height="7.98" fill="#0b99ce" shape-rendering="crispEdges"/><rect x="380.63" y="346.38" width="7.67" height="7.98" fill="#1188d3" shape-rendering="crispEdges"/><rect x="387.30" y="346.38" width="7.67" height="7.98" fill="#1188d3" shape-rendering="crispEdges"/><rect x="393.97" y="346.38" width="7.67" height="7.98" fill="#1189d3" shape-rendering="crispEdges"/><rect x="400.65" y="346.38" width="7.67" height="7.98" fill="#0a9acd" shape-rendering="crispEdges"/><rect x="407.32" y="346.38" width="7.67" height="7.98" fill="#0d92d0" shape-rendering="crispEdges"/><rect x="414.00" y="346.38" width="7.67" height="7.98" fill="#108ad3" shape-rendering="crispEdges"/><rect x="420.67" y="346.38" width="7.67" height="7.98" fill="#099bcd" shape-rendering="crispEdges"/><rect x="427.34" y="346.38" width="7.67" height="7.98" fill="#0a9bcd" shape-rendering="crispEdges"/><rect x="434.02" y="346.38" width="7.67" height="7.98" fill="#108ad3" shape-rendering="crispEdges"/><rect x="440.69" y="346.38" width="7.67" height="7.98" fill="#0e90d1" shape-rendering="crispEdges"/><rect x="447.37" y="346.38" width="7.67" height="7.98" fill="#108bd3" shape-rendering="crispEdges"/><rect x="454.04" y="346.38" width="7.67" height="7.98" fill="#0f8ed1" shape-rendering="crispEdges"/><rect x="460.71" y="346.38" width="7.67" height="7.98" fill="#0c94cf" shape-rendering="crispEdges"/><rect x="467.39" y="346.38" width="7.67" height="7.98" fill="#108bd3" shape-rendering="crispEdges"/><rect x="474.06" y="346.38" width="7.67" height="7.98" fill="#0d93d0" shape-rendering="crispEdges"/><rect x="480.73" y="346.38" width="7.67" height="7.98" fill="#1273d9" shape-rendering="crispEdges"/><rect x="487.41" y="346.38" width="7.67" height="7.98" fill="#2046b7" shape-rendering="crispEdges"/><rect x="494.08" y="346.38" width="7.67" height="7.98" fill="#2c369c" shape-rendering="crispEdges"/><rect x="500.76" y="346.38" width="7.67" height="7.98" fill="#1850c9" shape-rendering="crispEdges"/><rect x="507.43" y="346.38" width="7.67" height="7.98" fill="#147fd6" shape-rendering="crispEdges"/><rect x="514.10" y="346.38" width="7.67" height="7.98" fill="#0d92d0" shape-rendering="crispEdges"/><rect x="520.78" y="346.38" width="7.67" height="7.98" fill="#0d91d0" shape-rendering="crispEdges"/><rect x="527.45" y="346.38" width="7.67" height="7.98" fill="#0e90d1" shape-rendering="crispEdges"/><rect x="534.13" y="346.38" width="7.67" height="7.98" fill="#1189d3" shape-rendering="crispEdges"/><rect x="540.80" y="346.38" width="7.67" height="7.98" fill="#1189d3" shape-rendering="crispEdges"/><rect x="380.63" y="353.37" width="7.67" height="7.98" fill="#0c95cf" shape-rendering="crispEdges"/><rect x="387.30" y="353.37" width="7.67" height="7.98" fill="#0c95cf" shape-rendering="crispEdges"/><rect x="393.97" y="353.37" width="7.67" height="7.98" fill="#0a99ce" shape-rendering="crispEdges"/><rect x="400.65" y="353.37" width="7.67" height="7.98" fill="#0a99ce" shape-rendering="crispEdges"/><rect x="407.32" y="353.37" width="7.67" height="7.98" fill="#0d93d0" shape-rendering="crispEdges"/><rect x="414.00" y="353.37" width="7.67" height="7.98" fill="#0f8dd2" shape-rendering="crispEdges"/><rect x="420.67" y="353.37" width="7.67" height="7.98" fill="#0f8dd2" shape-rendering="crispEdges"/><rect x="427.34" y="353.37" width="7.67" height="7.98" fill="#0d94d0" shape-rendering="crispEdges"/><rect x="434.02" y="353.37" width="7.67" height="7.98" fill="#0d93d0" shape-rendering="crispEdges"/><rect x="440.69" y="353.37" width="7.67" height="7.98" fill="#1188d4" shape-rendering="crispEdges"/><rect x="447.37" y="353.37" width="7.67" height="7.98" fill="#108ad3" shape-rendering="crispEdges"/><rect x="454.04" y="353.37" width="7.67" height="7.98" fill="#108cd2" shape-rendering="crispEdges"/><rect x="460.71" y="353.37" width="7.67" height="7.98" fill="#0f8ed1" shape-rendering="crispEdges"/><rect x="467.39" y="353.37" width="7.67" height="7.98" fill="#0d94d0" shape-rendering="crispEdges"/><rect x="474.06" y="353.37" width="7.67" height="7.98" fill="#108bd2" shape-rendering="crispEdges"/><rect x="480.73" y="353.37" width="7.67" height="7.98" fill="#1274d8" shape-rendering="crispEdges"/><rect x="487.41" y="353.37" width="7.67" height="7.98" fill="#0f5cdd" shape-rendering="crispEdges"/><rect x="494.08" y="353.37" width="7.67" height="7.98" fill="#1a4ec5" shape-rendering="crispEdges"/><rect x="500.76" y="353.37" width="7.67" height="7.98" fill="#1060dc" shape-rendering="crispEdges"/><rect x="507.43" y="353.37" width="7.67" height="7.98" fill="#137bd7" shape-rendering="crispEdges"/><rect x="514.10" y="353.37" width="7.67" height="7.98" fill="#108bd3" shape-rendering="crispEdges"/><rect x="520.78" y="353.37" width="7.67" height="7.98" fill="#108bd2" shape-rendering="crispEdges"/><rect x="527.45" y="353.37" width="7.67" height="7.98" fill="#0d94d0" shape-rendering="crispEdges"/><rect x="534.13" y="353.37" width="7.67" height="7.98" fill="#1287d4" shape-rendering="crispEdges"/><rect x="540.80" y="353.37" width="7.67" height="7.98" fill="#1287d4" shape-rendering="crispEdges"/><rect x="380.63" y="360.35" width="7.67" height="7.98" fill="#0f8ed2" shape-rendering="crispEdges"/><rect x="387.30" y="360.35" width="7.67" height="7.98" fill="#0f8ed2" shape-rendering="crispEdges"/><rect x="393.97" y="360.35" width="7.67" height="7.98" fill="#1286d4" shape-rendering="crispEdges"/><rect x="400.65" y="360.35" width="7.67" height="7.98" fill="#0e91d1" shape-rendering="crispEdges"/><rect x="407.32" y="360.35" width="7.67" height="7.98" fill="#1384d5" shape-rendering="crispEdges"/><rect x="414.00" y="360.35" width="7.67" height="7.98" fill="#1188d4" shape-rendering="crispEdges"/><rect x="420.67" y="360.35" width="7.67" height="7.98" fill="#1189d3" shape-rendering="crispEdges"/><rect x="427.34" y="360.35" width="7.67" height="7.98" fill="#0f8fd1" shape-rendering="crispEdges"/><rect x="434.02" y="360.35" width="7.67" height="7.98" fill="#1383d5" shape-rendering="crispEdges"/><rect x="440.69" y="360.35" width="7.67" height="7.98" fill="#108ad3" shape-rendering="crispEdges"/><rect x="447.37" y="360.35" width="7.67" height="7.98" fill="#1384d5" shape-rendering="crispEdges"/><rect x="454.04" y="360.35" width="7.67" height="7.98" fill="#1384d5" shape-rendering="crispEdges"/><rect x="460.71" y="360.35" width="7.67" height="7.98" fill="#1286d4" shape-rendering="crispEdges"/><rect x="467.39" y="360.35" width="7.67" height="7.98" fill="#0f8ed2" shape-rendering="crispEdges"/><rect x="474.06" y="360.35" width="7.67" height="7.98" fill="#1382d6" shape-rendering="crispEdges"/><rect x="480.73" y="360.35" width="7.67" height="7.98" fill="#147ed7" shape-rendering="crispEdges"/><rect x="487.41" y="360.35" width="7.67" height="7.98" fill="#116bda" shape-rendering="crispEdges"/><rect x="494.08" y="360.35" width="7.67" height="7.98" fill="#1169da" shape-rendering="crispEdges"/><rect x="500.76" y="360.35" width="7.67" height="7.98" fill="#116dda" shape-rendering="crispEdges"/><rect x="507.43" y="360.35" width="7.67" height="7.98" fill="#1377d8" shape-rendering="crispEdges"/><rect x="514.10" y="360.35" width="7.67" height="7.98" fill="#1188d4" shape-rendering="crispEdges"/><rect x="520.78" y="360.35" width="7.67" height="7.98" fill="#0f8ed2" shape-rendering="crispEdges"/><rect x="527.45" y="360.35" width="7.67" height="7.98" fill="#137dd7" shape-rendering="crispEdges"/><rect x="534.13" y="360.35" width="7.67" height="7.98" fill="#1384d5" shape-rendering="crispEdges"/><rect x="540.80" y="360.35" width="7.67" height="7.98" fill="#1384d5" shape-rendering="crispEdges"/><rect x="380.63" y="367.33" width="7.67" height="7.98" fill="#0b97ce" shape-rendering="crispEdges"/><rect x="387.30" y="367.33" width="7.67" height="7.98" fill="#0b97ce" shape-rendering="crispEdges"/><rect x="393.97" y="367.33" width="7.67" height="7.98" fill="#0f8fd1" shape-rendering="crispEdges"/><rect x="400.65" y="367.33" width="7.67" height="7.98" fill="#0f8dd2" shape-rendering="crispEdges"/><rect x="407.32" y="367.33" width="7.67" height="7.98" fill="#1188d4" shape-rendering="crispEdges"/><rect x="414.00" y="367.33" width="7.67" height="7.98" fill="#1189d3" shape-rendering="crispEdges"/><rect x="420.67" y="367.33" width="7.67" height="7.98" fill="#0c94cf" shape-rendering="crispEdges"/><rect x="427.34" y="367.33" width="7.67" height="7.98" fill="#099bcd" shape-rendering="crispEdges"/><rect x="434.02" y="367.33" width="7.67" height="7.98" fill="#099ccd" shape-rendering="crispEdges"/><rect x="440.69" y="367.33" width="7.67" height="7.98" fill="#0d92d0" shape-rendering="crispEdges"/><rect x="447.37" y="367.33" width="7.67" height="7.98" fill="#1188d3" shape-rendering="crispEdges"/><rect x="454.04" y="367.33" width="7.67" height="7.98" fill="#0f8ed1" shape-rendering="crispEdges"/><rect x="460.71" y="367.33" width="7.67" height="7.98" fill="#0b97ce" shape-rendering="crispEdges"/><rect x="467.39" y="367.33" width="7.67" height="7.98" fill="#0b98ce" shape-rendering="crispEdges"/><rect x="474.06" y="367.33" width="7.67" height="7.98" fill="#0c95cf" shape-rendering="crispEdges"/><rect x="480.73" y="367.33" width="7.67" height="7.98" fill="#089ecc" shape-rendering="crispEdges"/><rect x="487.41" y="367.33" width="7.67" height="7.98" fill="#1baeb6" shape-rendering="crispEdges"/><rect x="494.08" y="367.33" width="7.67" height="7.98" fill="#1eafb3" shape-rendering="crispEdges"/><rect x="500.76" y="367.33" width="7.67" height="7.98" fill="#19adb8" shape-rendering="crispEdges"/><rect x="507.43" y="367.33" width="7.67" height="7.98" fill="#0a9bcd" shape-rendering="crispEdges"/><rect x="514.10" y="367.33" width="7.67" height="7.98" fill="#0a9bcd" shape-rendering="crispEdges"/><rect x="520.78" y="367.33" width="7.67" height="7.98" fill="#0a9ace" shape-rendering="crispEdges"/><rect x="527.45" y="367.33" width="7.67" height="7.98" fill="#108bd3" shape-rendering="crispEdges"/><rect x="534.13" y="367.33" width="7.67" height="7.98" fill="#0f8ed2" shape-rendering="crispEdges"/><rect x="540.80" y="367.33" width="7.67" height="7.98" fill="#0f8ed2" shape-rendering="crispEdges"/><rect x="380.63" y="374.32" width="7.67" height="7.98" fill="#0a99ce" shape-rendering="crispEdges"/><rect x="387.30" y="374.32" width="7.67" height="7.98" fill="#0a99ce" shape-rendering="crispEdges"/><rect x="393.97" y="374.32" width="7.67" height="7.98" fill="#0f8dd2" shape-rendering="crispEdges"/><rect x="400.65" y="374.32" width="7.67" height="7.98" fill="#0a9bcd" shape-rendering="crispEdges"/><rect x="407.32" y="374.32" width="7.67" height="7.98" fill="#0d92d0" shape-rendering="crispEdges"/><rect x="414.00" y="374.32" width="7.67" height="7.98" fill="#0c96cf" shape-rendering="crispEdges"/><rect x="420.67" y="374.32" width="7.67" height="7.98" fill="#0c96cf" shape-rendering="crispEdges"/><rect x="427.34" y="374.32" width="7.67" height="7.98" fill="#108cd2" shape-rendering="crispEdges"/><rect x="434.02" y="374.32" width="7.67" height="7.98" fill="#0f8ed2" shape-rendering="crispEdges"/><rect x="440.69" y="374.32" width="7.67" height="7.98" fill="#0f8dd2" shape-rendering="crispEdges"/><rect x="447.37" y="374.32" width="7.67" height="7.98" fill="#0c95cf" shape-rendering="crispEdges"/><rect x="454.04" y="374.32" width="7.67" height="7.98" fill="#0c96cf" shape-rendering="crispEdges"/><rect x="460.71" y="374.32" width="7.67" height="7.98" fill="#108bd3" shape-rendering="crispEdges"/><rect x="467.39" y="374.32" width="7.67" height="7.98" fill="#0a99ce" shape-rendering="crispEdges"/><rect x="474.06" y="374.32" width="7.67" height="7.98" fill="#0d93d0" shape-rendering="crispEdges"/><rect x="480.73" y="374.32" width="7.67" height="7.98" fill="#2cb6a5" shape-rendering="crispEdges"/><rect x="487.41" y="374.32" width="7.67" height="7.98" fill="#dabe51" shape-rendering="crispEdges"/><rect x="494.08" y="374.32" width="7.67" height="7.98" fill="#e7c146" shape-rendering="crispEdges"/><rect x="500.76" y="374.32" width="7.67" height="7.98" fill="#d3bc57" shape-rendering="crispEdges"/><rect x="507.43" y="374.32" width="7.67" height="7.98" fill="#25b3ad" shape-rendering="crispEdges"/><rect x="514.10" y="374.32" width="7.67" height="7.98" fill="#099bcd" shape-rendering="crispEdges"/><rect x="520.78" y="374.32" width="7.67" height="7.98" fill="#0a9bcd" shape-rendering="crispEdges"/><rect x="527.45" y="374.32" width="7.67" height="7.98" fill="#0b97ce" shape-rendering="crispEdges"/><rect x="534.13" y="374.32" width="7.67" height="7.98" fill="#0e90d1" shape-rendering="crispEdges"/><rect x="540.80" y="374.32" width="7.67" height="7.98" fill="#0e90d1" shape-rendering="crispEdges"/><rect x="380.63" y="381.30" width="7.67" height="7.98" fill="#0d94d0" shape-rendering="crispEdges"/><rect x="387.30" y="381.30" width="7.67" height="7.98" fill="#0d94d0" shape-rendering="crispEdges"/><rect x="393.97" y="381.30" width="7.67" height="7.98" fill="#0a9ace" shape-rendering="crispEdges"/><rect x="400.65" y="381.30" width="7.67" height="7.98" fill="#0b97ce" shape-rendering="crispEdges"/><rect x="407.32" y="381.30" width="7.67" height="7.98" fill="#0d93d0" shape-rendering="crispEdges"/><rect x="414.00" y="381.30" width="7.67" height="7.98" fill="#0e8fd1" shape-rendering="crispEdges"/><rect x="420.67" y="381.30" width="7.67" height="7.98" fill="#0e8fd1" shape-rendering="crispEdges"/><rect x="427.34" y="381.30" width="7.67" height="7.98" fill="#0b96cf" shape-rendering="crispEdges"/><rect x="434.02" y="381.30" width="7.67" height="7.98" fill="#0d93d0" shape-rendering="crispEdges"/><rect x="440.69" y="381.30" width="7.67" height="7.98" fill="#1188d3" shape-rendering="crispEdges"/><rect x="447.37" y="381.30" width="7.67" height="7.98" fill="#0c96cf" shape-rendering="crispEdges"/><rect x="454.04" y="381.30" width="7.67" height="7.98" fill="#0a9ace" shape-rendering="crispEdges"/><rect x="460.71" y="381.30" width="7.67" height="7.98" fill="#0b98ce" shape-rendering="crispEdges"/><rect x="467.39" y="381.30" width="7.67" height="7.98" fill="#0a9ace" shape-rendering="crispEdges"/><rect x="474.06" y="381.30" width="7.67" height="7.98" fill="#099dcc" shape-rendering="crispEdges"/><rect x="480.73" y="381.30" width="7.67" height="7.98" fill="#60bc8b" shape-rendering="crispEdges"/><rect x="487.41" y="381.30" width="7.67" height="7.98" fill="#fcdc24" shape-rendering="crispEdges"/><rect x="494.08" y="381.30" width="7.67" height="7.98" fill="#faef17" shape-rendering="crispEdges"/><rect x="500.76" y="381.30" width="7.67" height="7.98" fill="#fdd02c" shape-rendering="crispEdges"/><rect x="507.43" y="381.30" width="7.67" height="7.98" fill="#34b8a1" shape-rendering="crispEdges"/><rect x="514.10" y="381.30" width="7.67" height="7.98" fill="#0e90d1" shape-rendering="crispEdges"/><rect x="520.78" y="381.30" width="7.67" height="7.98" fill="#0a9acd" shape-rendering="crispEdges"/><rect x="527.45" y="381.30" width="7.67" height="7.98" fill="#0c96cf" shape-rendering="crispEdges"/><rect x="534.13" y="381.30" width="7.67" height="7.98" fill="#0d93d0" shape-rendering="crispEdges"/><rect x="540.80" y="381.30" width="7.67" height="7.98" fill="#0d93d0" shape-rendering="crispEdges"/><rect x="380.63" y="388.28" width="7.67" height="7.98" fill="#0c94cf" shape-rendering="crispEdges"/><rect x="387.30" y="388.28" width="7.67" height="7.98" fill="#0c94cf" shape-rendering="crispEdges"/><rect x="393.97" y="388.28" width="7.67" height="7.98" fill="#108ad3" shape-rendering="crispEdges"/><rect x="400.65" y="388.28" width="7.67" height="7.98" fill="#0d92d0" shape-rendering="crispEdges"/><rect x="407.32" y="388.28" width="7.67" height="7.98" fill="#0c96cf" shape-rendering="crispEdges"/><rect x="414.00" y="388.28" width="7.67" height="7.98" fill="#0e90d1" shape-rendering="crispEdges"/><rect x="420.67" y="388.28" width="7.67" height="7.98" fill="#0f8dd2" shape-rendering="crispEdges"/><rect x="427.34" y="388.28" width="7.67" height="7.98" fill="#0e90d1" shape-rendering="crispEdges"/><rect x="434.02" y="388.28" width="7.67" height="7.98" fill="#0f8ed1" shape-rendering="crispEdges"/><rect x="440.69" y="388.28" width="7.67" height="7.98" fill="#0c95cf" shape-rendering="crispEdges"/><rect x="447.37" y="388.28" width="7.67" height="7.98" fill="#108bd3" shape-rendering="crispEdges"/><rect x="454.04" y="388.28" width="7.67" height="7.98" fill="#108ad3" shape-rendering="crispEdges"/><rect x="460.71" y="388.28" width="7.67" height="7.98" fill="#0f8ed2" shape-rendering="crispEdges"/><rect x="467.39" y="388.28" width="7.67" height="7.98" fill="#0c96cf" shape-rendering="crispEdges"/><rect x="474.06" y="388.28" width="7.67" height="7.98" fill="#0b99ce" shape-rendering="crispEdges"/><rect x="480.73" y="388.28" width="7.67" height="7.98" fill="#1fb0b2" shape-rendering="crispEdges"/><rect x="487.41" y="388.28" width="7.67" height="7.98" fill="#8ebf74" shape-rendering="crispEdges"/><rect x="494.08" y="388.28" width="7.67" height="7.98" fill="#9cbe6f" shape-rendering="crispEdges"/><rect x="500.76" y="388.28" width="7.67" height="7.98" fill="#82bf79" shape-rendering="crispEdges"/><rect x="507.43" y="388.28" width="7.67" height="7.98" fill="#14abbd" shape-rendering="crispEdges"/><rect x="514.10" y="388.28" width="7.67" height="7.98" fill="#0d92d0" shape-rendering="crispEdges"/><rect x="520.78" y="388.28" width="7.67" height="7.98" fill="#108cd2" shape-rendering="crispEdges"/><rect x="527.45" y="388.28" width="7.67" height="7.98" fill="#0c95cf" shape-rendering="crispEdges"/><rect x="534.13" y="388.28" width="7.67" height="7.98" fill="#0f8fd1" shape-rendering="crispEdges"/><rect x="540.80" y="388.28" width="7.67" height="7.98" fill="#0f8fd1" shape-rendering="crispEdges"/><rect x="380.63" y="395.27" width="7.67" height="7.98" fill="#0f8dd2" shape-rendering="crispEdges"/><rect x="387.30" y="395.27" width="7.67" height="7.98" fill="#0f8dd2" shape-rendering="crispEdges"/><rect x="393.97" y="395.27" width="7.67" height="7.98" fill="#0f8ed1" shape-rendering="crispEdges"/><rect x="400.65" y="395.27" width="7.67" height="7.98" fill="#0a9acd" shape-rendering="crispEdges"/><rect x="407.32" y="395.27" width="7.67" height="7.98" fill="#1188d4" shape-rendering="crispEdges"/><rect x="414.00" y="395.27" width="7.67" height="7.98" fill="#0e8fd1" shape-rendering="crispEdges"/><rect x="420.67" y="395.27" width="7.67" height="7.98" fill="#0f8dd2" shape-rendering="crispEdges"/><rect x="427.34" y="395.27" width="7.67" height="7.98" fill="#108cd2" shape-rendering="crispEdges"/><rect x="434.02" y="395.27" width="7.67" height="7.98" fill="#0e90d1" shape-rendering="crispEdges"/><rect x="440.69" y="395.27" width="7.67" height="7.98" fill="#0f8cd2" shape-rendering="crispEdges"/><rect x="447.37" y="395.27" width="7.67" height="7.98" fill="#0a9acd" shape-rendering="crispEdges"/><rect x="454.04" y="395.27" width="7.67" height="7.98" fill="#0d92d0" shape-rendering="crispEdges"/><rect x="460.71" y="395.27" width="7.67" height="7.98" fill="#0c96cf" shape-rendering="crispEdges"/><rect x="467.39" y="395.27" width="7.67" height="7.98" fill="#108bd3" shape-rendering="crispEdges"/><rect x="474.06" y="395.27" width="7.67" height="7.98" fill="#0d91d0" shape-rendering="crispEdges"/><rect x="480.73" y="395.27" width="7.67" height="7.98" fill="#0b99ce" shape-rendering="crispEdges"/><rect x="487.41" y="395.27" width="7.67" height="7.98" fill="#089fcc" shape-rendering="crispEdges"/><rect x="494.08" y="395.27" width="7.67" height="7.98" fill="#08a0cb" shape-rendering="crispEdges"/><rect x="500.76" y="395.27" width="7.67" height="7.98" fill="#089ecc" shape-rendering="crispEdges"/><rect x="507.43" y="395.27" width="7.67" height="7.98" fill="#0a9bcd" shape-rendering="crispEdges"/><rect x="514.10" y="395.27" width="7.67" height="7.98" fill="#0b98ce" shape-rendering="crispEdges"/><rect x="520.78" y="395.27" width="7.67" height="7.98" fill="#0f8cd2" shape-rendering="crispEdges"/><rect x="527.45" y="395.27" width="7.67" height="7.98" fill="#0d93d0" shape-rendering="crispEdges"/><rect x="534.13" y="395.27" width="7.67" height="7.98" fill="#0b97ce" shape-rendering="crispEdges"/><rect x="540.80" y="395.27" width="7.67" height="7.98" fill="#0b97ce" shape-rendering="crispEdges"/><rect x="380.63" y="402.25" width="7.67" height="7.98" fill="#108cd2" shape-rendering="crispEdges"/><rect x="387.30" y="402.25" width="7.67" height="7.98" fill="#108cd2" shape-rendering="crispEdges"/><rect x="393.97" y="402.25" width="7.67" height="7.98" fill="#0e91d1" shape-rendering="crispEdges"/><rect x="400.65" y="402.25" width="7.67" height="7.98" fill="#0e91d1" shape-rendering="crispEdges"/><rect x="407.32" y="402.25" width="7.67" height="7.98" fill="#0b97cf" shape-rendering="crispEdges"/><rect x="414.00" y="402.25" width="7.67" height="7.98" fill="#0f8ed1" shape-rendering="crispEdges"/><rect x="420.67" y="402.25" width="7.67" height="7.98" fill="#0e91d1" shape-rendering="crispEdges"/><rect x="427.34" y="402.25" width="7.67" height="7.98" fill="#108ad3" shape-rendering="crispEdges"/><rect x="434.02" y="402.25" width="7.67" height="7.98" fill="#0e91d0" shape-rendering="crispEdges"/><rect x="440.69" y="402.25" width="7.67" height="7.98" fill="#1188d3" shape-rendering="crispEdges"/><rect x="447.37" y="402.25" width="7.67" height="7.98" fill="#108bd3" shape-rendering="crispEdges"/><rect x="454.04" y="402.25" width="7.67" height="7.98" fill="#1287d4" shape-rendering="crispEdges"/><rect x="460.71" y="402.25" width="7.67" height="7.98" fill="#1285d5" shape-rendering="crispEdges"/><rect x="467.39" y="402.25" width="7.67" height="7.98" fill="#1480d6" shape-rendering="crispEdges"/><rect x="474.06" y="402.25" width="7.67" height="7.98" fill="#147fd6" shape-rendering="crispEdges"/><rect x="480.73" y="402.25" width="7.67" height="7.98" fill="#1378d8" shape-rendering="crispEdges"/><rect x="487.41" y="402.25" width="7.67" height="7.98" fill="#1066db" shape-rendering="crispEdges"/><rect x="494.08" y="402.25" width="7.67" height="7.98" fill="#1063dc" shape-rendering="crispEdges"/><rect x="500.76" y="402.25" width="7.67" height="7.98" fill="#116ada" shape-rendering="crispEdges"/><rect x="507.43" y="402.25" width="7.67" height="7.98" fill="#1378d8" shape-rendering="crispEdges"/><rect x="514.10" y="402.25" width="7.67" height="7.98" fill="#0f8ed2" shape-rendering="crispEdges"/><rect x="520.78" y="402.25" width="7.67" height="7.98" fill="#1189d3" shape-rendering="crispEdges"/><rect x="527.45" y="402.25" width="7.67" height="7.98" fill="#1287d4" shape-rendering="crispEdges"/><rect x="534.13" y="402.25" width="7.67" height="7.98" fill="#0d91d0" shape-rendering="crispEdges"/><rect x="540.80" y="402.25" width="7.67" height="7.98" fill="#0d91d0" shape-rendering="crispEdges"/><rect x="380.63" y="409.23" width="7.67" height="7.98" fill="#0b98ce" shape-rendering="crispEdges"/><rect x="387.30" y="409.23" width="7.67" height="7.98" fill="#0b98ce" shape-rendering="crispEdges"/><rect x="393.97" y="409.23" width="7.67" height="7.98" fill="#0f8dd2" shape-rendering="crispEdges"/><rect x="400.65" y="409.23" width="7.67" height="7.98" fill="#1189d3" shape-rendering="crispEdges"/><rect x="407.32" y="409.23" width="7.67" height="7.98" fill="#0d93d0" shape-rendering="crispEdges"/><rect x="414.00" y="409.23" width="7.67" height="7.98" fill="#0b97cf" shape-rendering="crispEdges"/><rect x="420.67" y="409.23" width="7.67" height="7.98" fill="#0d92d0" shape-rendering="crispEdges"/><rect x="427.34" y="409.23" width="7.67" height="7.98" fill="#0c95cf" shape-rendering="crispEdges"/><rect x="434.02" y="409.23" width="7.67" height="7.98" fill="#0f8ed2" shape-rendering="crispEdges"/><rect x="440.69" y="409.23" width="7.67" height="7.98" fill="#0d92d0" shape-rendering="crispEdges"/><rect x="447.37" y="409.23" width="7.67" height="7.98" fill="#108ad3" shape-rendering="crispEdges"/><rect x="454.04" y="409.23" width="7.67" height="7.98" fill="#0f8dd2" shape-rendering="crispEdges"/><rect x="460.71" y="409.23" width="7.67" height="7.98" fill="#108cd2" shape-rendering="crispEdges"/><rect x="467.39" y="409.23" width="7.67" height="7.98" fill="#108bd2" shape-rendering="crispEdges"/><rect x="474.06" y="409.23" width="7.67" height="7.98" fill="#1189d3" shape-rendering="crispEdges"/><rect x="480.73" y="409.23" width="7.67" height="7.98" fill="#137cd7" shape-rendering="crispEdges"/><rect x="487.41" y="409.23" width="7.67" height="7.98" fill="#194fc6" shape-rendering="crispEdges"/><rect x="494.08" y="409.23" width="7.67" height="7.98" fill="#2342b0" shape-rendering="crispEdges"/><rect x="500.76" y="409.23" width="7.67" height="7.98" fill="#1356d3" shape-rendering="crispEdges"/><rect x="507.43" y="409.23" width="7.67" height="7.98" fill="#1285d5" shape-rendering="crispEdges"/><rect x="514.10" y="409.23" width="7.67" height="7.98" fill="#0f8cd2" shape-rendering="crispEdges"/><rect x="520.78" y="409.23" width="7.67" height="7.98" fill="#1285d5" shape-rendering="crispEdges"/><rect x="527.45" y="409.23" width="7.67" height="7.98" fill="#0c95cf" shape-rendering="crispEdges"/><rect x="534.13" y="409.23" width="7.67" height="7.98" fill="#0c96cf" shape-rendering="crispEdges"/><rect x="540.80" y="409.23" width="7.67" height="7.98" fill="#0c96cf" shape-rendering="crispEdges"/><rect x="380.63" y="416.22" width="7.67" height="7.98" fill="#0b98ce" shape-rendering="crispEdges"/><rect x="387.30" y="416.22" width="7.67" height="7.98" fill="#0b98ce" shape-rendering="crispEdges"/><rect x="393.97" y="416.22" width="7.67" height="7.98" fill="#0e8fd1" shape-rendering="crispEdges"/><rect x="400.65" y="416.22" width="7.67" height="7.98" fill="#0b96cf" shape-rendering="crispEdges"/><rect x="407.32" y="416.22" width="7.67" height="7.98" fill="#0f8ed2" shape-rendering="crispEdges"/><rect x="414.00" y="416.22" width="7.67" height="7.98" fill="#108bd3" shape-rendering="crispEdges"/><rect x="420.67" y="416.22" width="7.67" height="7.98" fill="#0a99ce" shape-rendering="crispEdges"/><rect x="427.34" y="416.22" width="7.67" height="7.98" fill="#0b98ce" shape-rendering="crispEdges"/><rect x="434.02" y="416.22" width="7.67" height="7.98" fill="#108cd2" shape-rendering="crispEdges"/><rect x="440.69" y="416.22" width="7.67" height="7.98" fill="#0a99ce" shape-rendering="crispEdges"/><rect x="447.37" y="416.22" width="7.67" height="7.98" fill="#1188d3" shape-rendering="crispEdges"/><rect x="454.04" y="416.22" width="7.67" height="7.98" fill="#0f8ed2" shape-rendering="crispEdges"/><rect x="460.71" y="416.22" width="7.67" height="7.98" fill="#1188d4" shape-rendering="crispEdges"/><rect x="467.39" y="416.22" width="7.67" height="7.98" fill="#108bd2" shape-rendering="crispEdges"/><rect x="474.06" y="416.22" width="7.67" height="7.98" fill="#1189d3" shape-rendering="crispEdges"/><rect x="480.73" y="416.22" width="7.67" height="7.98" fill="#137ad7" shape-rendering="crispEdges"/><rect x="487.41" y="416.22" width="7.67" height="7.98" fill="#2440ac" shape-rendering="crispEdges"/><rect x="494.08" y="416.22" width="7.67" height="7.98" fill="#322e8e" shape-rendering="crispEdges"/><rect x="500.76" y="416.22" width="7.67" height="7.98" fill="#1e49bc" shape-rendering="crispEdges"/><rect x="507.43" y="416.22" width="7.67" height="7.98" fill="#137cd7" shape-rendering="crispEdges"/><rect x="514.10" y="416.22" width="7.67" height="7.98" fill="#0b97ce" shape-rendering="crispEdges"/><rect x="520.78" y="416.22" width="7.67" height="7.98" fill="#0c94d0" shape-rendering="crispEdges"/><rect x="527.45" y="416.22" width="7.67" height="7.98" fill="#108ad3" shape-rendering="crispEdges"/><rect x="534.13" y="416.22" width="7.67" height="7.98" fill="#0c95cf" shape-rendering="crispEdges"/><rect x="540.80" y="416.22" width="7.67" height="7.98" fill="#0c95cf" shape-rendering="crispEdges"/><rect x="380.63" y="423.20" width="7.67" height="7.98" fill="#0b98ce" shape-rendering="crispEdges"/><rect x="387.30" y="423.20" width="7.67" height="7.98" fill="#0b98ce" shape-rendering="crispEdges"/><rect x="393.97" y="423.20" width="7.67" height="7.98" fill="#0e8fd1" shape-rendering="crispEdges"/><rect x="400.65" y="423.20" width="7.67" height="7.98" fill="#0b96cf" shape-rendering="crispEdges"/><rect x="407.32" y="423.20" width="7.67" height="7.98" fill="#0f8ed2" shape-rendering="crispEdges"/><rect x="414.00" y="423.20" width="7.67" height="7.98" fill="#108bd3" shape-rendering="crispEdges"/><rect x="420.67" y="423.20" width="7.67" height="7.98" fill="#0a99ce" shape-rendering="crispEdges"/><rect x="427.34" y="423.20" width="7.67" height="7.98" fill="#0b98ce" shape-rendering="crispEdges"/><rect x="434.02" y="423.20" width="7.67" height="7.98" fill="#108cd2" shape-rendering="crispEdges"/><rect x="440.69" y="423.20" width="7.67" height="7.98" fill="#0a99ce" shape-rendering="crispEdges"/><rect x="447.37" y="423.20" width="7.67" height="7.98" fill="#1188d3" shape-rendering="crispEdges"/><rect x="454.04" y="423.20" width="7.67" height="7.98" fill="#0f8ed2" shape-rendering="crispEdges"/><rect x="460.71" y="423.20" width="7.67" height="7.98" fill="#1188d4" shape-rendering="crispEdges"/><rect x="467.39" y="423.20" width="7.67" height="7.98" fill="#108bd2" shape-rendering="crispEdges"/><rect x="474.06" y="423.20" width="7.67" height="7.98" fill="#1189d3" shape-rendering="crispEdges"/><rect x="480.73" y="423.20" width="7.67" height="7.98" fill="#137ad7" shape-rendering="crispEdges"/><rect x="487.41" y="423.20" width="7.67" height="7.98" fill="#2440ac" shape-rendering="crispEdges"/><rect x="494.08" y="423.20" width="7.67" height="7.98" fill="#322e8e" shape-rendering="crispEdges"/><rect x="500.76" y="423.20" width="7.67" height="7.98" fill="#1e49bc" shape-rendering="crispEdges"/><rect x="507.43" y="423.20" width="7.67" height="7.98" fill="#137cd7" shape-rendering="crispEdges"/><rect x="514.10" y="423.20" width="7.67" height="7.98" fill="#0b97ce" shape-rendering="crispEdges"/><rect x="520.78" y="423.20" width="7.67" height="7.98" fill="#0c94d0" shape-rendering="crispEdges"/><rect x="527.45" y="423.20" width="7.67" height="7.98" fill="#108ad3" shape-rendering="crispEdges"/><rect x="534.13" y="423.20" width="7.67" height="7.98" fill="#0c95cf" shape-rendering="crispEdges"/><rect x="540.80" y="423.20" width="7.67" height="7.98" fill="#0c95cf" shape-rendering="crispEdges"/></g></g>
<text x="391.00" y="352.20" font-size="11" text-anchor="start" font-weight="normal" fill="#fff" >Late</text>
<polyline points="550.3,340.4 545.6,340.4 545.6,422.2 550.3,422.2" fill="none" stroke="#333" stroke-width="1"/>
<text transform="translate(567.30,336.70) rotate(-90)" x="0" y="0" font-size="13" text-anchor="middle" fill="#000">90°</text>
<text transform="translate(567.30,424.90) rotate(-90)" x="0" y="0" font-size="13" text-anchor="middle" fill="#000">−90°</text>
<text transform="translate(586.00,384.40) rotate(-90)" x="0" y="0" font-size="13" text-anchor="middle" fill="#000">Orientation (°)</text>
<polyline points="500.5,433 500.5,428.5 540.5,428.5 540.5,433.5" fill="none" stroke="#222" stroke-width="1"/>
<text x="502.50" y="447.70" font-size="13" text-anchor="start" font-weight="normal" fill="#000" >40 ms</text>
<text x="-0.50" y="478.70" font-size="16" text-anchor="start" font-weight="bold" fill="#000" >d</text>
<line x1="59.50" y1="487.10" x2="59.50" y2="635.10" stroke="#222" stroke-width="1"/>
<line x1="55.30" y1="635.00" x2="204.50" y2="635.00" stroke="#808080" stroke-width="1.4"/>
<line x1="55.50" y1="487.10" x2="59.50" y2="487.10" stroke="#222" stroke-width="1"/>
<line x1="55.50" y1="560.85" x2="59.50" y2="560.85" stroke="#222" stroke-width="1"/>
<line x1="59.50" y1="634.60" x2="59.50" y2="638.60" stroke="#222" stroke-width="1"/>
<line x1="131.75" y1="634.60" x2="131.75" y2="638.60" stroke="#555" stroke-width="1"/>
<line x1="204.00" y1="634.60" x2="204.00" y2="638.60" stroke="#555" stroke-width="1"/>
<text x="51.50" y="492.00" font-size="13" text-anchor="end" font-weight="normal" fill="#000" >0.3</text>
<text x="51.50" y="565.75" font-size="13" text-anchor="end" font-weight="normal" fill="#000" >0.15</text>
<text x="51.50" y="639.50" font-size="13" text-anchor="end" font-weight="normal" fill="#000" >0</text>
<text x="59.50" y="656.30" font-size="13" text-anchor="middle" font-weight="normal" fill="#000" >−0.1</text>
<text x="131.75" y="656.30" font-size="13" text-anchor="middle" font-weight="normal" fill="#000" >0</text>
<text x="204.00" y="656.30" font-size="13" text-anchor="middle" font-weight="normal" fill="#000" >0.1</text>
<line x1="131.60" y1="487.10" x2="131.60" y2="634.60" stroke="#777" stroke-width="0.9" stroke-dasharray="1,2.4"/>
<polyline points="59.60,634.60 82.90,634.60 82.90,624.40 90.60,624.40 90.60,604.10 98.10,604.10 98.10,584.00 105.60,584.00 105.60,563.80 113.00,563.80 113.00,543.50 120.50,543.50 120.50,513.50 128.50,513.50 128.50,553.80 136.00,553.80 136.00,593.50 143.20,593.50 143.20,634.60 204.00,634.60" fill="none" stroke="#1d3b6d" stroke-width="2.0" stroke-linejoin="miter"/>
<polygon points="114.50,485.6 121.90,485.6 118.20,492.0" fill="#1d3b6d"/>
<text x="119.10" y="485.20" font-size="14" text-anchor="middle" font-weight="bold" fill="#1d3b6d" >*</text>
<text x="74.00" y="679.5" font-size="13" fill="#000">Δ Max mod<tspan font-size="10" dy="2.8">(Early–late)</tspan></text>
<text transform="translate(16.80,560.30) rotate(-90)" x="0" y="0" font-size="13" text-anchor="middle" fill="#000">Proportion of neurons</text>
<text x="210.30" y="479.00" font-size="16" text-anchor="start" font-weight="bold" fill="#000" >e</text>
<line x1="253.30" y1="487.10" x2="253.30" y2="635.10" stroke="#222" stroke-width="1"/>
<line x1="249.10" y1="635.00" x2="399.00" y2="635.00" stroke="#808080" stroke-width="1.4"/>
<line x1="249.30" y1="487.10" x2="253.30" y2="487.10" stroke="#222" stroke-width="1"/>
<line x1="249.30" y1="560.85" x2="253.30" y2="560.85" stroke="#222" stroke-width="1"/>
<line x1="253.30" y1="634.60" x2="253.30" y2="638.60" stroke="#222" stroke-width="1"/>
<line x1="326.00" y1="634.60" x2="326.00" y2="638.60" stroke="#555" stroke-width="1"/>
<line x1="398.50" y1="634.60" x2="398.50" y2="638.60" stroke="#555" stroke-width="1"/>
<text x="243.30" y="490.80" font-size="13" text-anchor="end" font-weight="normal" fill="#000" >0.3</text>
<text x="243.30" y="564.55" font-size="13" text-anchor="end" font-weight="normal" fill="#000" >0.15</text>
<text x="243.30" y="638.30" font-size="13" text-anchor="end" font-weight="normal" fill="#000" >0</text>
<text x="253.30" y="656.30" font-size="13" text-anchor="middle" font-weight="normal" fill="#000" >−10</text>
<text x="326.00" y="656.30" font-size="13" text-anchor="middle" font-weight="normal" fill="#000" >0</text>
<text x="398.50" y="656.30" font-size="13" text-anchor="middle" font-weight="normal" fill="#000" >10</text>
<line x1="326.10" y1="487.10" x2="326.10" y2="634.60" stroke="#777" stroke-width="0.9" stroke-dasharray="1,2.4"/>
<polyline points="253.30,634.60 269.90,634.60 269.90,613.60 277.30,613.60 277.30,623.70 284.80,623.70 284.80,613.60 300.00,613.60 300.00,583.20 307.50,583.20 307.50,593.50 315.30,593.50 315.30,523.10 323.00,523.10 323.00,503.00 330.70,503.00 330.70,613.60 338.20,613.60 338.20,603.50 345.70,603.50 345.70,623.70 360.90,623.70 360.90,634.60 375.90,634.60 375.90,623.70 383.60,623.70 383.60,634.60 398.50,634.60" fill="none" stroke="#1d3b6d" stroke-width="2.0" stroke-linejoin="miter"/>
<polygon points="315.40,485.6 322.80,485.6 319.10,492.0" fill="#1d3b6d"/>
<text x="320.00" y="485.20" font-size="14" text-anchor="middle" font-weight="bold" fill="#1d3b6d" >*</text>
<text x="265.50" y="679.5" font-size="13" fill="#000">Δ Peak time<tspan font-size="10" dy="2.8">(Early–late)</tspan></text>
<text x="408.00" y="478.60" font-size="16" text-anchor="start" font-weight="bold" fill="#000" >f</text>
<line x1="449.60" y1="487.10" x2="449.60" y2="635.10" stroke="#222" stroke-width="1"/>
<line x1="445.40" y1="635.00" x2="594.50" y2="635.00" stroke="#808080" stroke-width="1.4"/>
<line x1="445.60" y1="487.10" x2="449.60" y2="487.10" stroke="#222" stroke-width="1"/>
<line x1="445.60" y1="560.85" x2="449.60" y2="560.85" stroke="#222" stroke-width="1"/>
<line x1="449.60" y1="634.60" x2="449.60" y2="638.60" stroke="#222" stroke-width="1"/>
<line x1="521.80" y1="634.60" x2="521.80" y2="638.60" stroke="#555" stroke-width="1"/>
<line x1="594.00" y1="634.60" x2="594.00" y2="638.60" stroke="#555" stroke-width="1"/>
<text x="439.60" y="490.80" font-size="13" text-anchor="end" font-weight="normal" fill="#000" >0.3</text>
<text x="439.60" y="564.55" font-size="13" text-anchor="end" font-weight="normal" fill="#000" >0.15</text>
<text x="439.60" y="638.30" font-size="13" text-anchor="end" font-weight="normal" fill="#000" >0</text>
<text x="449.60" y="656.30" font-size="13" text-anchor="middle" font-weight="normal" fill="#000" >−10</text>
<text x="521.80" y="656.30" font-size="13" text-anchor="middle" font-weight="normal" fill="#000" >0</text>
<text x="594.00" y="656.30" font-size="13" text-anchor="middle" font-weight="normal" fill="#000" >10</text>
<line x1="521.30" y1="487.10" x2="521.30" y2="634.60" stroke="#777" stroke-width="0.9" stroke-dasharray="1,2.4"/>
<polyline points="449.60,621.90 457.90,621.90 457.90,634.60 472.90,634.60 472.90,621.90 480.30,621.90 480.30,599.20 488.30,599.20 488.30,621.90 496.10,621.90 496.10,576.50 503.80,576.50 503.80,587.80 511.30,587.80 511.30,611.00 519.00,611.00 519.00,530.60 526.80,530.60 526.80,553.50 534.20,553.50 534.20,576.50 542.00,576.50 542.00,621.90 564.40,621.90 564.40,634.60 594.00,634.60" fill="none" stroke="#1d3b6d" stroke-width="2.0" stroke-linejoin="miter"/>
<polygon points="507.30,485.6 514.70,485.6 511.00,492.0" fill="#1d3b6d"/>
<text x="445.00" y="679.5" font-size="13.35" fill="#000">Δ Temporal width<tspan font-size="10" dy="2.8">(Early–late)</tspan></text>
</svg></body></html>
